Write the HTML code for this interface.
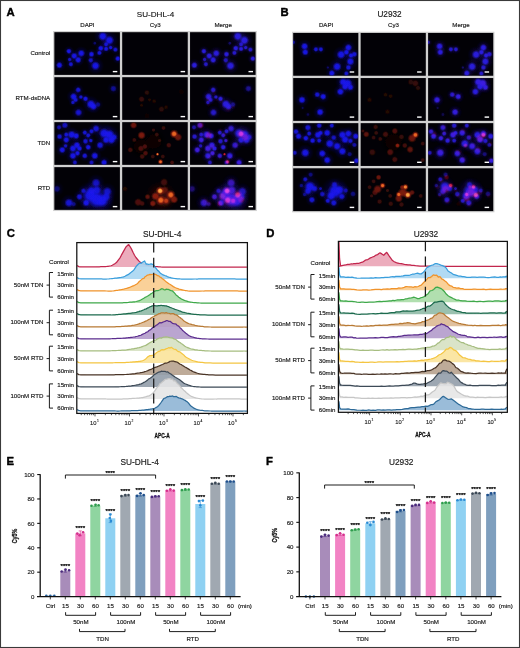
<!DOCTYPE html>
<html><head><meta charset="utf-8"><title>Figure</title>
<style>
html,body{margin:0;padding:0;background:#fff;}
body{width:520px;height:648px;overflow:hidden;font-family:"Liberation Sans",sans-serif;}
svg{display:block;font-family:"Liberation Sans",sans-serif;will-change:transform;}
</style></head><body>
<svg width="520" height="648" viewBox="0 0 520 648">
<rect x="0" y="0" width="520" height="648" fill="#ffffff"/>
<defs><radialGradient id="g0"><stop offset="0" stop-color="rgb(26,22,240)" stop-opacity="1"/><stop offset="0.48" stop-color="rgb(26,22,240)" stop-opacity="0.93"/><stop offset="0.74" stop-color="rgb(26,22,240)" stop-opacity="0.42"/><stop offset="1" stop-color="rgb(26,22,240)" stop-opacity="0"/></radialGradient><radialGradient id="g1"><stop offset="0" stop-color="rgb(18,14,150)" stop-opacity="1"/><stop offset="0.48" stop-color="rgb(18,14,150)" stop-opacity="0.93"/><stop offset="0.74" stop-color="rgb(18,14,150)" stop-opacity="0.42"/><stop offset="1" stop-color="rgb(18,14,150)" stop-opacity="0"/></radialGradient><radialGradient id="g2"><stop offset="0" stop-color="rgb(17,4,3)" stop-opacity="1"/><stop offset="0.48" stop-color="rgb(17,4,3)" stop-opacity="0.93"/><stop offset="0.74" stop-color="rgb(17,4,3)" stop-opacity="0.42"/><stop offset="1" stop-color="rgb(17,4,3)" stop-opacity="0"/></radialGradient><radialGradient id="g3"><stop offset="0" stop-color="rgb(35,8,6)" stop-opacity="1"/><stop offset="0.48" stop-color="rgb(35,8,6)" stop-opacity="0.93"/><stop offset="0.74" stop-color="rgb(35,8,6)" stop-opacity="0.42"/><stop offset="1" stop-color="rgb(35,8,6)" stop-opacity="0"/></radialGradient><radialGradient id="g4"><stop offset="0" stop-color="rgb(44,11,8)" stop-opacity="1"/><stop offset="0.48" stop-color="rgb(44,11,8)" stop-opacity="0.93"/><stop offset="0.74" stop-color="rgb(44,11,8)" stop-opacity="0.42"/><stop offset="1" stop-color="rgb(44,11,8)" stop-opacity="0"/></radialGradient><radialGradient id="g5"><stop offset="0" stop-color="rgb(56,13,9)" stop-opacity="1"/><stop offset="0.48" stop-color="rgb(56,13,9)" stop-opacity="0.93"/><stop offset="0.74" stop-color="rgb(56,13,9)" stop-opacity="0.42"/><stop offset="1" stop-color="rgb(56,13,9)" stop-opacity="0"/></radialGradient><radialGradient id="g6"><stop offset="0" stop-color="rgb(8,2,1)" stop-opacity="1"/><stop offset="0.48" stop-color="rgb(8,2,1)" stop-opacity="0.93"/><stop offset="0.74" stop-color="rgb(8,2,1)" stop-opacity="0.42"/><stop offset="1" stop-color="rgb(8,2,1)" stop-opacity="0"/></radialGradient><radialGradient id="g7"><stop offset="0" stop-color="rgb(68,15,10)" stop-opacity="1"/><stop offset="0.48" stop-color="rgb(68,15,10)" stop-opacity="0.93"/><stop offset="0.74" stop-color="rgb(68,15,10)" stop-opacity="0.42"/><stop offset="1" stop-color="rgb(68,15,10)" stop-opacity="0"/></radialGradient><radialGradient id="g8"><stop offset="0" stop-color="rgb(80,17,11)" stop-opacity="1"/><stop offset="0.48" stop-color="rgb(80,17,11)" stop-opacity="0.93"/><stop offset="0.74" stop-color="rgb(80,17,11)" stop-opacity="0.42"/><stop offset="1" stop-color="rgb(80,17,11)" stop-opacity="0"/></radialGradient><radialGradient id="g9"><stop offset="0" stop-color="rgb(108,22,12)" stop-opacity="1"/><stop offset="0.48" stop-color="rgb(108,22,12)" stop-opacity="0.93"/><stop offset="0.74" stop-color="rgb(108,22,12)" stop-opacity="0.42"/><stop offset="1" stop-color="rgb(108,22,12)" stop-opacity="0"/></radialGradient><radialGradient id="g10"><stop offset="0" stop-color="rgb(124,26,13)" stop-opacity="1"/><stop offset="0.48" stop-color="rgb(124,26,13)" stop-opacity="0.93"/><stop offset="0.74" stop-color="rgb(124,26,13)" stop-opacity="0.42"/><stop offset="1" stop-color="rgb(124,26,13)" stop-opacity="0"/></radialGradient><radialGradient id="g11"><stop offset="0" stop-color="rgb(140,31,14)" stop-opacity="1"/><stop offset="0.48" stop-color="rgb(140,31,14)" stop-opacity="0.93"/><stop offset="0.74" stop-color="rgb(140,31,14)" stop-opacity="0.42"/><stop offset="1" stop-color="rgb(140,31,14)" stop-opacity="0"/></radialGradient><radialGradient id="g12"><stop offset="0" stop-color="rgb(156,38,16)" stop-opacity="1"/><stop offset="0.48" stop-color="rgb(156,38,16)" stop-opacity="0.93"/><stop offset="0.74" stop-color="rgb(156,38,16)" stop-opacity="0.42"/><stop offset="1" stop-color="rgb(156,38,16)" stop-opacity="0"/></radialGradient><radialGradient id="g13"><stop offset="0" stop-color="rgb(235,104,36)" stop-opacity="1"/><stop offset="0.48" stop-color="rgb(235,104,36)" stop-opacity="0.93"/><stop offset="0.74" stop-color="rgb(235,104,36)" stop-opacity="0.42"/><stop offset="1" stop-color="rgb(235,104,36)" stop-opacity="0"/></radialGradient><radialGradient id="g14"><stop offset="0" stop-color="rgb(245,135,52)" stop-opacity="1"/><stop offset="0.48" stop-color="rgb(245,135,52)" stop-opacity="0.93"/><stop offset="0.74" stop-color="rgb(245,135,52)" stop-opacity="0.42"/><stop offset="1" stop-color="rgb(245,135,52)" stop-opacity="0"/></radialGradient><radialGradient id="g15"><stop offset="0" stop-color="rgb(94,19,11)" stop-opacity="1"/><stop offset="0.48" stop-color="rgb(94,19,11)" stop-opacity="0.93"/><stop offset="0.74" stop-color="rgb(94,19,11)" stop-opacity="0.42"/><stop offset="1" stop-color="rgb(94,19,11)" stop-opacity="0"/></radialGradient><radialGradient id="g16"><stop offset="0" stop-color="rgb(190,58,22)" stop-opacity="1"/><stop offset="0.48" stop-color="rgb(190,58,22)" stop-opacity="0.93"/><stop offset="0.74" stop-color="rgb(190,58,22)" stop-opacity="0.42"/><stop offset="1" stop-color="rgb(190,58,22)" stop-opacity="0"/></radialGradient><radialGradient id="g17"><stop offset="0" stop-color="rgb(255,168,70)" stop-opacity="1"/><stop offset="0.48" stop-color="rgb(255,168,70)" stop-opacity="0.93"/><stop offset="0.74" stop-color="rgb(255,168,70)" stop-opacity="0.42"/><stop offset="1" stop-color="rgb(255,168,70)" stop-opacity="0"/></radialGradient><radialGradient id="g18"><stop offset="0" stop-color="rgb(44,28,232)" stop-opacity="1"/><stop offset="0.48" stop-color="rgb(44,28,232)" stop-opacity="0.93"/><stop offset="0.74" stop-color="rgb(44,28,232)" stop-opacity="0.42"/><stop offset="1" stop-color="rgb(44,28,232)" stop-opacity="0"/></radialGradient><radialGradient id="g19"><stop offset="0" stop-color="rgb(30,18,150)" stop-opacity="1"/><stop offset="0.48" stop-color="rgb(30,18,150)" stop-opacity="0.93"/><stop offset="0.74" stop-color="rgb(30,18,150)" stop-opacity="0.42"/><stop offset="1" stop-color="rgb(30,18,150)" stop-opacity="0"/></radialGradient><radialGradient id="g20"><stop offset="0" stop-color="rgb(6,0,0)" stop-opacity="1"/><stop offset="0.48" stop-color="rgb(6,0,0)" stop-opacity="0.93"/><stop offset="0.74" stop-color="rgb(6,0,0)" stop-opacity="0.42"/><stop offset="1" stop-color="rgb(6,0,0)" stop-opacity="0"/></radialGradient><radialGradient id="g21"><stop offset="0" stop-color="rgb(13,1,1)" stop-opacity="1"/><stop offset="0.48" stop-color="rgb(13,1,1)" stop-opacity="0.93"/><stop offset="0.74" stop-color="rgb(13,1,1)" stop-opacity="0.42"/><stop offset="1" stop-color="rgb(13,1,1)" stop-opacity="0"/></radialGradient><radialGradient id="g22"><stop offset="0" stop-color="rgb(16,1,2)" stop-opacity="1"/><stop offset="0.48" stop-color="rgb(16,1,2)" stop-opacity="0.93"/><stop offset="0.74" stop-color="rgb(16,1,2)" stop-opacity="0.42"/><stop offset="1" stop-color="rgb(16,1,2)" stop-opacity="0"/></radialGradient><radialGradient id="g23"><stop offset="0" stop-color="rgb(21,1,2)" stop-opacity="1"/><stop offset="0.48" stop-color="rgb(21,1,2)" stop-opacity="0.93"/><stop offset="0.74" stop-color="rgb(21,1,2)" stop-opacity="0.42"/><stop offset="1" stop-color="rgb(21,1,2)" stop-opacity="0"/></radialGradient><radialGradient id="g24"><stop offset="0" stop-color="rgb(3,0,0)" stop-opacity="1"/><stop offset="0.48" stop-color="rgb(3,0,0)" stop-opacity="0.93"/><stop offset="0.74" stop-color="rgb(3,0,0)" stop-opacity="0.42"/><stop offset="1" stop-color="rgb(3,0,0)" stop-opacity="0"/></radialGradient><radialGradient id="g25"><stop offset="0" stop-color="rgb(26,2,2)" stop-opacity="1"/><stop offset="0.48" stop-color="rgb(26,2,2)" stop-opacity="0.93"/><stop offset="0.74" stop-color="rgb(26,2,2)" stop-opacity="0.42"/><stop offset="1" stop-color="rgb(26,2,2)" stop-opacity="0"/></radialGradient><radialGradient id="g26"><stop offset="0" stop-color="rgb(30,2,2)" stop-opacity="1"/><stop offset="0.48" stop-color="rgb(30,2,2)" stop-opacity="0.93"/><stop offset="0.74" stop-color="rgb(30,2,2)" stop-opacity="0.42"/><stop offset="1" stop-color="rgb(30,2,2)" stop-opacity="0"/></radialGradient><radialGradient id="g27"><stop offset="0" stop-color="rgb(73,5,5)" stop-opacity="1"/><stop offset="0.48" stop-color="rgb(73,5,5)" stop-opacity="0.93"/><stop offset="0.74" stop-color="rgb(73,5,5)" stop-opacity="0.42"/><stop offset="1" stop-color="rgb(73,5,5)" stop-opacity="0"/></radialGradient><radialGradient id="g28"><stop offset="0" stop-color="rgb(84,6,6)" stop-opacity="1"/><stop offset="0.48" stop-color="rgb(84,6,6)" stop-opacity="0.93"/><stop offset="0.74" stop-color="rgb(84,6,6)" stop-opacity="0.42"/><stop offset="1" stop-color="rgb(84,6,6)" stop-opacity="0"/></radialGradient><radialGradient id="g29"><stop offset="0" stop-color="rgb(95,7,6)" stop-opacity="1"/><stop offset="0.48" stop-color="rgb(95,7,6)" stop-opacity="0.93"/><stop offset="0.74" stop-color="rgb(95,7,6)" stop-opacity="0.42"/><stop offset="1" stop-color="rgb(95,7,6)" stop-opacity="0"/></radialGradient><radialGradient id="g30"><stop offset="0" stop-color="rgb(106,9,7)" stop-opacity="1"/><stop offset="0.48" stop-color="rgb(106,9,7)" stop-opacity="0.93"/><stop offset="0.74" stop-color="rgb(106,9,7)" stop-opacity="0.42"/><stop offset="1" stop-color="rgb(106,9,7)" stop-opacity="0"/></radialGradient><radialGradient id="g31"><stop offset="0" stop-color="rgb(199,31,21)" stop-opacity="1"/><stop offset="0.48" stop-color="rgb(199,31,21)" stop-opacity="0.93"/><stop offset="0.74" stop-color="rgb(199,31,21)" stop-opacity="0.42"/><stop offset="1" stop-color="rgb(199,31,21)" stop-opacity="0"/></radialGradient><radialGradient id="g32"><stop offset="0" stop-color="rgb(208,40,31)" stop-opacity="1"/><stop offset="0.48" stop-color="rgb(208,40,31)" stop-opacity="0.93"/><stop offset="0.74" stop-color="rgb(208,40,31)" stop-opacity="0.42"/><stop offset="1" stop-color="rgb(208,40,31)" stop-opacity="0"/></radialGradient><radialGradient id="g33"><stop offset="0" stop-color="rgb(35,2,2)" stop-opacity="1"/><stop offset="0.48" stop-color="rgb(35,2,2)" stop-opacity="0.93"/><stop offset="0.74" stop-color="rgb(35,2,2)" stop-opacity="0.42"/><stop offset="1" stop-color="rgb(35,2,2)" stop-opacity="0"/></radialGradient><radialGradient id="g34"><stop offset="0" stop-color="rgb(161,17,13)" stop-opacity="1"/><stop offset="0.48" stop-color="rgb(161,17,13)" stop-opacity="0.93"/><stop offset="0.74" stop-color="rgb(161,17,13)" stop-opacity="0.42"/><stop offset="1" stop-color="rgb(161,17,13)" stop-opacity="0"/></radialGradient><radialGradient id="g35"><stop offset="0" stop-color="rgb(216,50,42)" stop-opacity="1"/><stop offset="0.48" stop-color="rgb(216,50,42)" stop-opacity="0.93"/><stop offset="0.74" stop-color="rgb(216,50,42)" stop-opacity="0.42"/><stop offset="1" stop-color="rgb(216,50,42)" stop-opacity="0"/></radialGradient></defs>
<defs>
<filter id="bl" x="-20%" y="-20%" width="140%" height="140%"><feGaussianBlur stdDeviation="1.0"/></filter>
<filter id="bl2" x="-20%" y="-20%" width="140%" height="140%"><feGaussianBlur stdDeviation="0.7"/></filter>
<filter id="soft" x="-5%" y="-5%" width="110%" height="110%"><feGaussianBlur stdDeviation="0.35"/></filter>
<clipPath id="cA00"><rect x="54.35" y="32.2" width="65.55" height="42.7"/></clipPath>
<clipPath id="cA01"><rect x="54.35" y="77.2" width="65.55" height="42.7"/></clipPath>
<clipPath id="cA02"><rect x="54.35" y="122.15" width="65.55" height="42.7"/></clipPath>
<clipPath id="cA03"><rect x="54.35" y="167.15" width="65.55" height="42.7"/></clipPath>
<clipPath id="cA10"><rect x="122.2" y="32.2" width="65.55" height="42.7"/></clipPath>
<clipPath id="cA11"><rect x="122.2" y="77.2" width="65.55" height="42.7"/></clipPath>
<clipPath id="cA12"><rect x="122.2" y="122.15" width="65.55" height="42.7"/></clipPath>
<clipPath id="cA13"><rect x="122.2" y="167.15" width="65.55" height="42.7"/></clipPath>
<clipPath id="cA20"><rect x="190.05" y="32.2" width="65.55" height="42.7"/></clipPath>
<clipPath id="cA21"><rect x="190.05" y="77.2" width="65.55" height="42.7"/></clipPath>
<clipPath id="cA22"><rect x="190.05" y="122.15" width="65.55" height="42.7"/></clipPath>
<clipPath id="cA23"><rect x="190.05" y="167.15" width="65.55" height="42.7"/></clipPath>
<clipPath id="cB00"><rect x="293.2" y="32.95" width="65.15" height="42.8"/></clipPath>
<clipPath id="cB01"><rect x="293.2" y="78.05" width="65.15" height="42.8"/></clipPath>
<clipPath id="cB02"><rect x="293.2" y="123.15" width="65.15" height="42.8"/></clipPath>
<clipPath id="cB03"><rect x="293.2" y="168.3" width="65.15" height="42.8"/></clipPath>
<clipPath id="cB10"><rect x="360.65" y="32.95" width="65.15" height="42.8"/></clipPath>
<clipPath id="cB11"><rect x="360.65" y="78.05" width="65.15" height="42.8"/></clipPath>
<clipPath id="cB12"><rect x="360.65" y="123.15" width="65.15" height="42.8"/></clipPath>
<clipPath id="cB13"><rect x="360.65" y="168.3" width="65.15" height="42.8"/></clipPath>
<clipPath id="cB20"><rect x="428.1" y="32.95" width="65.15" height="42.8"/></clipPath>
<clipPath id="cB21"><rect x="428.1" y="78.05" width="65.15" height="42.8"/></clipPath>
<clipPath id="cB22"><rect x="428.1" y="123.15" width="65.15" height="42.8"/></clipPath>
<clipPath id="cB23"><rect x="428.1" y="168.3" width="65.15" height="42.8"/></clipPath>
</defs>
<rect x="53.1" y="31.0" width="203.75" height="180.05" fill="#d0d0d0"/>
<rect x="54.35" y="32.2" width="65.55" height="42.7" fill="#020106"/>
<g clip-path="url(#cA00)" style="isolation:isolate">
<g filter="url(#bl2)"><circle cx="59.4" cy="65.2" r="6.45" fill="url(#g1)" opacity="0.30"/><circle cx="68.9" cy="51.2" r="5.37" fill="url(#g1)" opacity="0.30"/><circle cx="69.6" cy="59.5" r="4.30" fill="url(#g1)" opacity="0.24"/><circle cx="70.9" cy="64.2" r="5.02" fill="url(#g1)" opacity="0.27"/><circle cx="74.2" cy="55.9" r="6.45" fill="url(#g1)" opacity="0.30"/><circle cx="78.2" cy="59.9" r="6.45" fill="url(#g1)" opacity="0.30"/><circle cx="81.3" cy="53.3" r="7.17" fill="url(#g1)" opacity="0.30"/><circle cx="91.5" cy="54.2" r="5.73" fill="url(#g1)" opacity="0.30"/><circle cx="90.8" cy="60.2" r="5.37" fill="url(#g1)" opacity="0.24"/><circle cx="95.5" cy="65.8" r="8.60" fill="url(#g1)" opacity="0.30"/><circle cx="99.4" cy="52.9" r="5.02" fill="url(#g1)" opacity="0.27"/><circle cx="100.8" cy="48.2" r="5.73" fill="url(#g1)" opacity="0.30"/><circle cx="102.8" cy="36.3" r="8.96" fill="url(#g1)" opacity="0.30"/><circle cx="106.1" cy="44.3" r="5.02" fill="url(#g1)" opacity="0.27"/><circle cx="106.1" cy="48.9" r="5.02" fill="url(#g1)" opacity="0.30"/><circle cx="109.4" cy="40.3" r="8.96" fill="url(#g1)" opacity="0.30"/><circle cx="110.7" cy="47.6" r="4.30" fill="url(#g1)" opacity="0.27"/><circle cx="115.4" cy="49.6" r="5.02" fill="url(#g1)" opacity="0.27"/><circle cx="117.8" cy="58.6" r="5.37" fill="url(#g1)" opacity="0.30"/><circle cx="94.8" cy="43.2" r="3.58" fill="url(#g1)" opacity="0.12"/><circle cx="59.4" cy="65.2" r="3.39" fill="url(#g0)" opacity="0.95"/><circle cx="68.9" cy="51.2" r="2.83" fill="url(#g0)" opacity="0.95"/><circle cx="69.6" cy="59.5" r="2.26" fill="url(#g0)" opacity="0.76"/><circle cx="70.9" cy="64.2" r="2.64" fill="url(#g0)" opacity="0.85"/><circle cx="74.2" cy="55.9" r="3.39" fill="url(#g0)" opacity="0.95"/><circle cx="78.2" cy="59.9" r="3.39" fill="url(#g0)" opacity="0.95"/><circle cx="81.3" cy="53.3" r="3.77" fill="url(#g0)" opacity="0.95"/><circle cx="91.5" cy="54.2" r="3.01" fill="url(#g0)" opacity="0.95"/><circle cx="90.8" cy="60.2" r="2.83" fill="url(#g0)" opacity="0.76"/><circle cx="95.5" cy="65.8" r="4.52" fill="url(#g0)" opacity="0.95"/><circle cx="99.4" cy="52.9" r="2.64" fill="url(#g0)" opacity="0.85"/><circle cx="100.8" cy="48.2" r="3.01" fill="url(#g0)" opacity="0.95"/><circle cx="102.8" cy="36.3" r="4.71" fill="url(#g0)" opacity="0.95"/><circle cx="106.1" cy="44.3" r="2.64" fill="url(#g0)" opacity="0.85"/><circle cx="106.1" cy="48.9" r="2.64" fill="url(#g0)" opacity="0.95"/><circle cx="109.4" cy="40.3" r="4.71" fill="url(#g0)" opacity="0.95"/><circle cx="110.7" cy="47.6" r="2.26" fill="url(#g0)" opacity="0.85"/><circle cx="115.4" cy="49.6" r="2.64" fill="url(#g0)" opacity="0.85"/><circle cx="117.8" cy="58.6" r="2.83" fill="url(#g0)" opacity="0.95"/><circle cx="94.8" cy="43.2" r="1.88" fill="url(#g0)" opacity="0.38"/></g>
</g>
<rect x="112.8" y="70.9" width="4.5" height="1.4" fill="#ffffff"/>
<rect x="54.35" y="77.2" width="65.55" height="42.7" fill="#020106"/>
<g clip-path="url(#cA01)" style="isolation:isolate">
<g filter="url(#bl2)"><circle cx="78.2" cy="89.9" r="5.73" fill="url(#g1)" opacity="0.27"/><circle cx="73.6" cy="96.6" r="7.17" fill="url(#g1)" opacity="0.30"/><circle cx="80.9" cy="97.0" r="4.30" fill="url(#g1)" opacity="0.27"/><circle cx="75.6" cy="99.9" r="5.02" fill="url(#g1)" opacity="0.27"/><circle cx="72.9" cy="102.5" r="4.30" fill="url(#g1)" opacity="0.24"/><circle cx="85.5" cy="98.8" r="5.37" fill="url(#g1)" opacity="0.30"/><circle cx="90.8" cy="104.1" r="8.60" fill="url(#g1)" opacity="0.30"/><circle cx="93.5" cy="106.5" r="7.17" fill="url(#g1)" opacity="0.30"/><circle cx="98.1" cy="104.5" r="5.37" fill="url(#g1)" opacity="0.15"/><circle cx="78.5" cy="112.5" r="7.17" fill="url(#g1)" opacity="0.27"/><circle cx="113.4" cy="88.6" r="6.45" fill="url(#g1)" opacity="0.18"/><circle cx="78.2" cy="89.9" r="3.01" fill="url(#g0)" opacity="0.85"/><circle cx="73.6" cy="96.6" r="3.77" fill="url(#g0)" opacity="0.95"/><circle cx="80.9" cy="97.0" r="2.26" fill="url(#g0)" opacity="0.85"/><circle cx="75.6" cy="99.9" r="2.64" fill="url(#g0)" opacity="0.85"/><circle cx="72.9" cy="102.5" r="2.26" fill="url(#g0)" opacity="0.76"/><circle cx="85.5" cy="98.8" r="2.83" fill="url(#g0)" opacity="0.95"/><circle cx="90.8" cy="104.1" r="4.52" fill="url(#g0)" opacity="0.95"/><circle cx="93.5" cy="106.5" r="3.77" fill="url(#g0)" opacity="0.95"/><circle cx="98.1" cy="104.5" r="2.83" fill="url(#g0)" opacity="0.47"/><circle cx="78.5" cy="112.5" r="3.77" fill="url(#g0)" opacity="0.85"/><circle cx="113.4" cy="88.6" r="3.39" fill="url(#g0)" opacity="0.57"/></g>
</g>
<rect x="112.8" y="115.9" width="4.5" height="1.4" fill="#ffffff"/>
<rect x="54.35" y="122.15" width="65.55" height="42.7" fill="#020106"/>
<g clip-path="url(#cA02)" style="isolation:isolate">
<g filter="url(#bl2)"><circle cx="64.9" cy="125.3" r="6.45" fill="url(#g1)" opacity="0.24"/><circle cx="59.0" cy="127.3" r="5.02" fill="url(#g1)" opacity="0.21"/><circle cx="59.6" cy="136.6" r="5.73" fill="url(#g1)" opacity="0.27"/><circle cx="66.3" cy="134.6" r="5.02" fill="url(#g1)" opacity="0.27"/><circle cx="66.3" cy="139.9" r="6.45" fill="url(#g1)" opacity="0.30"/><circle cx="71.6" cy="134.6" r="7.88" fill="url(#g1)" opacity="0.30"/><circle cx="76.2" cy="135.9" r="6.45" fill="url(#g1)" opacity="0.30"/><circle cx="62.3" cy="149.9" r="6.45" fill="url(#g1)" opacity="0.30"/><circle cx="65.6" cy="145.9" r="4.30" fill="url(#g1)" opacity="0.24"/><circle cx="72.9" cy="148.5" r="7.17" fill="url(#g1)" opacity="0.30"/><circle cx="76.9" cy="145.2" r="7.17" fill="url(#g1)" opacity="0.30"/><circle cx="79.5" cy="148.5" r="5.37" fill="url(#g1)" opacity="0.30"/><circle cx="77.5" cy="153.2" r="5.37" fill="url(#g1)" opacity="0.30"/><circle cx="72.9" cy="155.8" r="7.17" fill="url(#g1)" opacity="0.30"/><circle cx="74.9" cy="162.5" r="5.02" fill="url(#g1)" opacity="0.24"/><circle cx="84.8" cy="132.6" r="5.02" fill="url(#g1)" opacity="0.27"/><circle cx="88.2" cy="135.3" r="5.02" fill="url(#g1)" opacity="0.27"/><circle cx="91.5" cy="131.3" r="5.02" fill="url(#g1)" opacity="0.27"/><circle cx="85.5" cy="141.2" r="5.73" fill="url(#g1)" opacity="0.27"/><circle cx="90.8" cy="140.6" r="4.30" fill="url(#g1)" opacity="0.27"/><circle cx="88.2" cy="147.2" r="5.73" fill="url(#g1)" opacity="0.30"/><circle cx="84.8" cy="155.8" r="5.73" fill="url(#g1)" opacity="0.27"/><circle cx="94.8" cy="155.8" r="7.17" fill="url(#g1)" opacity="0.30"/><circle cx="91.5" cy="162.5" r="5.02" fill="url(#g1)" opacity="0.24"/><circle cx="96.1" cy="128.6" r="7.17" fill="url(#g1)" opacity="0.27"/><circle cx="100.1" cy="145.2" r="7.17" fill="url(#g1)" opacity="0.27"/><circle cx="104.1" cy="133.3" r="10.03" fill="url(#g1)" opacity="0.30"/><circle cx="109.4" cy="134.6" r="10.03" fill="url(#g1)" opacity="0.30"/><circle cx="111.4" cy="139.9" r="7.88" fill="url(#g1)" opacity="0.30"/><circle cx="106.1" cy="139.9" r="7.17" fill="url(#g1)" opacity="0.30"/><circle cx="114.0" cy="137.2" r="6.45" fill="url(#g1)" opacity="0.27"/><circle cx="104.1" cy="162.5" r="6.45" fill="url(#g1)" opacity="0.30"/><circle cx="64.9" cy="125.3" r="3.39" fill="url(#g0)" opacity="0.76"/><circle cx="59.0" cy="127.3" r="2.64" fill="url(#g0)" opacity="0.66"/><circle cx="59.6" cy="136.6" r="3.01" fill="url(#g0)" opacity="0.85"/><circle cx="66.3" cy="134.6" r="2.64" fill="url(#g0)" opacity="0.85"/><circle cx="66.3" cy="139.9" r="3.39" fill="url(#g0)" opacity="0.95"/><circle cx="71.6" cy="134.6" r="4.15" fill="url(#g0)" opacity="0.95"/><circle cx="76.2" cy="135.9" r="3.39" fill="url(#g0)" opacity="0.95"/><circle cx="62.3" cy="149.9" r="3.39" fill="url(#g0)" opacity="0.95"/><circle cx="65.6" cy="145.9" r="2.26" fill="url(#g0)" opacity="0.76"/><circle cx="72.9" cy="148.5" r="3.77" fill="url(#g0)" opacity="0.95"/><circle cx="76.9" cy="145.2" r="3.77" fill="url(#g0)" opacity="0.95"/><circle cx="79.5" cy="148.5" r="2.83" fill="url(#g0)" opacity="0.95"/><circle cx="77.5" cy="153.2" r="2.83" fill="url(#g0)" opacity="0.95"/><circle cx="72.9" cy="155.8" r="3.77" fill="url(#g0)" opacity="0.95"/><circle cx="74.9" cy="162.5" r="2.64" fill="url(#g0)" opacity="0.76"/><circle cx="84.8" cy="132.6" r="2.64" fill="url(#g0)" opacity="0.85"/><circle cx="88.2" cy="135.3" r="2.64" fill="url(#g0)" opacity="0.85"/><circle cx="91.5" cy="131.3" r="2.64" fill="url(#g0)" opacity="0.85"/><circle cx="85.5" cy="141.2" r="3.01" fill="url(#g0)" opacity="0.85"/><circle cx="90.8" cy="140.6" r="2.26" fill="url(#g0)" opacity="0.85"/><circle cx="88.2" cy="147.2" r="3.01" fill="url(#g0)" opacity="0.95"/><circle cx="84.8" cy="155.8" r="3.01" fill="url(#g0)" opacity="0.85"/><circle cx="94.8" cy="155.8" r="3.77" fill="url(#g0)" opacity="0.95"/><circle cx="91.5" cy="162.5" r="2.64" fill="url(#g0)" opacity="0.76"/><circle cx="96.1" cy="128.6" r="3.77" fill="url(#g0)" opacity="0.85"/><circle cx="100.1" cy="145.2" r="3.77" fill="url(#g0)" opacity="0.85"/><circle cx="104.1" cy="133.3" r="5.28" fill="url(#g0)" opacity="0.95"/><circle cx="109.4" cy="134.6" r="5.28" fill="url(#g0)" opacity="0.95"/><circle cx="111.4" cy="139.9" r="4.15" fill="url(#g0)" opacity="0.95"/><circle cx="106.1" cy="139.9" r="3.77" fill="url(#g0)" opacity="0.95"/><circle cx="114.0" cy="137.2" r="3.39" fill="url(#g0)" opacity="0.85"/><circle cx="104.1" cy="162.5" r="3.39" fill="url(#g0)" opacity="0.95"/></g>
</g>
<rect x="112.8" y="160.9" width="4.5" height="1.4" fill="#ffffff"/>
<rect x="54.35" y="167.15" width="65.55" height="42.7" fill="#020106"/>
<g clip-path="url(#cA03)" style="isolation:isolate">
<g filter="url(#bl2)"><circle cx="57.0" cy="188.9" r="7.17" fill="url(#g1)" opacity="0.14"/><circle cx="68.9" cy="202.8" r="8.60" fill="url(#g1)" opacity="0.27"/><circle cx="73.6" cy="204.1" r="5.02" fill="url(#g1)" opacity="0.15"/><circle cx="79.5" cy="196.8" r="6.45" fill="url(#g1)" opacity="0.27"/><circle cx="83.5" cy="190.9" r="5.37" fill="url(#g1)" opacity="0.24"/><circle cx="86.2" cy="202.8" r="7.17" fill="url(#g1)" opacity="0.30"/><circle cx="90.2" cy="195.5" r="14.33" fill="url(#g1)" opacity="0.30"/><circle cx="96.8" cy="199.5" r="16.12" fill="url(#g1)" opacity="0.30"/><circle cx="102.1" cy="200.8" r="12.54" fill="url(#g1)" opacity="0.30"/><circle cx="96.1" cy="182.9" r="8.96" fill="url(#g1)" opacity="0.24"/><circle cx="96.8" cy="190.2" r="8.96" fill="url(#g1)" opacity="0.27"/><circle cx="107.4" cy="191.5" r="8.96" fill="url(#g1)" opacity="0.24"/><circle cx="106.1" cy="196.8" r="8.96" fill="url(#g1)" opacity="0.27"/><circle cx="91.5" cy="190.9" r="8.96" fill="url(#g1)" opacity="0.27"/><circle cx="57.0" cy="188.9" r="3.77" fill="url(#g0)" opacity="0.43"/><circle cx="68.9" cy="202.8" r="4.52" fill="url(#g0)" opacity="0.85"/><circle cx="73.6" cy="204.1" r="2.64" fill="url(#g0)" opacity="0.47"/><circle cx="79.5" cy="196.8" r="3.39" fill="url(#g0)" opacity="0.85"/><circle cx="83.5" cy="190.9" r="2.83" fill="url(#g0)" opacity="0.76"/><circle cx="86.2" cy="202.8" r="3.77" fill="url(#g0)" opacity="0.95"/><circle cx="90.2" cy="195.5" r="7.54" fill="url(#g0)" opacity="0.95"/><circle cx="96.8" cy="199.5" r="8.48" fill="url(#g0)" opacity="0.95"/><circle cx="102.1" cy="200.8" r="6.59" fill="url(#g0)" opacity="0.95"/><circle cx="96.1" cy="182.9" r="4.71" fill="url(#g0)" opacity="0.76"/><circle cx="96.8" cy="190.2" r="4.71" fill="url(#g0)" opacity="0.85"/><circle cx="107.4" cy="191.5" r="4.71" fill="url(#g0)" opacity="0.76"/><circle cx="106.1" cy="196.8" r="4.71" fill="url(#g0)" opacity="0.85"/><circle cx="91.5" cy="190.9" r="4.71" fill="url(#g0)" opacity="0.85"/></g>
</g>
<rect x="112.8" y="205.9" width="4.5" height="1.4" fill="#ffffff"/>
<rect x="122.2" y="32.2" width="65.55" height="42.7" fill="#020106"/>
<g clip-path="url(#cA10)" style="isolation:isolate">
</g>
<rect x="180.6" y="70.9" width="4.5" height="1.4" fill="#ffffff"/>
<rect x="122.2" y="77.2" width="65.55" height="42.7" fill="#020106"/>
<g clip-path="url(#cA11)" style="isolation:isolate">
<g filter="url(#bl2)"><circle cx="146.9" cy="115.8" r="2.97" fill="url(#g2)"/><circle cx="181.4" cy="91.7" r="2.97" fill="url(#g2)"/><circle cx="149.5" cy="99.9" r="2.12" fill="url(#g3)"/><circle cx="154.2" cy="101.2" r="2.55" fill="url(#g3)"/><circle cx="141.6" cy="105.2" r="2.12" fill="url(#g3)"/><circle cx="166.1" cy="107.2" r="2.55" fill="url(#g3)"/><circle cx="146.9" cy="92.6" r="2.97" fill="url(#g4)"/><circle cx="161.5" cy="109.2" r="3.40" fill="url(#g4)"/><circle cx="141.6" cy="99.2" r="3.40" fill="url(#g5)"/></g>
</g>
<rect x="180.6" y="115.9" width="4.5" height="1.4" fill="#ffffff"/>
<rect x="122.2" y="122.15" width="65.55" height="42.7" fill="#020106"/>
<g clip-path="url(#cA12)" style="isolation:isolate">
<g filter="url(#bl2)"><circle cx="154.2" cy="141.2" r="12.74" fill="url(#g6)"/><circle cx="140.9" cy="146.5" r="12.74" fill="url(#g6)"/><circle cx="153.5" cy="130.0" r="2.12" fill="url(#g5)"/><circle cx="156.8" cy="134.6" r="2.55" fill="url(#g5)"/><circle cx="163.5" cy="128.0" r="2.55" fill="url(#g5)"/><circle cx="159.5" cy="140.6" r="2.12" fill="url(#g5)"/><circle cx="134.3" cy="139.9" r="2.55" fill="url(#g5)"/><circle cx="152.8" cy="156.5" r="2.55" fill="url(#g5)"/><circle cx="162.8" cy="156.5" r="2.55" fill="url(#g5)"/><circle cx="168.8" cy="145.2" r="2.97" fill="url(#g7)"/><circle cx="130.3" cy="149.9" r="2.97" fill="url(#g7)"/><circle cx="142.2" cy="156.5" r="2.97" fill="url(#g7)"/><circle cx="172.1" cy="162.5" r="2.55" fill="url(#g7)"/><circle cx="140.9" cy="148.5" r="3.40" fill="url(#g8)"/><circle cx="144.9" cy="146.5" r="2.97" fill="url(#g8)"/><circle cx="145.5" cy="153.2" r="2.97" fill="url(#g8)"/><circle cx="133.6" cy="125.3" r="3.82" fill="url(#g9)"/><circle cx="178.1" cy="137.2" r="4.25" fill="url(#g9)"/><circle cx="141.6" cy="135.3" r="4.25" fill="url(#g10)"/><circle cx="174.1" cy="133.9" r="4.67" fill="url(#g11)"/><circle cx="160.5" cy="161.8" r="2.97" fill="url(#g11)"/><circle cx="157.5" cy="154.2" r="1.91" fill="url(#g12)"/><circle cx="174.1" cy="133.9" r="2.90" fill="url(#g13)"/><circle cx="160.5" cy="161.8" r="1.84" fill="url(#g13)"/><circle cx="157.5" cy="154.2" r="1.18" fill="url(#g14)"/></g>
</g>
<rect x="180.6" y="160.9" width="4.5" height="1.4" fill="#ffffff"/>
<rect x="122.2" y="167.15" width="65.55" height="42.7" fill="#020106"/>
<g clip-path="url(#cA13)" style="isolation:isolate">
<g filter="url(#bl2)"><circle cx="160.8" cy="196.8" r="15.92" fill="url(#g3)"/><circle cx="125.0" cy="188.9" r="2.97" fill="url(#g3)"/><circle cx="164.8" cy="198.2" r="9.55" fill="url(#g5)"/><circle cx="142.2" cy="203.5" r="2.97" fill="url(#g7)"/><circle cx="164.1" cy="182.2" r="4.25" fill="url(#g7)"/><circle cx="138.2" cy="202.2" r="4.25" fill="url(#g8)"/><circle cx="147.5" cy="196.8" r="2.97" fill="url(#g15)"/><circle cx="164.8" cy="190.2" r="4.25" fill="url(#g15)"/><circle cx="166.1" cy="200.8" r="4.25" fill="url(#g10)"/><circle cx="152.8" cy="203.5" r="3.40" fill="url(#g10)"/><circle cx="174.1" cy="199.5" r="4.25" fill="url(#g10)"/><circle cx="155.5" cy="196.2" r="4.25" fill="url(#g11)"/><circle cx="170.8" cy="194.9" r="5.10" fill="url(#g11)"/><circle cx="160.8" cy="200.2" r="5.31" fill="url(#g11)"/><circle cx="160.1" cy="190.9" r="4.67" fill="url(#g12)"/><circle cx="166.1" cy="200.8" r="2.63" fill="url(#g16)"/><circle cx="170.8" cy="194.9" r="3.16" fill="url(#g13)"/><circle cx="160.8" cy="200.2" r="3.29" fill="url(#g13)"/><circle cx="160.1" cy="190.9" r="2.90" fill="url(#g17)"/></g>
</g>
<rect x="180.6" y="205.9" width="4.5" height="1.4" fill="#ffffff"/>
<rect x="190.05" y="32.2" width="65.55" height="42.7" fill="#020106"/>
<g clip-path="url(#cA20)" style="isolation:isolate">
<g filter="url(#bl2)"><circle cx="194.4" cy="65.2" r="6.45" fill="url(#g19)" opacity="0.30"/><circle cx="203.9" cy="51.2" r="5.37" fill="url(#g19)" opacity="0.30"/><circle cx="204.6" cy="59.5" r="4.30" fill="url(#g19)" opacity="0.24"/><circle cx="205.9" cy="64.2" r="5.02" fill="url(#g19)" opacity="0.27"/><circle cx="209.2" cy="55.9" r="6.45" fill="url(#g19)" opacity="0.30"/><circle cx="213.2" cy="59.9" r="6.45" fill="url(#g19)" opacity="0.30"/><circle cx="216.3" cy="53.3" r="7.17" fill="url(#g19)" opacity="0.30"/><circle cx="226.5" cy="54.2" r="5.73" fill="url(#g19)" opacity="0.30"/><circle cx="225.8" cy="60.2" r="5.37" fill="url(#g19)" opacity="0.24"/><circle cx="230.5" cy="65.8" r="8.60" fill="url(#g19)" opacity="0.30"/><circle cx="234.4" cy="52.9" r="5.02" fill="url(#g19)" opacity="0.27"/><circle cx="235.8" cy="48.2" r="5.73" fill="url(#g19)" opacity="0.30"/><circle cx="237.8" cy="36.3" r="8.96" fill="url(#g19)" opacity="0.30"/><circle cx="241.1" cy="44.3" r="5.02" fill="url(#g19)" opacity="0.27"/><circle cx="241.1" cy="48.9" r="5.02" fill="url(#g19)" opacity="0.30"/><circle cx="244.4" cy="40.3" r="8.96" fill="url(#g19)" opacity="0.30"/><circle cx="245.7" cy="47.6" r="4.30" fill="url(#g19)" opacity="0.27"/><circle cx="250.4" cy="49.6" r="5.02" fill="url(#g19)" opacity="0.27"/><circle cx="252.8" cy="58.6" r="5.37" fill="url(#g19)" opacity="0.30"/><circle cx="229.8" cy="43.2" r="3.58" fill="url(#g19)" opacity="0.12"/><circle cx="194.4" cy="65.2" r="3.39" fill="url(#g18)" opacity="0.95"/><circle cx="203.9" cy="51.2" r="2.83" fill="url(#g18)" opacity="0.95"/><circle cx="204.6" cy="59.5" r="2.26" fill="url(#g18)" opacity="0.76"/><circle cx="205.9" cy="64.2" r="2.64" fill="url(#g18)" opacity="0.85"/><circle cx="209.2" cy="55.9" r="3.39" fill="url(#g18)" opacity="0.95"/><circle cx="213.2" cy="59.9" r="3.39" fill="url(#g18)" opacity="0.95"/><circle cx="216.3" cy="53.3" r="3.77" fill="url(#g18)" opacity="0.95"/><circle cx="226.5" cy="54.2" r="3.01" fill="url(#g18)" opacity="0.95"/><circle cx="225.8" cy="60.2" r="2.83" fill="url(#g18)" opacity="0.76"/><circle cx="230.5" cy="65.8" r="4.52" fill="url(#g18)" opacity="0.95"/><circle cx="234.4" cy="52.9" r="2.64" fill="url(#g18)" opacity="0.85"/><circle cx="235.8" cy="48.2" r="3.01" fill="url(#g18)" opacity="0.95"/><circle cx="237.8" cy="36.3" r="4.71" fill="url(#g18)" opacity="0.95"/><circle cx="241.1" cy="44.3" r="2.64" fill="url(#g18)" opacity="0.85"/><circle cx="241.1" cy="48.9" r="2.64" fill="url(#g18)" opacity="0.95"/><circle cx="244.4" cy="40.3" r="4.71" fill="url(#g18)" opacity="0.95"/><circle cx="245.7" cy="47.6" r="2.26" fill="url(#g18)" opacity="0.85"/><circle cx="250.4" cy="49.6" r="2.64" fill="url(#g18)" opacity="0.85"/><circle cx="252.8" cy="58.6" r="2.83" fill="url(#g18)" opacity="0.95"/><circle cx="229.8" cy="43.2" r="1.88" fill="url(#g18)" opacity="0.38"/></g>
</g>
<rect x="248.5" y="70.9" width="4.5" height="1.4" fill="#ffffff"/>
<rect x="190.05" y="77.2" width="65.55" height="42.7" fill="#020106"/>
<g clip-path="url(#cA21)" style="isolation:isolate">
<g filter="url(#bl2)"><circle cx="213.2" cy="89.9" r="5.73" fill="url(#g19)" opacity="0.27"/><circle cx="208.6" cy="96.6" r="7.17" fill="url(#g19)" opacity="0.30"/><circle cx="215.9" cy="97.0" r="4.30" fill="url(#g19)" opacity="0.27"/><circle cx="210.6" cy="99.9" r="5.02" fill="url(#g19)" opacity="0.27"/><circle cx="207.9" cy="102.5" r="4.30" fill="url(#g19)" opacity="0.24"/><circle cx="220.5" cy="98.8" r="5.37" fill="url(#g19)" opacity="0.30"/><circle cx="225.8" cy="104.1" r="8.60" fill="url(#g19)" opacity="0.30"/><circle cx="228.5" cy="106.5" r="7.17" fill="url(#g19)" opacity="0.30"/><circle cx="233.1" cy="104.5" r="5.37" fill="url(#g19)" opacity="0.15"/><circle cx="213.5" cy="112.5" r="7.17" fill="url(#g19)" opacity="0.27"/><circle cx="248.4" cy="88.6" r="6.45" fill="url(#g19)" opacity="0.18"/><circle cx="213.2" cy="89.9" r="3.01" fill="url(#g18)" opacity="0.85"/><circle cx="208.6" cy="96.6" r="3.77" fill="url(#g18)" opacity="0.95"/><circle cx="215.9" cy="97.0" r="2.26" fill="url(#g18)" opacity="0.85"/><circle cx="210.6" cy="99.9" r="2.64" fill="url(#g18)" opacity="0.85"/><circle cx="207.9" cy="102.5" r="2.26" fill="url(#g18)" opacity="0.76"/><circle cx="220.5" cy="98.8" r="2.83" fill="url(#g18)" opacity="0.95"/><circle cx="225.8" cy="104.1" r="4.52" fill="url(#g18)" opacity="0.95"/><circle cx="228.5" cy="106.5" r="3.77" fill="url(#g18)" opacity="0.95"/><circle cx="233.1" cy="104.5" r="2.83" fill="url(#g18)" opacity="0.47"/><circle cx="213.5" cy="112.5" r="3.77" fill="url(#g18)" opacity="0.85"/><circle cx="248.4" cy="88.6" r="3.39" fill="url(#g18)" opacity="0.57"/></g>
<g filter="url(#bl2)" style="mix-blend-mode:screen"><circle cx="213.9" cy="115.8" r="2.97" fill="url(#g20)"/><circle cx="248.4" cy="91.7" r="2.97" fill="url(#g20)"/><circle cx="216.5" cy="99.9" r="2.12" fill="url(#g21)"/><circle cx="221.2" cy="101.2" r="2.55" fill="url(#g21)"/><circle cx="208.6" cy="105.2" r="2.12" fill="url(#g21)"/><circle cx="233.1" cy="107.2" r="2.55" fill="url(#g21)"/><circle cx="213.9" cy="92.6" r="2.97" fill="url(#g22)"/><circle cx="228.5" cy="109.2" r="3.40" fill="url(#g22)"/><circle cx="208.6" cy="99.2" r="3.40" fill="url(#g23)"/></g>
</g>
<rect x="248.5" y="115.9" width="4.5" height="1.4" fill="#ffffff"/>
<rect x="190.05" y="122.15" width="65.55" height="42.7" fill="#020106"/>
<g clip-path="url(#cA22)" style="isolation:isolate">
<g filter="url(#bl2)"><circle cx="199.9" cy="125.3" r="6.45" fill="url(#g19)" opacity="0.24"/><circle cx="194.0" cy="127.3" r="5.02" fill="url(#g19)" opacity="0.21"/><circle cx="194.6" cy="136.6" r="5.73" fill="url(#g19)" opacity="0.27"/><circle cx="201.3" cy="134.6" r="5.02" fill="url(#g19)" opacity="0.27"/><circle cx="201.3" cy="139.9" r="6.45" fill="url(#g19)" opacity="0.30"/><circle cx="206.6" cy="134.6" r="7.88" fill="url(#g19)" opacity="0.30"/><circle cx="211.2" cy="135.9" r="6.45" fill="url(#g19)" opacity="0.30"/><circle cx="197.3" cy="149.9" r="6.45" fill="url(#g19)" opacity="0.30"/><circle cx="200.6" cy="145.9" r="4.30" fill="url(#g19)" opacity="0.24"/><circle cx="207.9" cy="148.5" r="7.17" fill="url(#g19)" opacity="0.30"/><circle cx="211.9" cy="145.2" r="7.17" fill="url(#g19)" opacity="0.30"/><circle cx="214.5" cy="148.5" r="5.37" fill="url(#g19)" opacity="0.30"/><circle cx="212.5" cy="153.2" r="5.37" fill="url(#g19)" opacity="0.30"/><circle cx="207.9" cy="155.8" r="7.17" fill="url(#g19)" opacity="0.30"/><circle cx="209.9" cy="162.5" r="5.02" fill="url(#g19)" opacity="0.24"/><circle cx="219.8" cy="132.6" r="5.02" fill="url(#g19)" opacity="0.27"/><circle cx="223.2" cy="135.3" r="5.02" fill="url(#g19)" opacity="0.27"/><circle cx="226.5" cy="131.3" r="5.02" fill="url(#g19)" opacity="0.27"/><circle cx="220.5" cy="141.2" r="5.73" fill="url(#g19)" opacity="0.27"/><circle cx="225.8" cy="140.6" r="4.30" fill="url(#g19)" opacity="0.27"/><circle cx="223.2" cy="147.2" r="5.73" fill="url(#g19)" opacity="0.30"/><circle cx="219.8" cy="155.8" r="5.73" fill="url(#g19)" opacity="0.27"/><circle cx="229.8" cy="155.8" r="7.17" fill="url(#g19)" opacity="0.30"/><circle cx="226.5" cy="162.5" r="5.02" fill="url(#g19)" opacity="0.24"/><circle cx="231.1" cy="128.6" r="7.17" fill="url(#g19)" opacity="0.27"/><circle cx="235.1" cy="145.2" r="7.17" fill="url(#g19)" opacity="0.27"/><circle cx="239.1" cy="133.3" r="10.03" fill="url(#g19)" opacity="0.30"/><circle cx="244.4" cy="134.6" r="10.03" fill="url(#g19)" opacity="0.30"/><circle cx="246.4" cy="139.9" r="7.88" fill="url(#g19)" opacity="0.30"/><circle cx="241.1" cy="139.9" r="7.17" fill="url(#g19)" opacity="0.30"/><circle cx="249.0" cy="137.2" r="6.45" fill="url(#g19)" opacity="0.27"/><circle cx="239.1" cy="162.5" r="6.45" fill="url(#g19)" opacity="0.30"/><circle cx="199.9" cy="125.3" r="3.39" fill="url(#g18)" opacity="0.76"/><circle cx="194.0" cy="127.3" r="2.64" fill="url(#g18)" opacity="0.66"/><circle cx="194.6" cy="136.6" r="3.01" fill="url(#g18)" opacity="0.85"/><circle cx="201.3" cy="134.6" r="2.64" fill="url(#g18)" opacity="0.85"/><circle cx="201.3" cy="139.9" r="3.39" fill="url(#g18)" opacity="0.95"/><circle cx="206.6" cy="134.6" r="4.15" fill="url(#g18)" opacity="0.95"/><circle cx="211.2" cy="135.9" r="3.39" fill="url(#g18)" opacity="0.95"/><circle cx="197.3" cy="149.9" r="3.39" fill="url(#g18)" opacity="0.95"/><circle cx="200.6" cy="145.9" r="2.26" fill="url(#g18)" opacity="0.76"/><circle cx="207.9" cy="148.5" r="3.77" fill="url(#g18)" opacity="0.95"/><circle cx="211.9" cy="145.2" r="3.77" fill="url(#g18)" opacity="0.95"/><circle cx="214.5" cy="148.5" r="2.83" fill="url(#g18)" opacity="0.95"/><circle cx="212.5" cy="153.2" r="2.83" fill="url(#g18)" opacity="0.95"/><circle cx="207.9" cy="155.8" r="3.77" fill="url(#g18)" opacity="0.95"/><circle cx="209.9" cy="162.5" r="2.64" fill="url(#g18)" opacity="0.76"/><circle cx="219.8" cy="132.6" r="2.64" fill="url(#g18)" opacity="0.85"/><circle cx="223.2" cy="135.3" r="2.64" fill="url(#g18)" opacity="0.85"/><circle cx="226.5" cy="131.3" r="2.64" fill="url(#g18)" opacity="0.85"/><circle cx="220.5" cy="141.2" r="3.01" fill="url(#g18)" opacity="0.85"/><circle cx="225.8" cy="140.6" r="2.26" fill="url(#g18)" opacity="0.85"/><circle cx="223.2" cy="147.2" r="3.01" fill="url(#g18)" opacity="0.95"/><circle cx="219.8" cy="155.8" r="3.01" fill="url(#g18)" opacity="0.85"/><circle cx="229.8" cy="155.8" r="3.77" fill="url(#g18)" opacity="0.95"/><circle cx="226.5" cy="162.5" r="2.64" fill="url(#g18)" opacity="0.76"/><circle cx="231.1" cy="128.6" r="3.77" fill="url(#g18)" opacity="0.85"/><circle cx="235.1" cy="145.2" r="3.77" fill="url(#g18)" opacity="0.85"/><circle cx="239.1" cy="133.3" r="5.28" fill="url(#g18)" opacity="0.95"/><circle cx="244.4" cy="134.6" r="5.28" fill="url(#g18)" opacity="0.95"/><circle cx="246.4" cy="139.9" r="4.15" fill="url(#g18)" opacity="0.95"/><circle cx="241.1" cy="139.9" r="3.77" fill="url(#g18)" opacity="0.95"/><circle cx="249.0" cy="137.2" r="3.39" fill="url(#g18)" opacity="0.85"/><circle cx="239.1" cy="162.5" r="3.39" fill="url(#g18)" opacity="0.95"/></g>
<g filter="url(#bl2)" style="mix-blend-mode:screen"><circle cx="221.2" cy="141.2" r="12.74" fill="url(#g24)"/><circle cx="207.9" cy="146.5" r="12.74" fill="url(#g24)"/><circle cx="220.5" cy="130.0" r="2.12" fill="url(#g23)"/><circle cx="223.8" cy="134.6" r="2.55" fill="url(#g23)"/><circle cx="230.5" cy="128.0" r="2.55" fill="url(#g23)"/><circle cx="226.5" cy="140.6" r="2.12" fill="url(#g23)"/><circle cx="201.3" cy="139.9" r="2.55" fill="url(#g23)"/><circle cx="219.8" cy="156.5" r="2.55" fill="url(#g23)"/><circle cx="229.8" cy="156.5" r="2.55" fill="url(#g23)"/><circle cx="235.8" cy="145.2" r="2.97" fill="url(#g25)"/><circle cx="197.3" cy="149.9" r="2.97" fill="url(#g25)"/><circle cx="209.2" cy="156.5" r="2.97" fill="url(#g25)"/><circle cx="239.1" cy="162.5" r="2.55" fill="url(#g25)"/><circle cx="207.9" cy="148.5" r="3.40" fill="url(#g26)"/><circle cx="211.9" cy="146.5" r="2.97" fill="url(#g26)"/><circle cx="212.5" cy="153.2" r="2.97" fill="url(#g26)"/><circle cx="200.6" cy="125.3" r="3.82" fill="url(#g27)"/><circle cx="245.1" cy="137.2" r="4.25" fill="url(#g27)"/><circle cx="208.6" cy="135.3" r="4.25" fill="url(#g28)"/><circle cx="241.1" cy="133.9" r="4.67" fill="url(#g29)"/><circle cx="227.5" cy="161.8" r="2.97" fill="url(#g29)"/><circle cx="224.5" cy="154.2" r="1.91" fill="url(#g30)"/><circle cx="241.1" cy="133.9" r="2.90" fill="url(#g31)"/><circle cx="227.5" cy="161.8" r="1.84" fill="url(#g31)"/><circle cx="224.5" cy="154.2" r="1.18" fill="url(#g32)"/></g>
</g>
<rect x="248.5" y="160.9" width="4.5" height="1.4" fill="#ffffff"/>
<rect x="190.05" y="167.15" width="65.55" height="42.7" fill="#020106"/>
<g clip-path="url(#cA23)" style="isolation:isolate">
<g filter="url(#bl2)"><circle cx="192.0" cy="188.9" r="7.17" fill="url(#g19)" opacity="0.14"/><circle cx="203.9" cy="202.8" r="8.60" fill="url(#g19)" opacity="0.27"/><circle cx="208.6" cy="204.1" r="5.02" fill="url(#g19)" opacity="0.15"/><circle cx="214.5" cy="196.8" r="6.45" fill="url(#g19)" opacity="0.27"/><circle cx="218.5" cy="190.9" r="5.37" fill="url(#g19)" opacity="0.24"/><circle cx="221.2" cy="202.8" r="7.17" fill="url(#g19)" opacity="0.30"/><circle cx="225.2" cy="195.5" r="14.33" fill="url(#g19)" opacity="0.30"/><circle cx="231.8" cy="199.5" r="16.12" fill="url(#g19)" opacity="0.30"/><circle cx="237.1" cy="200.8" r="12.54" fill="url(#g19)" opacity="0.30"/><circle cx="231.1" cy="182.9" r="8.96" fill="url(#g19)" opacity="0.24"/><circle cx="231.8" cy="190.2" r="8.96" fill="url(#g19)" opacity="0.27"/><circle cx="242.4" cy="191.5" r="8.96" fill="url(#g19)" opacity="0.24"/><circle cx="241.1" cy="196.8" r="8.96" fill="url(#g19)" opacity="0.27"/><circle cx="226.5" cy="190.9" r="8.96" fill="url(#g19)" opacity="0.27"/><circle cx="192.0" cy="188.9" r="3.77" fill="url(#g18)" opacity="0.43"/><circle cx="203.9" cy="202.8" r="4.52" fill="url(#g18)" opacity="0.85"/><circle cx="208.6" cy="204.1" r="2.64" fill="url(#g18)" opacity="0.47"/><circle cx="214.5" cy="196.8" r="3.39" fill="url(#g18)" opacity="0.85"/><circle cx="218.5" cy="190.9" r="2.83" fill="url(#g18)" opacity="0.76"/><circle cx="221.2" cy="202.8" r="3.77" fill="url(#g18)" opacity="0.95"/><circle cx="225.2" cy="195.5" r="7.54" fill="url(#g18)" opacity="0.95"/><circle cx="231.8" cy="199.5" r="8.48" fill="url(#g18)" opacity="0.95"/><circle cx="237.1" cy="200.8" r="6.59" fill="url(#g18)" opacity="0.95"/><circle cx="231.1" cy="182.9" r="4.71" fill="url(#g18)" opacity="0.76"/><circle cx="231.8" cy="190.2" r="4.71" fill="url(#g18)" opacity="0.85"/><circle cx="242.4" cy="191.5" r="4.71" fill="url(#g18)" opacity="0.76"/><circle cx="241.1" cy="196.8" r="4.71" fill="url(#g18)" opacity="0.85"/><circle cx="226.5" cy="190.9" r="4.71" fill="url(#g18)" opacity="0.85"/></g>
<g filter="url(#bl2)" style="mix-blend-mode:screen"><circle cx="227.8" cy="196.8" r="15.92" fill="url(#g21)"/><circle cx="192.0" cy="188.9" r="2.97" fill="url(#g21)"/><circle cx="231.8" cy="198.2" r="9.55" fill="url(#g23)"/><circle cx="209.2" cy="203.5" r="2.97" fill="url(#g25)"/><circle cx="231.1" cy="182.2" r="4.25" fill="url(#g25)"/><circle cx="205.2" cy="202.2" r="4.25" fill="url(#g26)"/><circle cx="214.5" cy="196.8" r="2.97" fill="url(#g33)"/><circle cx="231.8" cy="190.2" r="4.25" fill="url(#g33)"/><circle cx="233.1" cy="200.8" r="4.25" fill="url(#g28)"/><circle cx="219.8" cy="203.5" r="3.40" fill="url(#g28)"/><circle cx="241.1" cy="199.5" r="4.25" fill="url(#g28)"/><circle cx="222.5" cy="196.2" r="4.25" fill="url(#g29)"/><circle cx="237.8" cy="194.9" r="5.10" fill="url(#g29)"/><circle cx="227.8" cy="200.2" r="5.31" fill="url(#g29)"/><circle cx="227.1" cy="190.9" r="4.67" fill="url(#g30)"/><circle cx="233.1" cy="200.8" r="2.63" fill="url(#g34)"/><circle cx="237.8" cy="194.9" r="3.16" fill="url(#g31)"/><circle cx="227.8" cy="200.2" r="3.29" fill="url(#g31)"/><circle cx="227.1" cy="190.9" r="2.90" fill="url(#g35)"/></g>
</g>
<rect x="248.5" y="205.9" width="4.5" height="1.4" fill="#ffffff"/>
<rect x="292.0" y="31.75" width="202.45" height="180.55" fill="#d0d0d0"/>
<rect x="293.2" y="32.95" width="65.15" height="42.8" fill="#020106"/>
<g clip-path="url(#cB00)" style="isolation:isolate">
<g filter="url(#bl2)"><circle cx="293.1" cy="42.3" r="4.30" fill="url(#g1)" opacity="0.24"/><circle cx="304.6" cy="46.3" r="7.17" fill="url(#g1)" opacity="0.30"/><circle cx="305.3" cy="52.2" r="6.45" fill="url(#g1)" opacity="0.30"/><circle cx="315.9" cy="49.3" r="5.02" fill="url(#g1)" opacity="0.27"/><circle cx="320.9" cy="49.3" r="5.02" fill="url(#g1)" opacity="0.27"/><circle cx="341.1" cy="54.6" r="8.60" fill="url(#g1)" opacity="0.30"/><circle cx="348.4" cy="47.6" r="7.17" fill="url(#g1)" opacity="0.30"/><circle cx="346.4" cy="52.2" r="5.73" fill="url(#g1)" opacity="0.30"/><circle cx="351.0" cy="55.5" r="5.37" fill="url(#g1)" opacity="0.30"/><circle cx="354.4" cy="54.2" r="5.73" fill="url(#g1)" opacity="0.27"/><circle cx="350.4" cy="61.5" r="7.88" fill="url(#g1)" opacity="0.30"/><circle cx="337.1" cy="66.6" r="8.60" fill="url(#g1)" opacity="0.30"/><circle cx="331.8" cy="73.2" r="6.45" fill="url(#g1)" opacity="0.30"/><circle cx="348.4" cy="67.5" r="5.73" fill="url(#g1)" opacity="0.27"/><circle cx="346.4" cy="73.5" r="5.02" fill="url(#g1)" opacity="0.27"/><circle cx="327.8" cy="67.5" r="2.87" fill="url(#g1)" opacity="0.12"/><circle cx="293.1" cy="42.3" r="2.26" fill="url(#g0)" opacity="0.76"/><circle cx="304.6" cy="46.3" r="3.77" fill="url(#g0)" opacity="0.95"/><circle cx="305.3" cy="52.2" r="3.39" fill="url(#g0)" opacity="0.95"/><circle cx="315.9" cy="49.3" r="2.64" fill="url(#g0)" opacity="0.85"/><circle cx="320.9" cy="49.3" r="2.64" fill="url(#g0)" opacity="0.85"/><circle cx="341.1" cy="54.6" r="4.52" fill="url(#g0)" opacity="0.95"/><circle cx="348.4" cy="47.6" r="3.77" fill="url(#g0)" opacity="0.95"/><circle cx="346.4" cy="52.2" r="3.01" fill="url(#g0)" opacity="0.95"/><circle cx="351.0" cy="55.5" r="2.83" fill="url(#g0)" opacity="0.95"/><circle cx="354.4" cy="54.2" r="3.01" fill="url(#g0)" opacity="0.85"/><circle cx="350.4" cy="61.5" r="4.15" fill="url(#g0)" opacity="0.95"/><circle cx="337.1" cy="66.6" r="4.52" fill="url(#g0)" opacity="0.95"/><circle cx="331.8" cy="73.2" r="3.39" fill="url(#g0)" opacity="0.95"/><circle cx="348.4" cy="67.5" r="3.01" fill="url(#g0)" opacity="0.85"/><circle cx="346.4" cy="73.5" r="2.64" fill="url(#g0)" opacity="0.85"/><circle cx="327.8" cy="67.5" r="1.51" fill="url(#g0)" opacity="0.38"/></g>
</g>
<rect x="349.7" y="71.3" width="4.5" height="1.4" fill="#ffffff"/>
<rect x="293.2" y="78.05" width="65.15" height="42.8" fill="#020106"/>
<g clip-path="url(#cB01)" style="isolation:isolate">
<g filter="url(#bl2)"><circle cx="302.0" cy="99.9" r="7.17" fill="url(#g1)" opacity="0.30"/><circle cx="317.2" cy="94.6" r="5.73" fill="url(#g1)" opacity="0.27"/><circle cx="323.2" cy="96.6" r="6.45" fill="url(#g1)" opacity="0.30"/><circle cx="320.1" cy="112.1" r="7.17" fill="url(#g1)" opacity="0.30"/><circle cx="340.4" cy="91.7" r="7.17" fill="url(#g1)" opacity="0.30"/><circle cx="343.1" cy="82.0" r="7.88" fill="url(#g1)" opacity="0.30"/><circle cx="347.7" cy="83.3" r="8.96" fill="url(#g1)" opacity="0.30"/><circle cx="350.4" cy="87.3" r="6.45" fill="url(#g1)" opacity="0.30"/><circle cx="345.1" cy="86.6" r="7.17" fill="url(#g1)" opacity="0.30"/><circle cx="307.9" cy="114.5" r="3.58" fill="url(#g1)" opacity="0.09"/><circle cx="302.6" cy="107.8" r="2.87" fill="url(#g1)" opacity="0.09"/><circle cx="302.0" cy="99.9" r="3.77" fill="url(#g0)" opacity="0.95"/><circle cx="317.2" cy="94.6" r="3.01" fill="url(#g0)" opacity="0.85"/><circle cx="323.2" cy="96.6" r="3.39" fill="url(#g0)" opacity="0.95"/><circle cx="320.1" cy="112.1" r="3.77" fill="url(#g0)" opacity="0.95"/><circle cx="340.4" cy="91.7" r="3.77" fill="url(#g0)" opacity="0.95"/><circle cx="343.1" cy="82.0" r="4.15" fill="url(#g0)" opacity="0.95"/><circle cx="347.7" cy="83.3" r="4.71" fill="url(#g0)" opacity="0.95"/><circle cx="350.4" cy="87.3" r="3.39" fill="url(#g0)" opacity="0.95"/><circle cx="345.1" cy="86.6" r="3.77" fill="url(#g0)" opacity="0.95"/><circle cx="307.9" cy="114.5" r="1.88" fill="url(#g0)" opacity="0.28"/><circle cx="302.6" cy="107.8" r="1.51" fill="url(#g0)" opacity="0.28"/></g>
</g>
<rect x="349.7" y="116.4" width="4.5" height="1.4" fill="#ffffff"/>
<rect x="293.2" y="123.15" width="65.15" height="42.8" fill="#020106"/>
<g clip-path="url(#cB02)" style="isolation:isolate">
<g filter="url(#bl2)"><circle cx="296.0" cy="131.6" r="5.73" fill="url(#g1)" opacity="0.27"/><circle cx="298.6" cy="136.3" r="6.45" fill="url(#g1)" opacity="0.30"/><circle cx="307.9" cy="127.6" r="6.45" fill="url(#g1)" opacity="0.27"/><circle cx="309.2" cy="133.6" r="5.02" fill="url(#g1)" opacity="0.27"/><circle cx="305.9" cy="138.2" r="5.73" fill="url(#g1)" opacity="0.30"/><circle cx="312.6" cy="140.6" r="5.73" fill="url(#g1)" opacity="0.30"/><circle cx="319.2" cy="125.6" r="5.73" fill="url(#g1)" opacity="0.27"/><circle cx="317.9" cy="134.9" r="7.17" fill="url(#g1)" opacity="0.30"/><circle cx="320.5" cy="132.9" r="5.02" fill="url(#g1)" opacity="0.30"/><circle cx="319.2" cy="140.6" r="5.02" fill="url(#g1)" opacity="0.27"/><circle cx="327.2" cy="132.9" r="7.17" fill="url(#g1)" opacity="0.30"/><circle cx="331.8" cy="125.6" r="5.02" fill="url(#g1)" opacity="0.27"/><circle cx="333.8" cy="137.6" r="5.73" fill="url(#g1)" opacity="0.24"/><circle cx="329.8" cy="143.6" r="8.60" fill="url(#g1)" opacity="0.30"/><circle cx="337.1" cy="146.2" r="7.88" fill="url(#g1)" opacity="0.30"/><circle cx="342.4" cy="134.9" r="7.88" fill="url(#g1)" opacity="0.30"/><circle cx="348.4" cy="133.6" r="7.17" fill="url(#g1)" opacity="0.30"/><circle cx="345.1" cy="139.6" r="7.88" fill="url(#g1)" opacity="0.30"/><circle cx="350.4" cy="140.9" r="5.37" fill="url(#g1)" opacity="0.27"/><circle cx="355.7" cy="136.3" r="6.45" fill="url(#g1)" opacity="0.30"/><circle cx="354.4" cy="144.9" r="5.02" fill="url(#g1)" opacity="0.21"/><circle cx="342.4" cy="151.3" r="7.88" fill="url(#g1)" opacity="0.30"/><circle cx="349.7" cy="154.2" r="5.02" fill="url(#g1)" opacity="0.15"/><circle cx="305.3" cy="152.8" r="8.60" fill="url(#g1)" opacity="0.30"/><circle cx="294.7" cy="152.8" r="5.02" fill="url(#g1)" opacity="0.24"/><circle cx="322.3" cy="153.5" r="7.17" fill="url(#g1)" opacity="0.30"/><circle cx="327.2" cy="160.1" r="7.17" fill="url(#g1)" opacity="0.30"/><circle cx="356.4" cy="160.8" r="5.73" fill="url(#g1)" opacity="0.30"/><circle cx="296.0" cy="131.6" r="3.01" fill="url(#g0)" opacity="0.85"/><circle cx="298.6" cy="136.3" r="3.39" fill="url(#g0)" opacity="0.95"/><circle cx="307.9" cy="127.6" r="3.39" fill="url(#g0)" opacity="0.85"/><circle cx="309.2" cy="133.6" r="2.64" fill="url(#g0)" opacity="0.85"/><circle cx="305.9" cy="138.2" r="3.01" fill="url(#g0)" opacity="0.95"/><circle cx="312.6" cy="140.6" r="3.01" fill="url(#g0)" opacity="0.95"/><circle cx="319.2" cy="125.6" r="3.01" fill="url(#g0)" opacity="0.85"/><circle cx="317.9" cy="134.9" r="3.77" fill="url(#g0)" opacity="0.95"/><circle cx="320.5" cy="132.9" r="2.64" fill="url(#g0)" opacity="0.95"/><circle cx="319.2" cy="140.6" r="2.64" fill="url(#g0)" opacity="0.85"/><circle cx="327.2" cy="132.9" r="3.77" fill="url(#g0)" opacity="0.95"/><circle cx="331.8" cy="125.6" r="2.64" fill="url(#g0)" opacity="0.85"/><circle cx="333.8" cy="137.6" r="3.01" fill="url(#g0)" opacity="0.76"/><circle cx="329.8" cy="143.6" r="4.52" fill="url(#g0)" opacity="0.95"/><circle cx="337.1" cy="146.2" r="4.15" fill="url(#g0)" opacity="0.95"/><circle cx="342.4" cy="134.9" r="4.15" fill="url(#g0)" opacity="0.95"/><circle cx="348.4" cy="133.6" r="3.77" fill="url(#g0)" opacity="0.95"/><circle cx="345.1" cy="139.6" r="4.15" fill="url(#g0)" opacity="0.95"/><circle cx="350.4" cy="140.9" r="2.83" fill="url(#g0)" opacity="0.85"/><circle cx="355.7" cy="136.3" r="3.39" fill="url(#g0)" opacity="0.95"/><circle cx="354.4" cy="144.9" r="2.64" fill="url(#g0)" opacity="0.66"/><circle cx="342.4" cy="151.3" r="4.15" fill="url(#g0)" opacity="0.95"/><circle cx="349.7" cy="154.2" r="2.64" fill="url(#g0)" opacity="0.47"/><circle cx="305.3" cy="152.8" r="4.52" fill="url(#g0)" opacity="0.95"/><circle cx="294.7" cy="152.8" r="2.64" fill="url(#g0)" opacity="0.76"/><circle cx="322.3" cy="153.5" r="3.77" fill="url(#g0)" opacity="0.95"/><circle cx="327.2" cy="160.1" r="3.77" fill="url(#g0)" opacity="0.95"/><circle cx="356.4" cy="160.8" r="3.01" fill="url(#g0)" opacity="0.95"/></g>
</g>
<rect x="349.7" y="161.6" width="4.5" height="1.4" fill="#ffffff"/>
<rect x="293.2" y="168.3" width="65.15" height="42.8" fill="#020106"/>
<g clip-path="url(#cB03)" style="isolation:isolate">
<g filter="url(#bl2)"><circle cx="310.6" cy="174.6" r="5.02" fill="url(#g1)" opacity="0.15"/><circle cx="305.3" cy="179.3" r="5.02" fill="url(#g1)" opacity="0.24"/><circle cx="301.3" cy="185.6" r="4.30" fill="url(#g1)" opacity="0.15"/><circle cx="309.9" cy="186.6" r="10.75" fill="url(#g1)" opacity="0.30"/><circle cx="307.9" cy="191.2" r="7.17" fill="url(#g1)" opacity="0.27"/><circle cx="314.6" cy="188.6" r="6.45" fill="url(#g1)" opacity="0.27"/><circle cx="320.5" cy="188.6" r="3.58" fill="url(#g1)" opacity="0.21"/><circle cx="304.6" cy="194.5" r="4.30" fill="url(#g1)" opacity="0.15"/><circle cx="322.3" cy="194.1" r="5.73" fill="url(#g1)" opacity="0.24"/><circle cx="311.9" cy="199.8" r="6.45" fill="url(#g1)" opacity="0.27"/><circle cx="334.5" cy="184.6" r="6.45" fill="url(#g1)" opacity="0.24"/><circle cx="335.1" cy="191.2" r="14.33" fill="url(#g1)" opacity="0.30"/><circle cx="331.1" cy="195.9" r="8.96" fill="url(#g1)" opacity="0.30"/><circle cx="339.8" cy="189.9" r="8.96" fill="url(#g1)" opacity="0.27"/><circle cx="341.8" cy="196.5" r="6.45" fill="url(#g1)" opacity="0.27"/><circle cx="327.8" cy="200.8" r="5.02" fill="url(#g1)" opacity="0.27"/><circle cx="333.8" cy="202.9" r="6.45" fill="url(#g1)" opacity="0.27"/><circle cx="345.7" cy="190.5" r="5.02" fill="url(#g1)" opacity="0.21"/><circle cx="353.0" cy="193.9" r="5.73" fill="url(#g1)" opacity="0.15"/><circle cx="310.6" cy="174.6" r="2.64" fill="url(#g0)" opacity="0.47"/><circle cx="305.3" cy="179.3" r="2.64" fill="url(#g0)" opacity="0.76"/><circle cx="301.3" cy="185.6" r="2.26" fill="url(#g0)" opacity="0.47"/><circle cx="309.9" cy="186.6" r="5.65" fill="url(#g0)" opacity="0.95"/><circle cx="307.9" cy="191.2" r="3.77" fill="url(#g0)" opacity="0.85"/><circle cx="314.6" cy="188.6" r="3.39" fill="url(#g0)" opacity="0.85"/><circle cx="320.5" cy="188.6" r="1.88" fill="url(#g0)" opacity="0.66"/><circle cx="304.6" cy="194.5" r="2.26" fill="url(#g0)" opacity="0.47"/><circle cx="322.3" cy="194.1" r="3.01" fill="url(#g0)" opacity="0.76"/><circle cx="311.9" cy="199.8" r="3.39" fill="url(#g0)" opacity="0.85"/><circle cx="334.5" cy="184.6" r="3.39" fill="url(#g0)" opacity="0.76"/><circle cx="335.1" cy="191.2" r="7.54" fill="url(#g0)" opacity="0.95"/><circle cx="331.1" cy="195.9" r="4.71" fill="url(#g0)" opacity="0.95"/><circle cx="339.8" cy="189.9" r="4.71" fill="url(#g0)" opacity="0.85"/><circle cx="341.8" cy="196.5" r="3.39" fill="url(#g0)" opacity="0.85"/><circle cx="327.8" cy="200.8" r="2.64" fill="url(#g0)" opacity="0.85"/><circle cx="333.8" cy="202.9" r="3.39" fill="url(#g0)" opacity="0.85"/><circle cx="345.7" cy="190.5" r="2.64" fill="url(#g0)" opacity="0.66"/><circle cx="353.0" cy="193.9" r="3.01" fill="url(#g0)" opacity="0.47"/></g>
</g>
<rect x="349.7" y="206.7" width="4.5" height="1.4" fill="#ffffff"/>
<rect x="360.65" y="32.95" width="65.15" height="42.8" fill="#020106"/>
<g clip-path="url(#cB10)" style="isolation:isolate">
</g>
<rect x="417.1" y="71.3" width="4.5" height="1.4" fill="#ffffff"/>
<rect x="360.65" y="78.05" width="65.15" height="42.8" fill="#020106"/>
<g clip-path="url(#cB11)" style="isolation:isolate">
<g filter="url(#bl2)"><circle cx="369.6" cy="99.9" r="2.97" fill="url(#g3)"/><circle cx="385.5" cy="94.6" r="2.55" fill="url(#g3)"/><circle cx="390.6" cy="96.2" r="2.55" fill="url(#g3)"/><circle cx="387.5" cy="111.8" r="2.97" fill="url(#g3)"/><circle cx="410.8" cy="82.0" r="3.40" fill="url(#g4)"/><circle cx="418.0" cy="87.9" r="2.97" fill="url(#g4)"/><circle cx="415.4" cy="83.3" r="3.82" fill="url(#g5)"/></g>
</g>
<rect x="417.1" y="116.4" width="4.5" height="1.4" fill="#ffffff"/>
<rect x="360.65" y="123.15" width="65.15" height="42.8" fill="#020106"/>
<g clip-path="url(#cB12)" style="isolation:isolate">
<g filter="url(#bl2)"><circle cx="393.5" cy="142.2" r="14.86" fill="url(#g6)"/><circle cx="363.0" cy="131.0" r="2.12" fill="url(#g5)"/><circle cx="373.6" cy="137.6" r="2.55" fill="url(#g5)"/><circle cx="380.2" cy="138.9" r="2.55" fill="url(#g5)"/><circle cx="422.7" cy="143.6" r="2.55" fill="url(#g5)"/><circle cx="422.7" cy="160.1" r="2.55" fill="url(#g5)"/><circle cx="375.6" cy="127.0" r="2.97" fill="url(#g5)"/><circle cx="376.2" cy="132.9" r="2.55" fill="url(#g5)"/><circle cx="401.5" cy="136.9" r="2.97" fill="url(#g5)"/><circle cx="372.3" cy="152.2" r="3.82" fill="url(#g5)"/><circle cx="385.5" cy="134.3" r="3.40" fill="url(#g7)"/><circle cx="404.8" cy="145.5" r="2.97" fill="url(#g7)"/><circle cx="394.8" cy="159.5" r="3.40" fill="url(#g7)"/><circle cx="394.8" cy="131.0" r="3.40" fill="url(#g8)"/><circle cx="390.2" cy="152.2" r="3.82" fill="url(#g8)"/><circle cx="366.3" cy="134.3" r="3.40" fill="url(#g15)"/><circle cx="410.1" cy="149.5" r="3.82" fill="url(#g15)"/><circle cx="412.1" cy="138.2" r="4.67" fill="url(#g9)"/><circle cx="397.5" cy="145.5" r="2.55" fill="url(#g11)"/><circle cx="415.4" cy="134.9" r="3.82" fill="url(#g11)"/><circle cx="415.4" cy="134.9" r="2.37" fill="url(#g13)"/></g>
</g>
<rect x="417.1" y="161.6" width="4.5" height="1.4" fill="#ffffff"/>
<rect x="360.65" y="168.3" width="65.15" height="42.8" fill="#020106"/>
<g clip-path="url(#cB13)" style="isolation:isolate">
<g filter="url(#bl2)"><circle cx="371.6" cy="195.9" r="2.12" fill="url(#g5)"/><circle cx="420.7" cy="195.9" r="2.55" fill="url(#g5)"/><circle cx="369.6" cy="187.2" r="2.55" fill="url(#g5)"/><circle cx="387.5" cy="190.5" r="2.12" fill="url(#g5)"/><circle cx="390.8" cy="203.8" r="2.97" fill="url(#g5)"/><circle cx="373.6" cy="181.3" r="2.55" fill="url(#g5)"/><circle cx="390.2" cy="195.9" r="2.55" fill="url(#g5)"/><circle cx="379.6" cy="201.6" r="2.97" fill="url(#g5)"/><circle cx="401.5" cy="204.5" r="2.97" fill="url(#g5)"/><circle cx="374.9" cy="192.5" r="3.40" fill="url(#g8)"/><circle cx="412.1" cy="192.5" r="2.97" fill="url(#g15)"/><circle cx="378.6" cy="177.3" r="2.97" fill="url(#g9)"/><circle cx="377.6" cy="189.2" r="4.67" fill="url(#g9)"/><circle cx="398.8" cy="198.5" r="4.25" fill="url(#g9)"/><circle cx="402.1" cy="187.2" r="2.55" fill="url(#g10)"/><circle cx="402.8" cy="192.5" r="5.31" fill="url(#g10)"/><circle cx="398.8" cy="194.5" r="3.40" fill="url(#g11)"/><circle cx="382.6" cy="185.6" r="3.40" fill="url(#g11)"/><circle cx="405.4" cy="187.0" r="3.40" fill="url(#g12)"/><circle cx="407.8" cy="194.9" r="4.25" fill="url(#g12)"/><circle cx="398.8" cy="194.5" r="2.11" fill="url(#g13)"/><circle cx="382.6" cy="185.6" r="2.11" fill="url(#g13)"/><circle cx="405.4" cy="187.0" r="2.11" fill="url(#g14)"/><circle cx="407.8" cy="194.9" r="2.63" fill="url(#g17)"/></g>
</g>
<rect x="417.1" y="206.7" width="4.5" height="1.4" fill="#ffffff"/>
<rect x="428.1" y="32.95" width="65.15" height="42.8" fill="#020106"/>
<g clip-path="url(#cB20)" style="isolation:isolate">
<g filter="url(#bl2)"><circle cx="428.1" cy="42.3" r="4.30" fill="url(#g19)" opacity="0.24"/><circle cx="439.6" cy="46.3" r="7.17" fill="url(#g19)" opacity="0.30"/><circle cx="440.3" cy="52.2" r="6.45" fill="url(#g19)" opacity="0.30"/><circle cx="450.9" cy="49.3" r="5.02" fill="url(#g19)" opacity="0.27"/><circle cx="455.9" cy="49.3" r="5.02" fill="url(#g19)" opacity="0.27"/><circle cx="476.1" cy="54.6" r="8.60" fill="url(#g19)" opacity="0.30"/><circle cx="483.4" cy="47.6" r="7.17" fill="url(#g19)" opacity="0.30"/><circle cx="481.4" cy="52.2" r="5.73" fill="url(#g19)" opacity="0.30"/><circle cx="486.0" cy="55.5" r="5.37" fill="url(#g19)" opacity="0.30"/><circle cx="489.4" cy="54.2" r="5.73" fill="url(#g19)" opacity="0.27"/><circle cx="485.4" cy="61.5" r="7.88" fill="url(#g19)" opacity="0.30"/><circle cx="472.1" cy="66.6" r="8.60" fill="url(#g19)" opacity="0.30"/><circle cx="466.8" cy="73.2" r="6.45" fill="url(#g19)" opacity="0.30"/><circle cx="483.4" cy="67.5" r="5.73" fill="url(#g19)" opacity="0.27"/><circle cx="481.4" cy="73.5" r="5.02" fill="url(#g19)" opacity="0.27"/><circle cx="462.8" cy="67.5" r="2.87" fill="url(#g19)" opacity="0.12"/><circle cx="428.1" cy="42.3" r="2.26" fill="url(#g18)" opacity="0.76"/><circle cx="439.6" cy="46.3" r="3.77" fill="url(#g18)" opacity="0.95"/><circle cx="440.3" cy="52.2" r="3.39" fill="url(#g18)" opacity="0.95"/><circle cx="450.9" cy="49.3" r="2.64" fill="url(#g18)" opacity="0.85"/><circle cx="455.9" cy="49.3" r="2.64" fill="url(#g18)" opacity="0.85"/><circle cx="476.1" cy="54.6" r="4.52" fill="url(#g18)" opacity="0.95"/><circle cx="483.4" cy="47.6" r="3.77" fill="url(#g18)" opacity="0.95"/><circle cx="481.4" cy="52.2" r="3.01" fill="url(#g18)" opacity="0.95"/><circle cx="486.0" cy="55.5" r="2.83" fill="url(#g18)" opacity="0.95"/><circle cx="489.4" cy="54.2" r="3.01" fill="url(#g18)" opacity="0.85"/><circle cx="485.4" cy="61.5" r="4.15" fill="url(#g18)" opacity="0.95"/><circle cx="472.1" cy="66.6" r="4.52" fill="url(#g18)" opacity="0.95"/><circle cx="466.8" cy="73.2" r="3.39" fill="url(#g18)" opacity="0.95"/><circle cx="483.4" cy="67.5" r="3.01" fill="url(#g18)" opacity="0.85"/><circle cx="481.4" cy="73.5" r="2.64" fill="url(#g18)" opacity="0.85"/><circle cx="462.8" cy="67.5" r="1.51" fill="url(#g18)" opacity="0.38"/></g>
</g>
<rect x="484.6" y="71.3" width="4.5" height="1.4" fill="#ffffff"/>
<rect x="428.1" y="78.05" width="65.15" height="42.8" fill="#020106"/>
<g clip-path="url(#cB21)" style="isolation:isolate">
<g filter="url(#bl2)"><circle cx="437.0" cy="99.9" r="7.17" fill="url(#g19)" opacity="0.30"/><circle cx="452.2" cy="94.6" r="5.73" fill="url(#g19)" opacity="0.27"/><circle cx="458.2" cy="96.6" r="6.45" fill="url(#g19)" opacity="0.30"/><circle cx="455.1" cy="112.1" r="7.17" fill="url(#g19)" opacity="0.30"/><circle cx="475.4" cy="91.7" r="7.17" fill="url(#g19)" opacity="0.30"/><circle cx="478.1" cy="82.0" r="7.88" fill="url(#g19)" opacity="0.30"/><circle cx="482.7" cy="83.3" r="8.96" fill="url(#g19)" opacity="0.30"/><circle cx="485.4" cy="87.3" r="6.45" fill="url(#g19)" opacity="0.30"/><circle cx="480.1" cy="86.6" r="7.17" fill="url(#g19)" opacity="0.30"/><circle cx="442.9" cy="114.5" r="3.58" fill="url(#g19)" opacity="0.09"/><circle cx="437.6" cy="107.8" r="2.87" fill="url(#g19)" opacity="0.09"/><circle cx="437.0" cy="99.9" r="3.77" fill="url(#g18)" opacity="0.95"/><circle cx="452.2" cy="94.6" r="3.01" fill="url(#g18)" opacity="0.85"/><circle cx="458.2" cy="96.6" r="3.39" fill="url(#g18)" opacity="0.95"/><circle cx="455.1" cy="112.1" r="3.77" fill="url(#g18)" opacity="0.95"/><circle cx="475.4" cy="91.7" r="3.77" fill="url(#g18)" opacity="0.95"/><circle cx="478.1" cy="82.0" r="4.15" fill="url(#g18)" opacity="0.95"/><circle cx="482.7" cy="83.3" r="4.71" fill="url(#g18)" opacity="0.95"/><circle cx="485.4" cy="87.3" r="3.39" fill="url(#g18)" opacity="0.95"/><circle cx="480.1" cy="86.6" r="3.77" fill="url(#g18)" opacity="0.95"/><circle cx="442.9" cy="114.5" r="1.88" fill="url(#g18)" opacity="0.28"/><circle cx="437.6" cy="107.8" r="1.51" fill="url(#g18)" opacity="0.28"/></g>
<g filter="url(#bl2)" style="mix-blend-mode:screen"><circle cx="437.6" cy="99.9" r="2.97" fill="url(#g21)"/><circle cx="453.5" cy="94.6" r="2.55" fill="url(#g21)"/><circle cx="458.6" cy="96.2" r="2.55" fill="url(#g21)"/><circle cx="455.5" cy="111.8" r="2.97" fill="url(#g21)"/><circle cx="478.8" cy="82.0" r="3.40" fill="url(#g22)"/><circle cx="486.0" cy="87.9" r="2.97" fill="url(#g22)"/><circle cx="483.4" cy="83.3" r="3.82" fill="url(#g23)"/></g>
</g>
<rect x="484.6" y="116.4" width="4.5" height="1.4" fill="#ffffff"/>
<rect x="428.1" y="123.15" width="65.15" height="42.8" fill="#020106"/>
<g clip-path="url(#cB22)" style="isolation:isolate">
<g filter="url(#bl2)"><circle cx="431.0" cy="131.6" r="5.73" fill="url(#g19)" opacity="0.27"/><circle cx="433.6" cy="136.3" r="6.45" fill="url(#g19)" opacity="0.30"/><circle cx="442.9" cy="127.6" r="6.45" fill="url(#g19)" opacity="0.27"/><circle cx="444.2" cy="133.6" r="5.02" fill="url(#g19)" opacity="0.27"/><circle cx="440.9" cy="138.2" r="5.73" fill="url(#g19)" opacity="0.30"/><circle cx="447.6" cy="140.6" r="5.73" fill="url(#g19)" opacity="0.30"/><circle cx="454.2" cy="125.6" r="5.73" fill="url(#g19)" opacity="0.27"/><circle cx="452.9" cy="134.9" r="7.17" fill="url(#g19)" opacity="0.30"/><circle cx="455.5" cy="132.9" r="5.02" fill="url(#g19)" opacity="0.30"/><circle cx="454.2" cy="140.6" r="5.02" fill="url(#g19)" opacity="0.27"/><circle cx="462.2" cy="132.9" r="7.17" fill="url(#g19)" opacity="0.30"/><circle cx="466.8" cy="125.6" r="5.02" fill="url(#g19)" opacity="0.27"/><circle cx="468.8" cy="137.6" r="5.73" fill="url(#g19)" opacity="0.24"/><circle cx="464.8" cy="143.6" r="8.60" fill="url(#g19)" opacity="0.30"/><circle cx="472.1" cy="146.2" r="7.88" fill="url(#g19)" opacity="0.30"/><circle cx="477.4" cy="134.9" r="7.88" fill="url(#g19)" opacity="0.30"/><circle cx="483.4" cy="133.6" r="7.17" fill="url(#g19)" opacity="0.30"/><circle cx="480.1" cy="139.6" r="7.88" fill="url(#g19)" opacity="0.30"/><circle cx="485.4" cy="140.9" r="5.37" fill="url(#g19)" opacity="0.27"/><circle cx="490.7" cy="136.3" r="6.45" fill="url(#g19)" opacity="0.30"/><circle cx="489.4" cy="144.9" r="5.02" fill="url(#g19)" opacity="0.21"/><circle cx="477.4" cy="151.3" r="7.88" fill="url(#g19)" opacity="0.30"/><circle cx="484.7" cy="154.2" r="5.02" fill="url(#g19)" opacity="0.15"/><circle cx="440.3" cy="152.8" r="8.60" fill="url(#g19)" opacity="0.30"/><circle cx="429.7" cy="152.8" r="5.02" fill="url(#g19)" opacity="0.24"/><circle cx="457.3" cy="153.5" r="7.17" fill="url(#g19)" opacity="0.30"/><circle cx="462.2" cy="160.1" r="7.17" fill="url(#g19)" opacity="0.30"/><circle cx="491.4" cy="160.8" r="5.73" fill="url(#g19)" opacity="0.30"/><circle cx="431.0" cy="131.6" r="3.01" fill="url(#g18)" opacity="0.85"/><circle cx="433.6" cy="136.3" r="3.39" fill="url(#g18)" opacity="0.95"/><circle cx="442.9" cy="127.6" r="3.39" fill="url(#g18)" opacity="0.85"/><circle cx="444.2" cy="133.6" r="2.64" fill="url(#g18)" opacity="0.85"/><circle cx="440.9" cy="138.2" r="3.01" fill="url(#g18)" opacity="0.95"/><circle cx="447.6" cy="140.6" r="3.01" fill="url(#g18)" opacity="0.95"/><circle cx="454.2" cy="125.6" r="3.01" fill="url(#g18)" opacity="0.85"/><circle cx="452.9" cy="134.9" r="3.77" fill="url(#g18)" opacity="0.95"/><circle cx="455.5" cy="132.9" r="2.64" fill="url(#g18)" opacity="0.95"/><circle cx="454.2" cy="140.6" r="2.64" fill="url(#g18)" opacity="0.85"/><circle cx="462.2" cy="132.9" r="3.77" fill="url(#g18)" opacity="0.95"/><circle cx="466.8" cy="125.6" r="2.64" fill="url(#g18)" opacity="0.85"/><circle cx="468.8" cy="137.6" r="3.01" fill="url(#g18)" opacity="0.76"/><circle cx="464.8" cy="143.6" r="4.52" fill="url(#g18)" opacity="0.95"/><circle cx="472.1" cy="146.2" r="4.15" fill="url(#g18)" opacity="0.95"/><circle cx="477.4" cy="134.9" r="4.15" fill="url(#g18)" opacity="0.95"/><circle cx="483.4" cy="133.6" r="3.77" fill="url(#g18)" opacity="0.95"/><circle cx="480.1" cy="139.6" r="4.15" fill="url(#g18)" opacity="0.95"/><circle cx="485.4" cy="140.9" r="2.83" fill="url(#g18)" opacity="0.85"/><circle cx="490.7" cy="136.3" r="3.39" fill="url(#g18)" opacity="0.95"/><circle cx="489.4" cy="144.9" r="2.64" fill="url(#g18)" opacity="0.66"/><circle cx="477.4" cy="151.3" r="4.15" fill="url(#g18)" opacity="0.95"/><circle cx="484.7" cy="154.2" r="2.64" fill="url(#g18)" opacity="0.47"/><circle cx="440.3" cy="152.8" r="4.52" fill="url(#g18)" opacity="0.95"/><circle cx="429.7" cy="152.8" r="2.64" fill="url(#g18)" opacity="0.76"/><circle cx="457.3" cy="153.5" r="3.77" fill="url(#g18)" opacity="0.95"/><circle cx="462.2" cy="160.1" r="3.77" fill="url(#g18)" opacity="0.95"/><circle cx="491.4" cy="160.8" r="3.01" fill="url(#g18)" opacity="0.95"/></g>
<g filter="url(#bl2)" style="mix-blend-mode:screen"><circle cx="461.5" cy="142.2" r="14.86" fill="url(#g24)"/><circle cx="431.0" cy="131.0" r="2.12" fill="url(#g23)"/><circle cx="441.6" cy="137.6" r="2.55" fill="url(#g23)"/><circle cx="448.2" cy="138.9" r="2.55" fill="url(#g23)"/><circle cx="490.7" cy="143.6" r="2.55" fill="url(#g23)"/><circle cx="490.7" cy="160.1" r="2.55" fill="url(#g23)"/><circle cx="443.6" cy="127.0" r="2.97" fill="url(#g23)"/><circle cx="444.2" cy="132.9" r="2.55" fill="url(#g23)"/><circle cx="469.5" cy="136.9" r="2.97" fill="url(#g23)"/><circle cx="440.3" cy="152.2" r="3.82" fill="url(#g23)"/><circle cx="453.5" cy="134.3" r="3.40" fill="url(#g25)"/><circle cx="472.8" cy="145.5" r="2.97" fill="url(#g25)"/><circle cx="462.8" cy="159.5" r="3.40" fill="url(#g25)"/><circle cx="462.8" cy="131.0" r="3.40" fill="url(#g26)"/><circle cx="458.2" cy="152.2" r="3.82" fill="url(#g26)"/><circle cx="434.3" cy="134.3" r="3.40" fill="url(#g33)"/><circle cx="478.1" cy="149.5" r="3.82" fill="url(#g33)"/><circle cx="480.1" cy="138.2" r="4.67" fill="url(#g27)"/><circle cx="465.5" cy="145.5" r="2.55" fill="url(#g29)"/><circle cx="483.4" cy="134.9" r="3.82" fill="url(#g29)"/><circle cx="483.4" cy="134.9" r="2.37" fill="url(#g31)"/></g>
</g>
<rect x="484.6" y="161.6" width="4.5" height="1.4" fill="#ffffff"/>
<rect x="428.1" y="168.3" width="65.15" height="42.8" fill="#020106"/>
<g clip-path="url(#cB23)" style="isolation:isolate">
<g filter="url(#bl2)"><circle cx="445.6" cy="174.6" r="5.02" fill="url(#g19)" opacity="0.15"/><circle cx="440.3" cy="179.3" r="5.02" fill="url(#g19)" opacity="0.24"/><circle cx="436.3" cy="185.6" r="4.30" fill="url(#g19)" opacity="0.15"/><circle cx="444.9" cy="186.6" r="10.75" fill="url(#g19)" opacity="0.30"/><circle cx="442.9" cy="191.2" r="7.17" fill="url(#g19)" opacity="0.27"/><circle cx="449.6" cy="188.6" r="6.45" fill="url(#g19)" opacity="0.27"/><circle cx="455.5" cy="188.6" r="3.58" fill="url(#g19)" opacity="0.21"/><circle cx="439.6" cy="194.5" r="4.30" fill="url(#g19)" opacity="0.15"/><circle cx="457.3" cy="194.1" r="5.73" fill="url(#g19)" opacity="0.24"/><circle cx="446.9" cy="199.8" r="6.45" fill="url(#g19)" opacity="0.27"/><circle cx="469.5" cy="184.6" r="6.45" fill="url(#g19)" opacity="0.24"/><circle cx="470.1" cy="191.2" r="14.33" fill="url(#g19)" opacity="0.30"/><circle cx="466.1" cy="195.9" r="8.96" fill="url(#g19)" opacity="0.30"/><circle cx="474.8" cy="189.9" r="8.96" fill="url(#g19)" opacity="0.27"/><circle cx="476.8" cy="196.5" r="6.45" fill="url(#g19)" opacity="0.27"/><circle cx="462.8" cy="200.8" r="5.02" fill="url(#g19)" opacity="0.27"/><circle cx="468.8" cy="202.9" r="6.45" fill="url(#g19)" opacity="0.27"/><circle cx="480.7" cy="190.5" r="5.02" fill="url(#g19)" opacity="0.21"/><circle cx="488.0" cy="193.9" r="5.73" fill="url(#g19)" opacity="0.15"/><circle cx="445.6" cy="174.6" r="2.64" fill="url(#g18)" opacity="0.47"/><circle cx="440.3" cy="179.3" r="2.64" fill="url(#g18)" opacity="0.76"/><circle cx="436.3" cy="185.6" r="2.26" fill="url(#g18)" opacity="0.47"/><circle cx="444.9" cy="186.6" r="5.65" fill="url(#g18)" opacity="0.95"/><circle cx="442.9" cy="191.2" r="3.77" fill="url(#g18)" opacity="0.85"/><circle cx="449.6" cy="188.6" r="3.39" fill="url(#g18)" opacity="0.85"/><circle cx="455.5" cy="188.6" r="1.88" fill="url(#g18)" opacity="0.66"/><circle cx="439.6" cy="194.5" r="2.26" fill="url(#g18)" opacity="0.47"/><circle cx="457.3" cy="194.1" r="3.01" fill="url(#g18)" opacity="0.76"/><circle cx="446.9" cy="199.8" r="3.39" fill="url(#g18)" opacity="0.85"/><circle cx="469.5" cy="184.6" r="3.39" fill="url(#g18)" opacity="0.76"/><circle cx="470.1" cy="191.2" r="7.54" fill="url(#g18)" opacity="0.95"/><circle cx="466.1" cy="195.9" r="4.71" fill="url(#g18)" opacity="0.95"/><circle cx="474.8" cy="189.9" r="4.71" fill="url(#g18)" opacity="0.85"/><circle cx="476.8" cy="196.5" r="3.39" fill="url(#g18)" opacity="0.85"/><circle cx="462.8" cy="200.8" r="2.64" fill="url(#g18)" opacity="0.85"/><circle cx="468.8" cy="202.9" r="3.39" fill="url(#g18)" opacity="0.85"/><circle cx="480.7" cy="190.5" r="2.64" fill="url(#g18)" opacity="0.66"/><circle cx="488.0" cy="193.9" r="3.01" fill="url(#g18)" opacity="0.47"/></g>
<g filter="url(#bl2)" style="mix-blend-mode:screen"><circle cx="439.6" cy="195.9" r="2.12" fill="url(#g23)"/><circle cx="488.7" cy="195.9" r="2.55" fill="url(#g23)"/><circle cx="437.6" cy="187.2" r="2.55" fill="url(#g23)"/><circle cx="455.5" cy="190.5" r="2.12" fill="url(#g23)"/><circle cx="458.8" cy="203.8" r="2.97" fill="url(#g23)"/><circle cx="441.6" cy="181.3" r="2.55" fill="url(#g23)"/><circle cx="458.2" cy="195.9" r="2.55" fill="url(#g23)"/><circle cx="447.6" cy="201.6" r="2.97" fill="url(#g23)"/><circle cx="469.5" cy="204.5" r="2.97" fill="url(#g23)"/><circle cx="442.9" cy="192.5" r="3.40" fill="url(#g26)"/><circle cx="480.1" cy="192.5" r="2.97" fill="url(#g33)"/><circle cx="446.6" cy="177.3" r="2.97" fill="url(#g27)"/><circle cx="445.6" cy="189.2" r="4.67" fill="url(#g27)"/><circle cx="466.8" cy="198.5" r="4.25" fill="url(#g27)"/><circle cx="470.1" cy="187.2" r="2.55" fill="url(#g28)"/><circle cx="470.8" cy="192.5" r="5.31" fill="url(#g28)"/><circle cx="466.8" cy="194.5" r="3.40" fill="url(#g29)"/><circle cx="450.6" cy="185.6" r="3.40" fill="url(#g29)"/><circle cx="473.4" cy="187.0" r="3.40" fill="url(#g30)"/><circle cx="475.8" cy="194.9" r="4.25" fill="url(#g30)"/><circle cx="466.8" cy="194.5" r="2.11" fill="url(#g31)"/><circle cx="450.6" cy="185.6" r="2.11" fill="url(#g31)"/><circle cx="473.4" cy="187.0" r="2.11" fill="url(#g32)"/><circle cx="475.8" cy="194.9" r="2.63" fill="url(#g35)"/></g>
</g>
<rect x="484.6" y="206.7" width="4.5" height="1.4" fill="#ffffff"/>
<text x="155.50" y="16.60" font-size="8.1" text-anchor="middle" font-weight="normal" fill="#1a1a1a" stroke="#1a1a1a" stroke-width="0.16" >SU-DHL-4</text>
<text x="389.50" y="16.90" font-size="8.2" text-anchor="middle" font-weight="normal" fill="#1a1a1a" stroke="#1a1a1a" stroke-width="0.16" >U2932</text>
<text x="87.42" y="27.20" font-size="6.15" text-anchor="middle" font-weight="normal" fill="#1a1a1a" stroke="#1a1a1a" stroke-width="0.16" >DAPI</text>
<text x="155.28" y="27.20" font-size="6.15" text-anchor="middle" font-weight="normal" fill="#1a1a1a" stroke="#1a1a1a" stroke-width="0.16" >Cy3</text>
<text x="223.13" y="27.20" font-size="6.15" text-anchor="middle" font-weight="normal" fill="#1a1a1a" stroke="#1a1a1a" stroke-width="0.16" >Merge</text>
<text x="326.07" y="27.20" font-size="6.15" text-anchor="middle" font-weight="normal" fill="#1a1a1a" stroke="#1a1a1a" stroke-width="0.16" >DAPI</text>
<text x="393.52" y="27.20" font-size="6.15" text-anchor="middle" font-weight="normal" fill="#1a1a1a" stroke="#1a1a1a" stroke-width="0.16" >Cy3</text>
<text x="460.98" y="27.20" font-size="6.15" text-anchor="middle" font-weight="normal" fill="#1a1a1a" stroke="#1a1a1a" stroke-width="0.16" >Merge</text>
<text x="50.20" y="54.95" font-size="6.15" text-anchor="end" font-weight="normal" fill="#1a1a1a" stroke="#1a1a1a" stroke-width="0.16" >Control</text>
<text x="50.20" y="99.95" font-size="6.15" text-anchor="end" font-weight="normal" fill="#1a1a1a" stroke="#1a1a1a" stroke-width="0.16" >RTM-dsDNA</text>
<text x="50.20" y="144.90" font-size="6.15" text-anchor="end" font-weight="normal" fill="#1a1a1a" stroke="#1a1a1a" stroke-width="0.16" >TDN</text>
<text x="50.20" y="189.90" font-size="6.15" text-anchor="end" font-weight="normal" fill="#1a1a1a" stroke="#1a1a1a" stroke-width="0.16" >RTD</text>
<text x="6.60" y="16.30" font-size="11.3" text-anchor="start" font-weight="bold" fill="#000" stroke="#000" stroke-width="0.4" stroke-linejoin="round" >A</text>
<text x="280.60" y="16.40" font-size="11.3" text-anchor="start" font-weight="bold" fill="#000" stroke="#000" stroke-width="0.4" stroke-linejoin="round" >B</text>
<text x="6.80" y="237.30" font-size="11.3" text-anchor="start" font-weight="bold" fill="#000" stroke="#000" stroke-width="0.4" stroke-linejoin="round" >C</text>
<text x="266.30" y="237.40" font-size="11.3" text-anchor="start" font-weight="bold" fill="#000" stroke="#000" stroke-width="0.4" stroke-linejoin="round" >D</text>
<text x="6.60" y="464.60" font-size="11.3" text-anchor="start" font-weight="bold" fill="#000" stroke="#000" stroke-width="0.4" stroke-linejoin="round" >E</text>
<text x="266.00" y="464.60" font-size="11.3" text-anchor="start" font-weight="bold" fill="#000" stroke="#000" stroke-width="0.4" stroke-linejoin="round" >F</text>
<clipPath id="fc76"><rect x="76.8" y="242.6" width="170.60000000000002" height="170.79999999999998"/></clipPath>
<g clip-path="url(#fc76)">
<path d="M77.30,265.40 L78.80,266.70 L79.76,266.78 L80.99,266.84 L82.43,266.89 L83.99,266.92 L85.61,266.93 L87.20,266.94 L88.69,266.94 L90.00,266.95 L91.50,266.95 L92.83,266.94 L94.08,266.92 L95.30,266.89 L96.59,266.85 L98.00,266.80 L99.36,266.76 L100.84,266.72 L102.38,266.67 L103.92,266.62 L105.41,266.54 L106.79,266.44 L108.00,266.30 L109.70,266.00 L111.06,265.74 L112.27,265.21 L113.50,264.55 L114.80,263.64 L116.08,262.69 L117.31,261.47 L118.50,259.79 L119.98,257.87 L121.38,255.17 L122.80,252.62 L124.34,249.84 L125.91,247.03 L127.30,245.61 L128.76,244.62 L130.20,246.79 L131.52,249.13 L133.00,252.34 L134.50,255.27 L135.93,257.52 L137.38,259.26 L139.00,261.14 L140.37,262.35 L141.84,263.08 L143.39,263.82 L145.00,264.48 L146.32,264.94 L147.68,265.35 L149.08,265.70 L150.52,265.94 L152.00,266.20 L153.28,266.37 L154.59,266.53 L155.94,266.66 L157.30,266.74 L158.66,266.83 L160.00,266.90 L160.51,266.95 L160.04,266.98 L159.57,266.99 L160.08,267.00 L162.56,267.00 L168.00,267.00 L168.86,267.00 L169.79,267.00 L170.80,267.00 L171.88,267.00 L173.02,267.00 L174.22,267.00 L175.49,267.00 L176.82,267.01 L178.19,267.01 L179.62,267.01 L181.10,267.01 L182.63,267.01 L184.19,267.01 L185.80,267.01 L187.44,267.01 L189.11,267.01 L190.82,267.01 L192.55,267.01 L194.31,267.01 L196.09,267.01 L197.88,267.01 L199.69,267.01 L201.52,267.01 L203.35,267.01 L205.19,267.01 L207.03,267.01 L208.87,267.01 L210.71,267.01 L212.54,267.01 L214.37,267.01 L216.18,267.01 L217.98,267.00 L219.75,267.00 L221.51,267.00 L223.25,267.00 L224.95,267.00 L226.63,267.00 L228.27,267.00 L229.88,267.00 L231.45,267.00 L232.98,267.00 L234.46,267.00 L235.89,267.00 L237.27,267.00 L238.60,267.00 L239.87,267.00 L241.08,267.00 L242.22,267.00 L243.30,267.00 L244.31,267.00 L245.25,267.00 L246.12,267.00 L246.90,267.00 L246.90,267.00 L77.30,267.00 Z" fill="#eaa3b5" fill-opacity="0.9"/>
<path d="M77.30,265.40 L78.80,266.70 L79.76,266.78 L80.99,266.84 L82.43,266.89 L83.99,266.92 L85.61,266.93 L87.20,266.94 L88.69,266.94 L90.00,266.95 L91.50,266.95 L92.83,266.94 L94.08,266.92 L95.30,266.89 L96.59,266.85 L98.00,266.80 L99.36,266.76 L100.84,266.72 L102.38,266.67 L103.92,266.62 L105.41,266.54 L106.79,266.44 L108.00,266.30 L109.70,266.00 L111.06,265.74 L112.27,265.21 L113.50,264.55 L114.80,263.64 L116.08,262.69 L117.31,261.47 L118.50,259.79 L119.98,257.87 L121.38,255.17 L122.80,252.62 L124.34,249.84 L125.91,247.03 L127.30,245.61 L128.76,244.62 L130.20,246.79 L131.52,249.13 L133.00,252.34 L134.50,255.27 L135.93,257.52 L137.38,259.26 L139.00,261.14 L140.37,262.35 L141.84,263.08 L143.39,263.82 L145.00,264.48 L146.32,264.94 L147.68,265.35 L149.08,265.70 L150.52,265.94 L152.00,266.20 L153.28,266.37 L154.59,266.53 L155.94,266.66 L157.30,266.74 L158.66,266.83 L160.00,266.90 L160.51,266.95 L160.04,266.98 L159.57,266.99 L160.08,267.00 L162.56,267.00 L168.00,267.00 L168.86,267.00 L169.79,267.00 L170.80,267.00 L171.88,267.00 L173.02,267.00 L174.22,267.00 L175.49,267.00 L176.82,267.01 L178.19,267.01 L179.62,267.01 L181.10,267.01 L182.63,267.01 L184.19,267.01 L185.80,267.01 L187.44,267.01 L189.11,267.01 L190.82,267.01 L192.55,267.01 L194.31,267.01 L196.09,267.01 L197.88,267.01 L199.69,267.01 L201.52,267.01 L203.35,267.01 L205.19,267.01 L207.03,267.01 L208.87,267.01 L210.71,267.01 L212.54,267.01 L214.37,267.01 L216.18,267.01 L217.98,267.00 L219.75,267.00 L221.51,267.00 L223.25,267.00 L224.95,267.00 L226.63,267.00 L228.27,267.00 L229.88,267.00 L231.45,267.00 L232.98,267.00 L234.46,267.00 L235.89,267.00 L237.27,267.00 L238.60,267.00 L239.87,267.00 L241.08,267.00 L242.22,267.00 L243.30,267.00 L244.31,267.00 L245.25,267.00 L246.12,267.00 L246.90,267.00" fill="none" stroke="#c2264d" stroke-width="1.25" stroke-linejoin="round"/>
<path d="M77.30,277.40 L78.80,278.70 L79.72,278.75 L80.86,278.80 L82.19,278.83 L83.69,278.86 L85.30,278.88 L86.99,278.89 L88.74,278.91 L90.51,278.91 L92.26,278.92 L93.95,278.92 L95.56,278.93 L97.04,278.93 L98.37,278.94 L99.50,278.95 L101.54,278.98 L103.01,279.03 L104.14,279.07 L105.12,279.08 L106.17,279.07 L107.50,279.00 L108.90,278.90 L110.42,278.75 L112.01,278.59 L113.61,278.42 L115.18,278.21 L116.66,278.01 L118.00,277.78 L119.62,277.55 L121.03,277.39 L122.33,277.18 L123.62,276.82 L125.00,276.22 L126.51,275.40 L128.08,274.68 L129.66,273.42 L131.15,272.31 L132.50,271.25 L133.96,269.89 L135.23,267.86 L136.40,266.15 L137.50,264.98 L138.86,263.64 L140.08,263.05 L141.25,263.29 L142.43,262.21 L143.55,261.62 L144.50,260.88 L145.19,262.21 L146.25,264.08 L147.25,263.99 L148.55,264.27 L149.96,264.21 L151.34,263.89 L152.50,264.33 L153.89,265.35 L155.00,267.03 L156.25,268.63 L157.47,270.16 L158.83,271.34 L160.15,272.92 L161.25,273.84 L162.42,274.60 L163.75,275.09 L164.74,275.50 L165.92,275.90 L167.23,276.55 L168.61,277.07 L170.00,277.48 L171.38,277.83 L172.79,278.14 L174.26,278.39 L175.82,278.57 L177.50,278.76 L178.81,278.86 L180.23,278.96 L181.72,279.03 L183.22,279.09 L184.72,279.10 L186.15,279.10 L187.50,279.10 L188.45,279.10 L188.71,279.10 L188.91,279.10 L189.69,279.08 L191.68,279.03 L195.50,279.00 L196.40,279.00 L197.41,279.00 L198.52,278.99 L199.73,278.99 L201.01,278.99 L202.38,278.99 L203.82,278.99 L205.33,278.99 L206.90,278.99 L208.52,278.99 L210.19,278.98 L211.90,278.99 L213.64,278.99 L215.40,278.99 L217.19,278.99 L218.99,278.99 L220.80,278.99 L222.60,278.99 L224.40,278.99 L226.19,278.99 L227.96,278.99 L229.70,278.99 L231.41,278.99 L233.07,278.99 L234.70,278.99 L236.26,279.00 L237.77,279.00 L239.22,279.00 L240.58,279.00 L241.87,279.00 L243.08,279.00 L244.19,279.00 L245.20,279.00 L246.11,279.00 L246.90,279.00 L246.90,279.00 L77.30,279.00 Z" fill="#a9d6f2" fill-opacity="0.9"/>
<path d="M77.30,277.40 L78.80,278.70 L79.72,278.75 L80.86,278.80 L82.19,278.83 L83.69,278.86 L85.30,278.88 L86.99,278.89 L88.74,278.91 L90.51,278.91 L92.26,278.92 L93.95,278.92 L95.56,278.93 L97.04,278.93 L98.37,278.94 L99.50,278.95 L101.54,278.98 L103.01,279.03 L104.14,279.07 L105.12,279.08 L106.17,279.07 L107.50,279.00 L108.90,278.90 L110.42,278.75 L112.01,278.59 L113.61,278.42 L115.18,278.21 L116.66,278.01 L118.00,277.78 L119.62,277.55 L121.03,277.39 L122.33,277.18 L123.62,276.82 L125.00,276.22 L126.51,275.40 L128.08,274.68 L129.66,273.42 L131.15,272.31 L132.50,271.25 L133.96,269.89 L135.23,267.86 L136.40,266.15 L137.50,264.98 L138.86,263.64 L140.08,263.05 L141.25,263.29 L142.43,262.21 L143.55,261.62 L144.50,260.88 L145.19,262.21 L146.25,264.08 L147.25,263.99 L148.55,264.27 L149.96,264.21 L151.34,263.89 L152.50,264.33 L153.89,265.35 L155.00,267.03 L156.25,268.63 L157.47,270.16 L158.83,271.34 L160.15,272.92 L161.25,273.84 L162.42,274.60 L163.75,275.09 L164.74,275.50 L165.92,275.90 L167.23,276.55 L168.61,277.07 L170.00,277.48 L171.38,277.83 L172.79,278.14 L174.26,278.39 L175.82,278.57 L177.50,278.76 L178.81,278.86 L180.23,278.96 L181.72,279.03 L183.22,279.09 L184.72,279.10 L186.15,279.10 L187.50,279.10 L188.45,279.10 L188.71,279.10 L188.91,279.10 L189.69,279.08 L191.68,279.03 L195.50,279.00 L196.40,279.00 L197.41,279.00 L198.52,278.99 L199.73,278.99 L201.01,278.99 L202.38,278.99 L203.82,278.99 L205.33,278.99 L206.90,278.99 L208.52,278.99 L210.19,278.98 L211.90,278.99 L213.64,278.99 L215.40,278.99 L217.19,278.99 L218.99,278.99 L220.80,278.99 L222.60,278.99 L224.40,278.99 L226.19,278.99 L227.96,278.99 L229.70,278.99 L231.41,278.99 L233.07,278.99 L234.70,278.99 L236.26,279.00 L237.77,279.00 L239.22,279.00 L240.58,279.00 L241.87,279.00 L243.08,279.00 L244.19,279.00 L245.20,279.00 L246.11,279.00 L246.90,279.00" fill="none" stroke="#3a9edc" stroke-width="1.25" stroke-linejoin="round"/>
<path d="M77.30,289.40 L78.80,290.70 L79.65,290.74 L80.69,290.77 L81.89,290.80 L83.22,290.83 L84.68,290.85 L86.23,290.87 L87.86,290.88 L89.53,290.90 L91.24,290.90 L92.96,290.91 L94.67,290.92 L96.35,290.92 L97.97,290.92 L99.51,290.93 L100.96,290.93 L102.29,290.93 L103.48,290.94 L104.50,290.95 L106.81,291.00 L108.31,291.07 L109.33,291.10 L110.16,291.10 L111.11,291.10 L112.50,291.00 L113.71,290.86 L115.02,290.67 L116.43,290.48 L117.88,290.26 L119.37,289.97 L120.85,289.72 L122.30,289.43 L123.70,289.10 L125.00,288.76 L126.59,288.38 L128.15,287.86 L129.66,287.40 L131.11,286.77 L132.49,286.19 L133.79,285.65 L135.00,285.04 L136.51,284.20 L137.83,283.21 L139.02,281.75 L140.14,280.82 L141.25,279.85 L142.62,278.62 L143.91,278.31 L145.12,276.67 L146.25,275.98 L147.50,275.04 L148.61,274.84 L150.00,274.35 L151.11,274.59 L152.38,274.25 L153.72,274.06 L155.04,274.29 L156.25,274.68 L157.56,275.67 L158.75,275.82 L159.94,277.03 L161.25,277.64 L162.40,278.66 L163.60,279.54 L164.85,280.63 L166.15,281.74 L167.50,282.67 L168.88,283.71 L170.29,284.51 L171.76,285.55 L173.32,286.62 L175.00,287.54 L176.30,288.04 L177.67,288.52 L179.11,289.06 L180.58,289.48 L182.07,289.84 L183.55,290.20 L185.00,290.51 L186.45,290.73 L187.92,290.89 L189.39,291.01 L190.85,291.08 L192.29,291.10 L193.68,291.10 L195.00,291.10 L196.03,291.10 L196.49,291.10 L196.88,291.10 L197.75,291.09 L199.61,291.03 L203.00,291.00 L203.93,291.00 L204.98,290.99 L206.13,290.99 L207.39,290.99 L208.75,290.99 L210.18,290.99 L211.70,290.99 L213.28,290.99 L214.91,290.99 L216.60,290.99 L218.33,290.98 L220.08,290.99 L221.86,290.99 L223.65,290.99 L225.45,290.99 L227.24,290.99 L229.02,290.99 L230.78,290.99 L232.50,290.99 L234.19,290.99 L235.83,290.99 L237.41,290.99 L238.92,291.00 L240.36,291.00 L241.71,291.00 L242.97,291.00 L244.13,291.00 L245.17,291.00 L246.10,291.00 L246.90,291.00 L246.90,291.00 L77.30,291.00 Z" fill="#f9cc8e" fill-opacity="0.9"/>
<path d="M77.30,289.40 L78.80,290.70 L79.65,290.74 L80.69,290.77 L81.89,290.80 L83.22,290.83 L84.68,290.85 L86.23,290.87 L87.86,290.88 L89.53,290.90 L91.24,290.90 L92.96,290.91 L94.67,290.92 L96.35,290.92 L97.97,290.92 L99.51,290.93 L100.96,290.93 L102.29,290.93 L103.48,290.94 L104.50,290.95 L106.81,291.00 L108.31,291.07 L109.33,291.10 L110.16,291.10 L111.11,291.10 L112.50,291.00 L113.71,290.86 L115.02,290.67 L116.43,290.48 L117.88,290.26 L119.37,289.97 L120.85,289.72 L122.30,289.43 L123.70,289.10 L125.00,288.76 L126.59,288.38 L128.15,287.86 L129.66,287.40 L131.11,286.77 L132.49,286.19 L133.79,285.65 L135.00,285.04 L136.51,284.20 L137.83,283.21 L139.02,281.75 L140.14,280.82 L141.25,279.85 L142.62,278.62 L143.91,278.31 L145.12,276.67 L146.25,275.98 L147.50,275.04 L148.61,274.84 L150.00,274.35 L151.11,274.59 L152.38,274.25 L153.72,274.06 L155.04,274.29 L156.25,274.68 L157.56,275.67 L158.75,275.82 L159.94,277.03 L161.25,277.64 L162.40,278.66 L163.60,279.54 L164.85,280.63 L166.15,281.74 L167.50,282.67 L168.88,283.71 L170.29,284.51 L171.76,285.55 L173.32,286.62 L175.00,287.54 L176.30,288.04 L177.67,288.52 L179.11,289.06 L180.58,289.48 L182.07,289.84 L183.55,290.20 L185.00,290.51 L186.45,290.73 L187.92,290.89 L189.39,291.01 L190.85,291.08 L192.29,291.10 L193.68,291.10 L195.00,291.10 L196.03,291.10 L196.49,291.10 L196.88,291.10 L197.75,291.09 L199.61,291.03 L203.00,291.00 L203.93,291.00 L204.98,290.99 L206.13,290.99 L207.39,290.99 L208.75,290.99 L210.18,290.99 L211.70,290.99 L213.28,290.99 L214.91,290.99 L216.60,290.99 L218.33,290.98 L220.08,290.99 L221.86,290.99 L223.65,290.99 L225.45,290.99 L227.24,290.99 L229.02,290.99 L230.78,290.99 L232.50,290.99 L234.19,290.99 L235.83,290.99 L237.41,290.99 L238.92,291.00 L240.36,291.00 L241.71,291.00 L242.97,291.00 L244.13,291.00 L245.17,291.00 L246.10,291.00 L246.90,291.00" fill="none" stroke="#f0932b" stroke-width="1.25" stroke-linejoin="round"/>
<path d="M77.30,301.40 L78.80,302.70 L79.66,302.73 L80.67,302.76 L81.82,302.78 L83.09,302.81 L84.48,302.82 L85.97,302.84 L87.54,302.86 L89.19,302.87 L90.90,302.89 L92.65,302.90 L94.44,302.91 L96.24,302.92 L98.05,302.92 L99.86,302.93 L101.64,302.93 L103.39,302.94 L105.08,302.94 L106.72,302.94 L108.28,302.94 L109.76,302.94 L111.13,302.94 L112.39,302.95 L113.51,302.95 L114.50,302.95 L117.36,302.96 L118.96,302.98 L119.79,302.99 L120.34,302.97 L121.08,302.91 L122.50,302.80 L123.75,302.72 L125.17,302.63 L126.72,302.51 L128.36,302.39 L130.03,302.23 L131.70,302.07 L133.33,301.92 L134.87,301.76 L136.27,301.50 L137.50,301.22 L139.52,300.65 L141.16,299.81 L142.54,299.02 L143.78,298.31 L145.00,297.42 L146.46,296.73 L147.73,296.00 L148.90,295.18 L150.00,294.58 L151.30,293.55 L152.45,292.97 L153.75,291.70 L154.94,291.11 L156.25,290.67 L157.56,290.59 L158.75,290.28 L160.14,289.73 L161.39,288.75 L162.50,288.82 L163.83,289.57 L165.00,289.94 L166.09,289.20 L167.50,289.43 L168.57,289.43 L169.84,290.16 L171.19,290.59 L172.50,290.97 L173.75,292.19 L175.00,293.62 L176.25,295.22 L177.50,296.07 L178.69,297.20 L179.84,297.89 L181.07,298.85 L182.50,299.52 L183.80,300.15 L185.20,300.65 L186.70,301.13 L188.30,301.63 L190.00,302.01 L191.31,302.24 L192.73,302.44 L194.22,302.58 L195.72,302.71 L197.22,302.83 L198.65,302.92 L200.00,303.00 L201.09,303.06 L201.67,303.07 L202.19,303.06 L203.12,303.04 L204.90,303.01 L208.00,303.00 L208.97,303.00 L210.09,303.00 L211.32,303.00 L212.67,303.00 L214.12,303.00 L215.66,303.00 L217.28,303.00 L218.97,303.00 L220.70,303.00 L222.48,303.00 L224.29,303.00 L226.12,303.00 L227.95,303.00 L229.78,303.00 L231.59,303.00 L233.36,303.00 L235.10,303.00 L236.79,303.00 L238.40,303.00 L239.95,303.00 L241.40,303.00 L242.75,303.00 L243.99,303.00 L245.10,303.00 L246.07,303.00 L246.90,303.00 L246.90,303.00 L77.30,303.00 Z" fill="#a9dba6" fill-opacity="0.9"/>
<path d="M77.30,301.40 L78.80,302.70 L79.66,302.73 L80.67,302.76 L81.82,302.78 L83.09,302.81 L84.48,302.82 L85.97,302.84 L87.54,302.86 L89.19,302.87 L90.90,302.89 L92.65,302.90 L94.44,302.91 L96.24,302.92 L98.05,302.92 L99.86,302.93 L101.64,302.93 L103.39,302.94 L105.08,302.94 L106.72,302.94 L108.28,302.94 L109.76,302.94 L111.13,302.94 L112.39,302.95 L113.51,302.95 L114.50,302.95 L117.36,302.96 L118.96,302.98 L119.79,302.99 L120.34,302.97 L121.08,302.91 L122.50,302.80 L123.75,302.72 L125.17,302.63 L126.72,302.51 L128.36,302.39 L130.03,302.23 L131.70,302.07 L133.33,301.92 L134.87,301.76 L136.27,301.50 L137.50,301.22 L139.52,300.65 L141.16,299.81 L142.54,299.02 L143.78,298.31 L145.00,297.42 L146.46,296.73 L147.73,296.00 L148.90,295.18 L150.00,294.58 L151.30,293.55 L152.45,292.97 L153.75,291.70 L154.94,291.11 L156.25,290.67 L157.56,290.59 L158.75,290.28 L160.14,289.73 L161.39,288.75 L162.50,288.82 L163.83,289.57 L165.00,289.94 L166.09,289.20 L167.50,289.43 L168.57,289.43 L169.84,290.16 L171.19,290.59 L172.50,290.97 L173.75,292.19 L175.00,293.62 L176.25,295.22 L177.50,296.07 L178.69,297.20 L179.84,297.89 L181.07,298.85 L182.50,299.52 L183.80,300.15 L185.20,300.65 L186.70,301.13 L188.30,301.63 L190.00,302.01 L191.31,302.24 L192.73,302.44 L194.22,302.58 L195.72,302.71 L197.22,302.83 L198.65,302.92 L200.00,303.00 L201.09,303.06 L201.67,303.07 L202.19,303.06 L203.12,303.04 L204.90,303.01 L208.00,303.00 L208.97,303.00 L210.09,303.00 L211.32,303.00 L212.67,303.00 L214.12,303.00 L215.66,303.00 L217.28,303.00 L218.97,303.00 L220.70,303.00 L222.48,303.00 L224.29,303.00 L226.12,303.00 L227.95,303.00 L229.78,303.00 L231.59,303.00 L233.36,303.00 L235.10,303.00 L236.79,303.00 L238.40,303.00 L239.95,303.00 L241.40,303.00 L242.75,303.00 L243.99,303.00 L245.10,303.00 L246.07,303.00 L246.90,303.00" fill="none" stroke="#3fa84a" stroke-width="1.25" stroke-linejoin="round"/>
<path d="M77.30,313.40 L78.80,314.70 L79.68,314.74 L80.74,314.77 L81.97,314.81 L83.34,314.82 L84.83,314.85 L86.42,314.87 L88.09,314.88 L89.83,314.90 L91.60,314.91 L93.39,314.92 L95.18,314.93 L96.95,314.93 L98.68,314.94 L100.34,314.94 L101.92,314.94 L103.40,314.94 L104.75,314.94 L105.96,314.95 L107.00,314.95 L109.39,314.97 L110.81,314.99 L111.67,315.00 L112.38,314.99 L113.35,314.92 L115.00,314.80 L116.16,314.71 L117.48,314.59 L118.94,314.46 L120.50,314.34 L122.12,314.16 L123.78,313.98 L125.44,313.81 L127.06,313.64 L128.61,313.47 L130.05,313.31 L131.36,313.12 L132.50,312.99 L134.66,312.70 L136.28,312.35 L137.57,311.93 L138.74,311.69 L140.00,311.19 L141.35,310.82 L142.65,310.21 L143.90,309.71 L145.10,309.13 L146.25,308.89 L147.59,307.97 L148.83,307.58 L150.03,306.76 L151.25,306.40 L152.47,305.80 L153.67,305.66 L154.91,305.65 L156.25,305.99 L157.42,305.81 L158.66,305.56 L159.94,305.66 L161.23,305.27 L162.50,305.72 L163.75,305.60 L165.00,305.81 L166.25,305.85 L167.50,306.41 L168.75,306.68 L169.98,307.34 L171.19,307.75 L172.41,308.28 L173.67,308.72 L175.00,309.41 L176.42,309.74 L177.91,310.25 L179.44,310.90 L180.98,311.46 L182.50,312.09 L183.96,312.39 L185.38,312.76 L186.82,313.19 L188.34,313.45 L190.00,313.72 L191.31,313.95 L192.73,314.09 L194.22,314.27 L195.72,314.42 L197.22,314.55 L198.65,314.66 L200.00,314.76 L201.09,314.84 L201.67,314.90 L202.19,314.94 L203.12,314.96 L204.90,314.98 L208.00,315.00 L208.97,315.00 L210.09,315.01 L211.32,315.01 L212.67,315.01 L214.12,315.02 L215.66,315.02 L217.28,315.02 L218.97,315.02 L220.70,315.02 L222.48,315.02 L224.29,315.02 L226.12,315.02 L227.95,315.02 L229.78,315.01 L231.59,315.01 L233.36,315.01 L235.10,315.01 L236.79,315.01 L238.40,315.01 L239.95,315.01 L241.40,315.00 L242.75,315.00 L243.99,315.00 L245.10,315.00 L246.07,315.00 L246.90,315.00 L246.90,315.00 L77.30,315.00 Z" fill="#8fbaa6" fill-opacity="0.9"/>
<path d="M77.30,313.40 L78.80,314.70 L79.68,314.74 L80.74,314.77 L81.97,314.81 L83.34,314.82 L84.83,314.85 L86.42,314.87 L88.09,314.88 L89.83,314.90 L91.60,314.91 L93.39,314.92 L95.18,314.93 L96.95,314.93 L98.68,314.94 L100.34,314.94 L101.92,314.94 L103.40,314.94 L104.75,314.94 L105.96,314.95 L107.00,314.95 L109.39,314.97 L110.81,314.99 L111.67,315.00 L112.38,314.99 L113.35,314.92 L115.00,314.80 L116.16,314.71 L117.48,314.59 L118.94,314.46 L120.50,314.34 L122.12,314.16 L123.78,313.98 L125.44,313.81 L127.06,313.64 L128.61,313.47 L130.05,313.31 L131.36,313.12 L132.50,312.99 L134.66,312.70 L136.28,312.35 L137.57,311.93 L138.74,311.69 L140.00,311.19 L141.35,310.82 L142.65,310.21 L143.90,309.71 L145.10,309.13 L146.25,308.89 L147.59,307.97 L148.83,307.58 L150.03,306.76 L151.25,306.40 L152.47,305.80 L153.67,305.66 L154.91,305.65 L156.25,305.99 L157.42,305.81 L158.66,305.56 L159.94,305.66 L161.23,305.27 L162.50,305.72 L163.75,305.60 L165.00,305.81 L166.25,305.85 L167.50,306.41 L168.75,306.68 L169.98,307.34 L171.19,307.75 L172.41,308.28 L173.67,308.72 L175.00,309.41 L176.42,309.74 L177.91,310.25 L179.44,310.90 L180.98,311.46 L182.50,312.09 L183.96,312.39 L185.38,312.76 L186.82,313.19 L188.34,313.45 L190.00,313.72 L191.31,313.95 L192.73,314.09 L194.22,314.27 L195.72,314.42 L197.22,314.55 L198.65,314.66 L200.00,314.76 L201.09,314.84 L201.67,314.90 L202.19,314.94 L203.12,314.96 L204.90,314.98 L208.00,315.00 L208.97,315.00 L210.09,315.01 L211.32,315.01 L212.67,315.01 L214.12,315.02 L215.66,315.02 L217.28,315.02 L218.97,315.02 L220.70,315.02 L222.48,315.02 L224.29,315.02 L226.12,315.02 L227.95,315.02 L229.78,315.01 L231.59,315.01 L233.36,315.01 L235.10,315.01 L236.79,315.01 L238.40,315.01 L239.95,315.01 L241.40,315.00 L242.75,315.00 L243.99,315.00 L245.10,315.00 L246.07,315.00 L246.90,315.00" fill="none" stroke="#1d6b4e" stroke-width="1.25" stroke-linejoin="round"/>
<path d="M77.30,325.40 L78.80,326.70 L79.68,326.74 L80.74,326.77 L81.97,326.81 L83.34,326.82 L84.83,326.85 L86.42,326.87 L88.09,326.89 L89.83,326.90 L91.60,326.91 L93.39,326.92 L95.18,326.93 L96.95,326.93 L98.68,326.94 L100.34,326.94 L101.92,326.94 L103.40,326.94 L104.75,326.94 L105.96,326.95 L107.00,326.95 L109.39,326.96 L110.81,326.97 L111.67,326.97 L112.38,326.95 L113.35,326.90 L115.00,326.80 L116.15,326.74 L117.45,326.67 L118.88,326.59 L120.41,326.51 L122.00,326.43 L123.62,326.35 L125.26,326.24 L126.87,326.11 L128.43,325.95 L129.91,325.79 L131.27,325.66 L132.50,325.48 L134.34,325.21 L135.98,324.73 L137.44,324.35 L138.78,323.92 L140.04,323.42 L141.27,323.01 L142.50,322.50 L144.18,321.93 L145.74,321.15 L147.21,320.46 L148.62,319.55 L150.00,318.99 L151.35,317.71 L152.65,317.03 L153.90,316.52 L155.10,315.57 L156.25,315.11 L157.56,314.43 L158.75,313.66 L159.94,313.71 L161.25,312.79 L162.40,312.80 L163.60,312.94 L164.85,313.07 L166.15,312.71 L167.50,313.13 L168.96,313.25 L170.53,313.79 L172.12,313.74 L173.64,313.70 L175.00,314.63 L176.40,314.92 L177.58,315.58 L178.72,316.71 L180.00,317.46 L181.15,318.56 L182.35,319.33 L183.60,320.63 L184.90,321.59 L186.25,322.42 L187.65,323.11 L189.10,323.75 L190.60,324.19 L192.15,324.64 L193.75,324.94 L195.14,325.29 L196.60,325.62 L198.09,325.90 L199.59,326.11 L201.07,326.32 L202.50,326.49 L203.55,326.64 L204.17,326.76 L204.77,326.85 L205.76,326.91 L207.53,326.96 L210.50,327.00 L211.46,327.01 L212.56,327.02 L213.78,327.02 L215.11,327.03 L216.54,327.03 L218.06,327.03 L219.66,327.04 L221.31,327.04 L223.02,327.04 L224.76,327.04 L226.53,327.03 L228.31,327.03 L230.09,327.03 L231.86,327.03 L233.60,327.02 L235.30,327.02 L236.96,327.02 L238.55,327.01 L240.07,327.01 L241.50,327.01 L242.83,327.01 L244.04,327.00 L245.14,327.00 L246.09,327.00 L246.90,327.00 L246.90,327.00 L77.30,327.00 Z" fill="#dcb994" fill-opacity="0.9"/>
<path d="M77.30,325.40 L78.80,326.70 L79.68,326.74 L80.74,326.77 L81.97,326.81 L83.34,326.82 L84.83,326.85 L86.42,326.87 L88.09,326.89 L89.83,326.90 L91.60,326.91 L93.39,326.92 L95.18,326.93 L96.95,326.93 L98.68,326.94 L100.34,326.94 L101.92,326.94 L103.40,326.94 L104.75,326.94 L105.96,326.95 L107.00,326.95 L109.39,326.96 L110.81,326.97 L111.67,326.97 L112.38,326.95 L113.35,326.90 L115.00,326.80 L116.15,326.74 L117.45,326.67 L118.88,326.59 L120.41,326.51 L122.00,326.43 L123.62,326.35 L125.26,326.24 L126.87,326.11 L128.43,325.95 L129.91,325.79 L131.27,325.66 L132.50,325.48 L134.34,325.21 L135.98,324.73 L137.44,324.35 L138.78,323.92 L140.04,323.42 L141.27,323.01 L142.50,322.50 L144.18,321.93 L145.74,321.15 L147.21,320.46 L148.62,319.55 L150.00,318.99 L151.35,317.71 L152.65,317.03 L153.90,316.52 L155.10,315.57 L156.25,315.11 L157.56,314.43 L158.75,313.66 L159.94,313.71 L161.25,312.79 L162.40,312.80 L163.60,312.94 L164.85,313.07 L166.15,312.71 L167.50,313.13 L168.96,313.25 L170.53,313.79 L172.12,313.74 L173.64,313.70 L175.00,314.63 L176.40,314.92 L177.58,315.58 L178.72,316.71 L180.00,317.46 L181.15,318.56 L182.35,319.33 L183.60,320.63 L184.90,321.59 L186.25,322.42 L187.65,323.11 L189.10,323.75 L190.60,324.19 L192.15,324.64 L193.75,324.94 L195.14,325.29 L196.60,325.62 L198.09,325.90 L199.59,326.11 L201.07,326.32 L202.50,326.49 L203.55,326.64 L204.17,326.76 L204.77,326.85 L205.76,326.91 L207.53,326.96 L210.50,327.00 L211.46,327.01 L212.56,327.02 L213.78,327.02 L215.11,327.03 L216.54,327.03 L218.06,327.03 L219.66,327.04 L221.31,327.04 L223.02,327.04 L224.76,327.04 L226.53,327.03 L228.31,327.03 L230.09,327.03 L231.86,327.03 L233.60,327.02 L235.30,327.02 L236.96,327.02 L238.55,327.01 L240.07,327.01 L241.50,327.01 L242.83,327.01 L244.04,327.00 L245.14,327.00 L246.09,327.00 L246.90,327.00" fill="none" stroke="#b87a34" stroke-width="1.25" stroke-linejoin="round"/>
<path d="M77.30,337.40 L78.80,338.70 L79.68,338.75 L80.77,338.78 L82.02,338.82 L83.43,338.85 L84.96,338.87 L86.58,338.89 L88.27,338.90 L89.99,338.91 L91.73,338.93 L93.46,338.93 L95.14,338.94 L96.76,338.94 L98.28,338.94 L99.68,338.94 L100.93,338.95 L102.00,338.95 L104.13,338.96 L105.53,338.96 L106.51,338.94 L107.38,338.91 L108.44,338.87 L110.00,338.81 L111.23,338.75 L112.59,338.69 L114.06,338.64 L115.62,338.56 L117.22,338.49 L118.84,338.42 L120.46,338.32 L122.05,338.25 L123.57,338.11 L125.00,338.02 L126.52,337.86 L128.02,337.74 L129.49,337.57 L130.93,337.37 L132.34,337.26 L133.70,337.00 L135.02,336.77 L136.29,336.49 L137.50,336.25 L139.22,335.71 L140.83,335.23 L142.34,334.40 L143.75,333.76 L145.05,333.23 L146.25,332.36 L147.76,331.75 L148.98,330.53 L150.09,329.89 L151.25,329.05 L152.50,327.72 L153.75,326.82 L155.00,326.21 L156.25,325.22 L157.47,324.61 L158.67,323.45 L159.91,322.58 L161.25,322.83 L162.46,322.31 L163.78,321.75 L165.12,321.48 L166.39,320.54 L167.50,320.74 L168.94,321.40 L170.09,321.29 L171.25,322.30 L172.45,323.31 L173.66,323.63 L175.00,323.79 L176.13,324.02 L177.34,325.52 L178.63,326.12 L180.00,327.68 L181.17,328.73 L182.41,330.19 L183.69,331.34 L184.98,332.47 L186.25,333.61 L187.48,334.58 L188.69,335.44 L189.91,336.05 L191.17,336.58 L192.50,337.02 L193.91,337.46 L195.39,337.77 L196.90,338.06 L198.45,338.28 L200.00,338.51 L200.95,338.66 L201.49,338.75 L202.04,338.85 L203.03,338.91 L204.87,338.96 L208.00,339.00 L208.97,339.01 L210.09,339.02 L211.32,339.02 L212.67,339.03 L214.12,339.03 L215.66,339.03 L217.28,339.04 L218.97,339.04 L220.70,339.04 L222.48,339.04 L224.29,339.04 L226.12,339.03 L227.95,339.03 L229.78,339.03 L231.59,339.03 L233.36,339.02 L235.10,339.02 L236.79,339.02 L238.40,339.01 L239.95,339.01 L241.40,339.01 L242.75,339.01 L243.99,339.00 L245.10,339.00 L246.07,339.00 L246.90,339.00 L246.90,339.00 L77.30,339.00 Z" fill="#b29bcb" fill-opacity="0.9"/>
<path d="M77.30,337.40 L78.80,338.70 L79.68,338.75 L80.77,338.78 L82.02,338.82 L83.43,338.85 L84.96,338.87 L86.58,338.89 L88.27,338.90 L89.99,338.91 L91.73,338.93 L93.46,338.93 L95.14,338.94 L96.76,338.94 L98.28,338.94 L99.68,338.94 L100.93,338.95 L102.00,338.95 L104.13,338.96 L105.53,338.96 L106.51,338.94 L107.38,338.91 L108.44,338.87 L110.00,338.81 L111.23,338.75 L112.59,338.69 L114.06,338.64 L115.62,338.56 L117.22,338.49 L118.84,338.42 L120.46,338.32 L122.05,338.25 L123.57,338.11 L125.00,338.02 L126.52,337.86 L128.02,337.74 L129.49,337.57 L130.93,337.37 L132.34,337.26 L133.70,337.00 L135.02,336.77 L136.29,336.49 L137.50,336.25 L139.22,335.71 L140.83,335.23 L142.34,334.40 L143.75,333.76 L145.05,333.23 L146.25,332.36 L147.76,331.75 L148.98,330.53 L150.09,329.89 L151.25,329.05 L152.50,327.72 L153.75,326.82 L155.00,326.21 L156.25,325.22 L157.47,324.61 L158.67,323.45 L159.91,322.58 L161.25,322.83 L162.46,322.31 L163.78,321.75 L165.12,321.48 L166.39,320.54 L167.50,320.74 L168.94,321.40 L170.09,321.29 L171.25,322.30 L172.45,323.31 L173.66,323.63 L175.00,323.79 L176.13,324.02 L177.34,325.52 L178.63,326.12 L180.00,327.68 L181.17,328.73 L182.41,330.19 L183.69,331.34 L184.98,332.47 L186.25,333.61 L187.48,334.58 L188.69,335.44 L189.91,336.05 L191.17,336.58 L192.50,337.02 L193.91,337.46 L195.39,337.77 L196.90,338.06 L198.45,338.28 L200.00,338.51 L200.95,338.66 L201.49,338.75 L202.04,338.85 L203.03,338.91 L204.87,338.96 L208.00,339.00 L208.97,339.01 L210.09,339.02 L211.32,339.02 L212.67,339.03 L214.12,339.03 L215.66,339.03 L217.28,339.04 L218.97,339.04 L220.70,339.04 L222.48,339.04 L224.29,339.04 L226.12,339.03 L227.95,339.03 L229.78,339.03 L231.59,339.03 L233.36,339.02 L235.10,339.02 L236.79,339.02 L238.40,339.01 L239.95,339.01 L241.40,339.01 L242.75,339.01 L243.99,339.00 L245.10,339.00 L246.07,339.00 L246.90,339.00" fill="none" stroke="#5b2d8e" stroke-width="1.25" stroke-linejoin="round"/>
<path d="M77.30,349.40 L78.80,350.70 L79.68,350.75 L80.77,350.79 L82.02,350.82 L83.43,350.85 L84.96,350.87 L86.58,350.89 L88.27,350.90 L89.99,350.91 L91.73,350.93 L93.46,350.93 L95.14,350.94 L96.76,350.94 L98.28,350.94 L99.68,350.94 L100.93,350.95 L102.00,350.95 L104.13,350.96 L105.53,350.95 L106.51,350.94 L107.38,350.91 L108.44,350.87 L110.00,350.80 L111.23,350.75 L112.59,350.70 L114.06,350.65 L115.62,350.58 L117.22,350.50 L118.84,350.43 L120.46,350.34 L122.05,350.24 L123.57,350.12 L125.00,350.02 L126.52,349.84 L128.02,349.62 L129.49,349.43 L130.93,349.22 L132.34,348.98 L133.70,348.84 L135.02,348.46 L136.29,348.30 L137.50,347.95 L139.22,347.57 L140.83,347.12 L142.34,346.56 L143.75,346.02 L145.05,345.60 L146.25,345.11 L147.76,344.11 L148.98,343.29 L150.09,342.64 L151.25,341.96 L152.47,341.32 L153.67,340.88 L154.91,340.16 L156.25,339.84 L157.44,338.85 L158.72,338.36 L160.03,337.78 L161.31,338.15 L162.50,337.51 L163.81,337.15 L165.00,337.19 L166.19,336.86 L167.50,337.01 L168.67,337.32 L169.91,337.69 L171.19,337.82 L172.48,337.95 L173.75,338.85 L175.00,339.25 L176.25,339.77 L177.50,341.08 L178.75,341.88 L180.00,342.54 L181.23,343.43 L182.44,344.18 L183.66,345.20 L184.92,346.30 L186.25,347.03 L187.65,347.55 L189.10,348.16 L190.60,348.75 L192.15,349.12 L193.75,349.47 L195.14,349.77 L196.60,349.95 L198.09,350.14 L199.59,350.27 L201.07,350.39 L202.50,350.51 L203.55,350.62 L204.17,350.72 L204.77,350.82 L205.76,350.89 L207.53,350.95 L210.50,351.00 L211.46,351.01 L212.56,351.02 L213.78,351.02 L215.11,351.03 L216.54,351.03 L218.06,351.03 L219.66,351.04 L221.31,351.04 L223.02,351.04 L224.76,351.04 L226.53,351.03 L228.31,351.03 L230.09,351.03 L231.86,351.03 L233.60,351.02 L235.30,351.02 L236.96,351.02 L238.55,351.01 L240.07,351.01 L241.50,351.01 L242.83,351.01 L244.04,351.00 L245.14,351.00 L246.09,351.00 L246.90,351.00 L246.90,351.00 L77.30,351.00 Z" fill="#d6e1c2" fill-opacity="0.9"/>
<path d="M77.30,349.40 L78.80,350.70 L79.68,350.75 L80.77,350.79 L82.02,350.82 L83.43,350.85 L84.96,350.87 L86.58,350.89 L88.27,350.90 L89.99,350.91 L91.73,350.93 L93.46,350.93 L95.14,350.94 L96.76,350.94 L98.28,350.94 L99.68,350.94 L100.93,350.95 L102.00,350.95 L104.13,350.96 L105.53,350.95 L106.51,350.94 L107.38,350.91 L108.44,350.87 L110.00,350.80 L111.23,350.75 L112.59,350.70 L114.06,350.65 L115.62,350.58 L117.22,350.50 L118.84,350.43 L120.46,350.34 L122.05,350.24 L123.57,350.12 L125.00,350.02 L126.52,349.84 L128.02,349.62 L129.49,349.43 L130.93,349.22 L132.34,348.98 L133.70,348.84 L135.02,348.46 L136.29,348.30 L137.50,347.95 L139.22,347.57 L140.83,347.12 L142.34,346.56 L143.75,346.02 L145.05,345.60 L146.25,345.11 L147.76,344.11 L148.98,343.29 L150.09,342.64 L151.25,341.96 L152.47,341.32 L153.67,340.88 L154.91,340.16 L156.25,339.84 L157.44,338.85 L158.72,338.36 L160.03,337.78 L161.31,338.15 L162.50,337.51 L163.81,337.15 L165.00,337.19 L166.19,336.86 L167.50,337.01 L168.67,337.32 L169.91,337.69 L171.19,337.82 L172.48,337.95 L173.75,338.85 L175.00,339.25 L176.25,339.77 L177.50,341.08 L178.75,341.88 L180.00,342.54 L181.23,343.43 L182.44,344.18 L183.66,345.20 L184.92,346.30 L186.25,347.03 L187.65,347.55 L189.10,348.16 L190.60,348.75 L192.15,349.12 L193.75,349.47 L195.14,349.77 L196.60,349.95 L198.09,350.14 L199.59,350.27 L201.07,350.39 L202.50,350.51 L203.55,350.62 L204.17,350.72 L204.77,350.82 L205.76,350.89 L207.53,350.95 L210.50,351.00 L211.46,351.01 L212.56,351.02 L213.78,351.02 L215.11,351.03 L216.54,351.03 L218.06,351.03 L219.66,351.04 L221.31,351.04 L223.02,351.04 L224.76,351.04 L226.53,351.03 L228.31,351.03 L230.09,351.03 L231.86,351.03 L233.60,351.02 L235.30,351.02 L236.96,351.02 L238.55,351.01 L240.07,351.01 L241.50,351.01 L242.83,351.01 L244.04,351.00 L245.14,351.00 L246.09,351.00 L246.90,351.00" fill="none" stroke="#a6bd80" stroke-width="1.25" stroke-linejoin="round"/>
<path d="M77.30,361.40 L78.80,362.70 L79.68,362.75 L80.77,362.79 L82.02,362.81 L83.43,362.84 L84.96,362.87 L86.58,362.89 L88.27,362.90 L89.99,362.92 L91.73,362.92 L93.46,362.93 L95.14,362.94 L96.76,362.94 L98.28,362.94 L99.68,362.94 L100.93,362.95 L102.00,362.95 L104.13,362.95 L105.53,362.94 L106.51,362.91 L107.38,362.87 L108.44,362.84 L110.00,362.80 L111.22,362.78 L112.55,362.77 L113.99,362.75 L115.50,362.74 L117.06,362.73 L118.66,362.70 L120.28,362.66 L121.89,362.63 L123.47,362.57 L125.00,362.51 L126.55,362.40 L128.16,362.30 L129.81,362.22 L131.48,362.07 L133.12,361.95 L134.72,361.80 L136.23,361.68 L137.64,361.55 L138.91,361.41 L140.00,361.29 L141.98,360.85 L143.20,360.50 L144.07,360.05 L145.00,359.53 L146.30,358.39 L147.45,357.12 L148.75,356.30 L149.91,355.66 L151.17,355.72 L152.47,355.37 L153.75,355.22 L154.97,353.99 L156.17,352.94 L157.41,351.96 L158.75,351.44 L159.92,351.04 L161.16,349.93 L162.44,349.61 L163.73,349.86 L165.00,349.41 L166.29,348.62 L167.62,348.30 L168.93,347.57 L170.16,348.05 L171.25,347.27 L172.59,348.25 L173.66,349.01 L175.00,349.27 L176.09,349.70 L177.32,350.91 L178.63,351.73 L179.96,351.88 L181.25,353.02 L182.48,353.90 L183.69,354.88 L184.91,356.25 L186.17,357.17 L187.50,357.96 L188.88,358.72 L190.29,359.55 L191.76,360.23 L193.32,360.77 L195.00,361.22 L196.31,361.53 L197.73,361.85 L199.22,362.08 L200.72,362.31 L202.22,362.46 L203.65,362.62 L205.00,362.76 L206.15,362.87 L206.86,362.93 L207.51,362.97 L208.49,362.98 L210.19,362.99 L213.00,363.00 L213.99,363.00 L215.13,363.01 L216.40,363.01 L217.78,363.01 L219.27,363.02 L220.85,363.02 L222.50,363.02 L224.21,363.02 L225.97,363.02 L227.75,363.02 L229.55,363.02 L231.35,363.01 L233.13,363.01 L234.89,363.01 L236.59,363.01 L238.24,363.01 L239.82,363.01 L241.31,363.00 L242.69,363.00 L243.96,363.00 L245.09,363.00 L246.08,363.00 L246.90,363.00 L246.90,363.00 L77.30,363.00 Z" fill="#fbe39a" fill-opacity="0.9"/>
<path d="M77.30,361.40 L78.80,362.70 L79.68,362.75 L80.77,362.79 L82.02,362.81 L83.43,362.84 L84.96,362.87 L86.58,362.89 L88.27,362.90 L89.99,362.92 L91.73,362.92 L93.46,362.93 L95.14,362.94 L96.76,362.94 L98.28,362.94 L99.68,362.94 L100.93,362.95 L102.00,362.95 L104.13,362.95 L105.53,362.94 L106.51,362.91 L107.38,362.87 L108.44,362.84 L110.00,362.80 L111.22,362.78 L112.55,362.77 L113.99,362.75 L115.50,362.74 L117.06,362.73 L118.66,362.70 L120.28,362.66 L121.89,362.63 L123.47,362.57 L125.00,362.51 L126.55,362.40 L128.16,362.30 L129.81,362.22 L131.48,362.07 L133.12,361.95 L134.72,361.80 L136.23,361.68 L137.64,361.55 L138.91,361.41 L140.00,361.29 L141.98,360.85 L143.20,360.50 L144.07,360.05 L145.00,359.53 L146.30,358.39 L147.45,357.12 L148.75,356.30 L149.91,355.66 L151.17,355.72 L152.47,355.37 L153.75,355.22 L154.97,353.99 L156.17,352.94 L157.41,351.96 L158.75,351.44 L159.92,351.04 L161.16,349.93 L162.44,349.61 L163.73,349.86 L165.00,349.41 L166.29,348.62 L167.62,348.30 L168.93,347.57 L170.16,348.05 L171.25,347.27 L172.59,348.25 L173.66,349.01 L175.00,349.27 L176.09,349.70 L177.32,350.91 L178.63,351.73 L179.96,351.88 L181.25,353.02 L182.48,353.90 L183.69,354.88 L184.91,356.25 L186.17,357.17 L187.50,357.96 L188.88,358.72 L190.29,359.55 L191.76,360.23 L193.32,360.77 L195.00,361.22 L196.31,361.53 L197.73,361.85 L199.22,362.08 L200.72,362.31 L202.22,362.46 L203.65,362.62 L205.00,362.76 L206.15,362.87 L206.86,362.93 L207.51,362.97 L208.49,362.98 L210.19,362.99 L213.00,363.00 L213.99,363.00 L215.13,363.01 L216.40,363.01 L217.78,363.01 L219.27,363.02 L220.85,363.02 L222.50,363.02 L224.21,363.02 L225.97,363.02 L227.75,363.02 L229.55,363.02 L231.35,363.01 L233.13,363.01 L234.89,363.01 L236.59,363.01 L238.24,363.01 L239.82,363.01 L241.31,363.00 L242.69,363.00 L243.96,363.00 L245.09,363.00 L246.08,363.00 L246.90,363.00" fill="none" stroke="#f4c542" stroke-width="1.25" stroke-linejoin="round"/>
<path d="M77.30,373.40 L78.80,374.70 L79.68,374.75 L80.77,374.79 L82.02,374.82 L83.43,374.84 L84.96,374.87 L86.58,374.89 L88.27,374.91 L89.99,374.92 L91.73,374.93 L93.46,374.93 L95.14,374.94 L96.76,374.94 L98.28,374.94 L99.68,374.94 L100.93,374.95 L102.00,374.95 L104.13,374.95 L105.53,374.94 L106.51,374.91 L107.38,374.87 L108.44,374.84 L110.00,374.80 L111.23,374.78 L112.59,374.76 L114.06,374.75 L115.62,374.74 L117.22,374.72 L118.84,374.69 L120.46,374.67 L122.05,374.62 L123.57,374.57 L125.00,374.50 L126.52,374.42 L128.02,374.28 L129.49,374.18 L130.93,374.04 L132.34,373.88 L133.70,373.76 L135.02,373.63 L136.29,373.39 L137.50,373.24 L139.19,373.00 L140.74,372.68 L142.19,372.45 L143.56,372.11 L144.91,371.58 L146.25,371.24 L147.83,370.63 L149.34,369.94 L150.81,369.41 L152.27,368.71 L153.75,367.85 L155.27,367.28 L156.81,366.90 L158.34,366.25 L159.83,365.61 L161.25,364.96 L162.60,364.50 L163.90,363.69 L165.15,363.09 L166.35,363.16 L167.50,362.77 L168.84,362.15 L170.08,361.25 L171.28,361.19 L172.50,361.01 L173.72,361.19 L174.92,361.73 L176.16,361.97 L177.50,362.26 L178.67,363.26 L179.91,364.08 L181.19,364.48 L182.48,365.45 L183.75,366.16 L184.98,366.99 L186.19,367.58 L187.41,368.37 L188.67,369.14 L190.00,370.04 L191.38,370.60 L192.79,371.46 L194.26,372.05 L195.82,372.68 L197.50,373.25 L198.81,373.55 L200.23,373.82 L201.72,374.06 L203.22,374.30 L204.72,374.46 L206.15,374.63 L207.50,374.74 L208.68,374.87 L209.45,374.94 L210.16,374.97 L211.17,374.98 L212.84,374.99 L215.50,375.00 L216.52,375.01 L217.71,375.01 L219.03,375.01 L220.48,375.02 L222.04,375.02 L223.68,375.02 L225.40,375.02 L227.16,375.02 L228.97,375.02 L230.79,375.02 L232.61,375.01 L234.41,375.01 L236.18,375.01 L237.89,375.01 L239.53,375.01 L241.09,375.01 L242.54,375.00 L243.86,375.00 L245.04,375.00 L246.06,375.00 L246.90,375.00 L246.90,375.00 L77.30,375.00 Z" fill="#b7a28e" fill-opacity="0.9"/>
<path d="M77.30,373.40 L78.80,374.70 L79.68,374.75 L80.77,374.79 L82.02,374.82 L83.43,374.84 L84.96,374.87 L86.58,374.89 L88.27,374.91 L89.99,374.92 L91.73,374.93 L93.46,374.93 L95.14,374.94 L96.76,374.94 L98.28,374.94 L99.68,374.94 L100.93,374.95 L102.00,374.95 L104.13,374.95 L105.53,374.94 L106.51,374.91 L107.38,374.87 L108.44,374.84 L110.00,374.80 L111.23,374.78 L112.59,374.76 L114.06,374.75 L115.62,374.74 L117.22,374.72 L118.84,374.69 L120.46,374.67 L122.05,374.62 L123.57,374.57 L125.00,374.50 L126.52,374.42 L128.02,374.28 L129.49,374.18 L130.93,374.04 L132.34,373.88 L133.70,373.76 L135.02,373.63 L136.29,373.39 L137.50,373.24 L139.19,373.00 L140.74,372.68 L142.19,372.45 L143.56,372.11 L144.91,371.58 L146.25,371.24 L147.83,370.63 L149.34,369.94 L150.81,369.41 L152.27,368.71 L153.75,367.85 L155.27,367.28 L156.81,366.90 L158.34,366.25 L159.83,365.61 L161.25,364.96 L162.60,364.50 L163.90,363.69 L165.15,363.09 L166.35,363.16 L167.50,362.77 L168.84,362.15 L170.08,361.25 L171.28,361.19 L172.50,361.01 L173.72,361.19 L174.92,361.73 L176.16,361.97 L177.50,362.26 L178.67,363.26 L179.91,364.08 L181.19,364.48 L182.48,365.45 L183.75,366.16 L184.98,366.99 L186.19,367.58 L187.41,368.37 L188.67,369.14 L190.00,370.04 L191.38,370.60 L192.79,371.46 L194.26,372.05 L195.82,372.68 L197.50,373.25 L198.81,373.55 L200.23,373.82 L201.72,374.06 L203.22,374.30 L204.72,374.46 L206.15,374.63 L207.50,374.74 L208.68,374.87 L209.45,374.94 L210.16,374.97 L211.17,374.98 L212.84,374.99 L215.50,375.00 L216.52,375.01 L217.71,375.01 L219.03,375.01 L220.48,375.02 L222.04,375.02 L223.68,375.02 L225.40,375.02 L227.16,375.02 L228.97,375.02 L230.79,375.02 L232.61,375.01 L234.41,375.01 L236.18,375.01 L237.89,375.01 L239.53,375.01 L241.09,375.01 L242.54,375.00 L243.86,375.00 L245.04,375.00 L246.06,375.00 L246.90,375.00" fill="none" stroke="#4a3527" stroke-width="1.25" stroke-linejoin="round"/>
<path d="M77.30,385.40 L78.80,386.70 L79.68,386.75 L80.78,386.80 L82.07,386.84 L83.50,386.86 L85.05,386.89 L86.67,386.90 L88.32,386.92 L89.98,386.92 L91.60,386.93 L93.15,386.93 L94.59,386.94 L95.89,386.95 L97.00,386.95 L98.84,386.96 L100.16,386.96 L101.20,386.95 L102.19,386.94 L103.38,386.92 L105.00,386.90 L106.23,386.89 L107.59,386.89 L109.06,386.89 L110.62,386.88 L112.22,386.88 L113.84,386.88 L115.46,386.86 L117.05,386.83 L118.57,386.80 L120.00,386.75 L121.52,386.67 L123.02,386.60 L124.49,386.51 L125.93,386.43 L127.34,386.32 L128.70,386.17 L130.02,386.05 L131.29,385.94 L132.50,385.72 L134.20,385.50 L135.79,385.23 L137.27,384.87 L138.66,384.65 L139.98,384.19 L141.25,383.83 L142.68,383.12 L143.99,382.33 L145.21,381.72 L146.37,380.92 L147.50,380.12 L148.84,378.86 L150.08,378.24 L151.28,377.39 L152.50,376.50 L153.75,375.08 L155.00,374.18 L156.25,373.52 L157.50,372.71 L158.72,372.01 L159.92,371.93 L161.16,371.24 L162.50,371.39 L163.69,371.34 L164.97,371.29 L166.28,372.00 L167.56,371.76 L168.75,372.65 L170.06,373.55 L171.25,374.30 L172.44,375.31 L173.75,376.12 L174.94,376.99 L176.22,377.73 L177.53,378.49 L178.81,379.21 L180.00,379.99 L181.28,381.12 L182.42,381.92 L183.60,382.95 L185.00,383.78 L186.34,384.29 L187.82,384.91 L189.38,385.44 L190.96,385.90 L192.50,386.25 L193.99,386.53 L195.48,386.71 L196.96,386.84 L198.47,386.93 L200.00,387.00 L200.95,387.04 L201.49,387.06 L202.04,387.05 L203.03,387.03 L204.87,387.01 L208.00,387.00 L208.97,387.00 L210.09,387.00 L211.32,387.00 L212.67,387.00 L214.12,387.00 L215.66,387.00 L217.28,387.00 L218.97,387.00 L220.70,387.00 L222.48,387.00 L224.29,387.00 L226.12,387.00 L227.95,387.00 L229.78,387.00 L231.59,387.00 L233.36,387.00 L235.10,387.00 L236.79,387.00 L238.40,387.00 L239.95,387.00 L241.40,387.00 L242.75,387.00 L243.99,387.00 L245.10,387.00 L246.07,387.00 L246.90,387.00 L246.90,387.00 L77.30,387.00 Z" fill="#929daa" fill-opacity="0.9"/>
<path d="M77.30,385.40 L78.80,386.70 L79.68,386.75 L80.78,386.80 L82.07,386.84 L83.50,386.86 L85.05,386.89 L86.67,386.90 L88.32,386.92 L89.98,386.92 L91.60,386.93 L93.15,386.93 L94.59,386.94 L95.89,386.95 L97.00,386.95 L98.84,386.96 L100.16,386.96 L101.20,386.95 L102.19,386.94 L103.38,386.92 L105.00,386.90 L106.23,386.89 L107.59,386.89 L109.06,386.89 L110.62,386.88 L112.22,386.88 L113.84,386.88 L115.46,386.86 L117.05,386.83 L118.57,386.80 L120.00,386.75 L121.52,386.67 L123.02,386.60 L124.49,386.51 L125.93,386.43 L127.34,386.32 L128.70,386.17 L130.02,386.05 L131.29,385.94 L132.50,385.72 L134.20,385.50 L135.79,385.23 L137.27,384.87 L138.66,384.65 L139.98,384.19 L141.25,383.83 L142.68,383.12 L143.99,382.33 L145.21,381.72 L146.37,380.92 L147.50,380.12 L148.84,378.86 L150.08,378.24 L151.28,377.39 L152.50,376.50 L153.75,375.08 L155.00,374.18 L156.25,373.52 L157.50,372.71 L158.72,372.01 L159.92,371.93 L161.16,371.24 L162.50,371.39 L163.69,371.34 L164.97,371.29 L166.28,372.00 L167.56,371.76 L168.75,372.65 L170.06,373.55 L171.25,374.30 L172.44,375.31 L173.75,376.12 L174.94,376.99 L176.22,377.73 L177.53,378.49 L178.81,379.21 L180.00,379.99 L181.28,381.12 L182.42,381.92 L183.60,382.95 L185.00,383.78 L186.34,384.29 L187.82,384.91 L189.38,385.44 L190.96,385.90 L192.50,386.25 L193.99,386.53 L195.48,386.71 L196.96,386.84 L198.47,386.93 L200.00,387.00 L200.95,387.04 L201.49,387.06 L202.04,387.05 L203.03,387.03 L204.87,387.01 L208.00,387.00 L208.97,387.00 L210.09,387.00 L211.32,387.00 L212.67,387.00 L214.12,387.00 L215.66,387.00 L217.28,387.00 L218.97,387.00 L220.70,387.00 L222.48,387.00 L224.29,387.00 L226.12,387.00 L227.95,387.00 L229.78,387.00 L231.59,387.00 L233.36,387.00 L235.10,387.00 L236.79,387.00 L238.40,387.00 L239.95,387.00 L241.40,387.00 L242.75,387.00 L243.99,387.00 L245.10,387.00 L246.07,387.00 L246.90,387.00" fill="none" stroke="#3d4a57" stroke-width="1.25" stroke-linejoin="round"/>
<path d="M77.30,397.40 L78.80,398.70 L79.68,398.74 L80.77,398.78 L82.02,398.82 L83.43,398.84 L84.96,398.86 L86.58,398.88 L88.27,398.89 L89.99,398.90 L91.73,398.91 L93.46,398.92 L95.14,398.92 L96.76,398.93 L98.28,398.93 L99.68,398.94 L100.93,398.94 L102.00,398.95 L104.13,398.97 L105.53,398.99 L106.51,399.00 L107.38,399.00 L108.44,399.00 L110.00,399.00 L111.21,399.00 L112.51,399.01 L113.91,399.02 L115.38,399.03 L116.91,399.04 L118.48,399.04 L120.10,399.03 L121.73,399.01 L123.37,398.96 L125.00,398.90 L126.40,398.83 L127.87,398.76 L129.40,398.69 L130.97,398.59 L132.56,398.48 L134.14,398.40 L135.70,398.25 L137.22,398.11 L138.68,398.01 L140.06,397.81 L141.34,397.68 L142.50,397.53 L144.51,397.07 L146.20,396.66 L147.66,396.22 L148.94,395.85 L150.11,395.18 L151.25,394.53 L152.76,393.31 L153.98,391.80 L155.09,390.50 L156.25,388.68 L157.50,387.09 L158.75,385.85 L160.00,383.46 L161.25,382.99 L162.53,381.66 L163.83,380.73 L165.09,379.47 L166.25,379.48 L167.55,378.88 L168.70,378.68 L170.00,378.61 L171.16,379.39 L172.42,379.23 L173.72,380.86 L175.00,380.77 L176.25,382.20 L177.50,383.82 L178.75,384.56 L180.00,386.06 L181.22,387.84 L182.42,388.81 L183.66,390.18 L185.00,391.21 L186.15,392.46 L187.35,393.48 L188.60,394.56 L189.90,395.46 L191.25,396.32 L192.65,396.93 L194.10,397.42 L195.60,397.84 L197.15,398.19 L198.75,398.50 L200.14,398.72 L201.60,398.88 L203.09,399.00 L204.59,399.09 L206.07,399.10 L207.50,399.10 L208.61,399.10 L209.36,399.10 L210.08,399.10 L211.13,399.09 L212.82,399.03 L215.50,399.00 L216.52,399.00 L217.71,398.99 L219.03,398.99 L220.48,398.99 L222.04,398.99 L223.68,398.99 L225.40,398.99 L227.16,398.99 L228.97,398.99 L230.79,398.99 L232.61,398.99 L234.41,398.99 L236.18,398.99 L237.89,398.99 L239.53,398.99 L241.09,399.00 L242.54,399.00 L243.86,399.00 L245.04,399.00 L246.06,399.00 L246.90,399.00 L246.90,399.00 L77.30,399.00 Z" fill="#e6e6e6" fill-opacity="0.9"/>
<path d="M77.30,397.40 L78.80,398.70 L79.68,398.74 L80.77,398.78 L82.02,398.82 L83.43,398.84 L84.96,398.86 L86.58,398.88 L88.27,398.89 L89.99,398.90 L91.73,398.91 L93.46,398.92 L95.14,398.92 L96.76,398.93 L98.28,398.93 L99.68,398.94 L100.93,398.94 L102.00,398.95 L104.13,398.97 L105.53,398.99 L106.51,399.00 L107.38,399.00 L108.44,399.00 L110.00,399.00 L111.21,399.00 L112.51,399.01 L113.91,399.02 L115.38,399.03 L116.91,399.04 L118.48,399.04 L120.10,399.03 L121.73,399.01 L123.37,398.96 L125.00,398.90 L126.40,398.83 L127.87,398.76 L129.40,398.69 L130.97,398.59 L132.56,398.48 L134.14,398.40 L135.70,398.25 L137.22,398.11 L138.68,398.01 L140.06,397.81 L141.34,397.68 L142.50,397.53 L144.51,397.07 L146.20,396.66 L147.66,396.22 L148.94,395.85 L150.11,395.18 L151.25,394.53 L152.76,393.31 L153.98,391.80 L155.09,390.50 L156.25,388.68 L157.50,387.09 L158.75,385.85 L160.00,383.46 L161.25,382.99 L162.53,381.66 L163.83,380.73 L165.09,379.47 L166.25,379.48 L167.55,378.88 L168.70,378.68 L170.00,378.61 L171.16,379.39 L172.42,379.23 L173.72,380.86 L175.00,380.77 L176.25,382.20 L177.50,383.82 L178.75,384.56 L180.00,386.06 L181.22,387.84 L182.42,388.81 L183.66,390.18 L185.00,391.21 L186.15,392.46 L187.35,393.48 L188.60,394.56 L189.90,395.46 L191.25,396.32 L192.65,396.93 L194.10,397.42 L195.60,397.84 L197.15,398.19 L198.75,398.50 L200.14,398.72 L201.60,398.88 L203.09,399.00 L204.59,399.09 L206.07,399.10 L207.50,399.10 L208.61,399.10 L209.36,399.10 L210.08,399.10 L211.13,399.09 L212.82,399.03 L215.50,399.00 L216.52,399.00 L217.71,398.99 L219.03,398.99 L220.48,398.99 L222.04,398.99 L223.68,398.99 L225.40,398.99 L227.16,398.99 L228.97,398.99 L230.79,398.99 L232.61,398.99 L234.41,398.99 L236.18,398.99 L237.89,398.99 L239.53,398.99 L241.09,399.00 L242.54,399.00 L243.86,399.00 L245.04,399.00 L246.06,399.00 L246.90,399.00" fill="none" stroke="#c6c6c6" stroke-width="1.25" stroke-linejoin="round"/>
<path d="M77.30,409.40 L78.80,410.70 L79.64,410.73 L80.62,410.76 L81.75,410.79 L83.01,410.81 L84.37,410.83 L85.84,410.85 L87.38,410.86 L89.00,410.87 L90.67,410.88 L92.38,410.89 L94.12,410.90 L95.87,410.90 L97.62,410.91 L99.36,410.91 L101.07,410.92 L102.73,410.92 L104.34,410.93 L105.87,410.93 L107.33,410.93 L108.68,410.94 L109.92,410.94 L111.03,410.95 L112.00,410.95 L114.68,410.98 L116.18,411.00 L116.98,411.02 L117.56,411.03 L118.41,411.03 L120.00,411.00 L121.14,410.98 L122.42,410.96 L123.82,410.93 L125.31,410.90 L126.87,410.87 L128.47,410.83 L130.08,410.79 L131.69,410.74 L133.25,410.69 L134.76,410.62 L136.19,410.56 L137.50,410.51 L139.14,410.41 L140.73,410.28 L142.27,410.13 L143.74,410.02 L145.15,409.86 L146.48,409.70 L147.74,409.58 L148.91,409.40 L150.00,409.23 L151.69,408.92 L153.07,408.62 L154.23,408.30 L155.26,407.98 L156.25,407.40 L157.69,406.44 L158.84,405.33 L160.00,403.95 L161.25,402.25 L162.50,400.41 L163.75,398.53 L164.95,398.12 L166.16,397.46 L167.50,396.65 L168.63,396.70 L169.84,396.18 L171.13,396.30 L172.50,395.96 L173.69,396.64 L174.97,396.51 L176.28,396.45 L177.56,397.35 L178.75,397.84 L180.12,398.18 L181.41,398.72 L182.62,399.06 L183.75,399.68 L185.09,400.38 L186.30,401.23 L187.50,402.08 L188.70,403.28 L189.91,404.97 L191.25,406.17 L192.38,407.08 L193.59,407.90 L194.88,408.68 L196.25,409.23 L197.39,409.66 L198.58,409.93 L199.81,410.16 L201.12,410.31 L202.50,410.49 L203.40,410.64 L203.99,410.74 L204.62,410.83 L205.66,410.90 L207.50,410.95 L210.50,411.00 L211.46,411.01 L212.56,411.02 L213.78,411.02 L215.11,411.03 L216.54,411.03 L218.06,411.03 L219.66,411.04 L221.31,411.04 L223.02,411.04 L224.76,411.04 L226.53,411.03 L228.31,411.03 L230.09,411.03 L231.86,411.03 L233.60,411.02 L235.30,411.02 L236.96,411.02 L238.55,411.01 L240.07,411.01 L241.50,411.01 L242.83,411.01 L244.04,411.00 L245.14,411.00 L246.09,411.00 L246.90,411.00 L246.90,411.00 L77.30,411.00 Z" fill="#8fb5d5" fill-opacity="0.9"/>
<path d="M77.30,409.40 L78.80,410.70 L79.64,410.73 L80.62,410.76 L81.75,410.79 L83.01,410.81 L84.37,410.83 L85.84,410.85 L87.38,410.86 L89.00,410.87 L90.67,410.88 L92.38,410.89 L94.12,410.90 L95.87,410.90 L97.62,410.91 L99.36,410.91 L101.07,410.92 L102.73,410.92 L104.34,410.93 L105.87,410.93 L107.33,410.93 L108.68,410.94 L109.92,410.94 L111.03,410.95 L112.00,410.95 L114.68,410.98 L116.18,411.00 L116.98,411.02 L117.56,411.03 L118.41,411.03 L120.00,411.00 L121.14,410.98 L122.42,410.96 L123.82,410.93 L125.31,410.90 L126.87,410.87 L128.47,410.83 L130.08,410.79 L131.69,410.74 L133.25,410.69 L134.76,410.62 L136.19,410.56 L137.50,410.51 L139.14,410.41 L140.73,410.28 L142.27,410.13 L143.74,410.02 L145.15,409.86 L146.48,409.70 L147.74,409.58 L148.91,409.40 L150.00,409.23 L151.69,408.92 L153.07,408.62 L154.23,408.30 L155.26,407.98 L156.25,407.40 L157.69,406.44 L158.84,405.33 L160.00,403.95 L161.25,402.25 L162.50,400.41 L163.75,398.53 L164.95,398.12 L166.16,397.46 L167.50,396.65 L168.63,396.70 L169.84,396.18 L171.13,396.30 L172.50,395.96 L173.69,396.64 L174.97,396.51 L176.28,396.45 L177.56,397.35 L178.75,397.84 L180.12,398.18 L181.41,398.72 L182.62,399.06 L183.75,399.68 L185.09,400.38 L186.30,401.23 L187.50,402.08 L188.70,403.28 L189.91,404.97 L191.25,406.17 L192.38,407.08 L193.59,407.90 L194.88,408.68 L196.25,409.23 L197.39,409.66 L198.58,409.93 L199.81,410.16 L201.12,410.31 L202.50,410.49 L203.40,410.64 L203.99,410.74 L204.62,410.83 L205.66,410.90 L207.50,410.95 L210.50,411.00 L211.46,411.01 L212.56,411.02 L213.78,411.02 L215.11,411.03 L216.54,411.03 L218.06,411.03 L219.66,411.04 L221.31,411.04 L223.02,411.04 L224.76,411.04 L226.53,411.03 L228.31,411.03 L230.09,411.03 L231.86,411.03 L233.60,411.02 L235.30,411.02 L236.96,411.02 L238.55,411.01 L240.07,411.01 L241.50,411.01 L242.83,411.01 L244.04,411.00 L245.14,411.00 L246.09,411.00 L246.90,411.00" fill="none" stroke="#2d6a98" stroke-width="1.25" stroke-linejoin="round"/>
</g>
<path d="M153.7,242.6V413.4" stroke="#1a1a1a" stroke-width="1.25" stroke-dasharray="9.8 5.3" fill="none"/>
<rect x="76.8" y="242.6" width="170.60000000000002" height="170.79999999999998" fill="none" stroke="#111" stroke-width="1.25"/>
<path d="M81.27,413.40v1.8M84.61,413.40v1.8M87.35,413.40v1.8M89.66,413.40v1.8M91.66,413.40v1.8M93.42,413.40v1.8M95.00,413.40v3.0M105.39,413.40v1.8M111.46,413.40v1.8M115.77,413.40v1.8M119.11,413.40v1.8M121.85,413.40v1.8M124.16,413.40v1.8M126.16,413.40v1.8M127.92,413.40v1.8M129.50,413.40v3.0M139.89,413.40v1.8M145.96,413.40v1.8M150.27,413.40v1.8M153.61,413.40v1.8M156.35,413.40v1.8M158.66,413.40v1.8M160.66,413.40v1.8M162.42,413.40v1.8M164.00,413.40v3.0M174.39,413.40v1.8M180.46,413.40v1.8M184.77,413.40v1.8M188.11,413.40v1.8M190.85,413.40v1.8M193.16,413.40v1.8M195.16,413.40v1.8M196.92,413.40v1.8M198.50,413.40v3.0M208.89,413.40v1.8M214.96,413.40v1.8M219.27,413.40v1.8M222.61,413.40v1.8M225.35,413.40v1.8M227.66,413.40v1.8M229.66,413.40v1.8M231.42,413.40v1.8M233.00,413.40v3.0M243.39,413.40v1.8" stroke="#111" stroke-width="0.7" fill="none"/>
<text x="94.40" y="424.60" font-size="5.8" text-anchor="middle" fill="#1a1a1a" stroke="#1a1a1a" stroke-width="0.12">10<tspan font-size="3.3" dx="0.5" dy="-2.7">1</tspan></text>
<text x="128.90" y="424.60" font-size="5.8" text-anchor="middle" fill="#1a1a1a" stroke="#1a1a1a" stroke-width="0.12">10<tspan font-size="3.3" dx="0.5" dy="-2.7">2</tspan></text>
<text x="163.40" y="424.60" font-size="5.8" text-anchor="middle" fill="#1a1a1a" stroke="#1a1a1a" stroke-width="0.12">10<tspan font-size="3.3" dx="0.5" dy="-2.7">3</tspan></text>
<text x="197.90" y="424.60" font-size="5.8" text-anchor="middle" fill="#1a1a1a" stroke="#1a1a1a" stroke-width="0.12">10<tspan font-size="3.3" dx="0.5" dy="-2.7">4</tspan></text>
<text x="232.40" y="424.60" font-size="5.8" text-anchor="middle" fill="#1a1a1a" stroke="#1a1a1a" stroke-width="0.12">10<tspan font-size="3.3" dx="0.5" dy="-2.7">5</tspan></text>
<text transform="translate(162.10,437.60) scale(0.72,1)" font-size="6.8" font-weight="bold" text-anchor="middle" fill="#111" stroke="#111" stroke-width="0.3">APC-A</text>
<text x="162.20" y="236.60" font-size="8.3" text-anchor="middle" font-weight="normal" fill="#1a1a1a" stroke="#1a1a1a" stroke-width="0.16" >SU-DHL-4</text>
<clipPath id="fc338"><rect x="338.4" y="241.4" width="168.95000000000005" height="170.9"/></clipPath>
<g clip-path="url(#fc338)">
<path d="M338.90,241.80 L339.60,258.95 L340.60,265.80 L339.50,266.25 L340.90,265.94 L343.04,265.41 L345.41,264.98 L347.50,264.43 L349.19,264.33 L350.73,263.99 L352.23,263.99 L353.75,263.65 L355.31,263.62 L356.88,263.46 L358.44,263.47 L360.00,262.93 L361.56,262.28 L363.12,261.80 L364.69,260.64 L366.25,259.77 L367.84,259.55 L369.45,258.39 L371.03,257.69 L372.50,256.99 L374.35,256.31 L376.06,255.10 L377.50,254.69 L378.83,253.45 L380.00,252.91 L381.84,253.92 L383.75,255.26 L385.36,253.50 L386.75,252.34 L388.75,255.37 L390.52,257.77 L392.50,260.55 L394.30,261.78 L396.25,262.67 L397.69,263.03 L399.26,263.43 L401.25,263.65 L402.74,263.97 L404.42,264.28 L406.23,264.52 L408.11,264.77 L410.00,264.95 L411.84,265.27 L413.67,265.43 L415.58,265.66 L417.66,265.84 L420.00,266.01 L421.68,266.06 L423.56,266.12 L425.57,266.16 L427.62,266.18 L429.67,266.21 L431.62,266.22 L433.43,266.23 L435.00,266.25 L436.18,266.28 L435.95,266.29 L437.24,266.30 L443.00,266.30 L444.21,266.30 L445.57,266.30 L447.09,266.30 L448.75,266.30 L450.53,266.30 L452.43,266.30 L454.43,266.30 L456.53,266.30 L458.72,266.30 L460.97,266.30 L463.29,266.30 L465.66,266.30 L468.07,266.30 L470.51,266.30 L472.96,266.30 L475.43,266.30 L477.88,266.30 L480.33,266.30 L482.75,266.30 L485.13,266.30 L487.46,266.30 L489.74,266.30 L491.94,266.30 L494.07,266.30 L496.10,266.30 L498.03,266.30 L499.85,266.30 L501.54,266.30 L503.10,266.30 L504.51,266.30 L505.76,266.30 L506.85,266.30 L506.85,266.30 L338.90,266.30 Z" fill="#eaa3b5" fill-opacity="0.9"/>
<path d="M338.90,241.80 L339.60,258.95 L340.60,265.80 L339.50,266.25 L340.90,265.94 L343.04,265.41 L345.41,264.98 L347.50,264.43 L349.19,264.33 L350.73,263.99 L352.23,263.99 L353.75,263.65 L355.31,263.62 L356.88,263.46 L358.44,263.47 L360.00,262.93 L361.56,262.28 L363.12,261.80 L364.69,260.64 L366.25,259.77 L367.84,259.55 L369.45,258.39 L371.03,257.69 L372.50,256.99 L374.35,256.31 L376.06,255.10 L377.50,254.69 L378.83,253.45 L380.00,252.91 L381.84,253.92 L383.75,255.26 L385.36,253.50 L386.75,252.34 L388.75,255.37 L390.52,257.77 L392.50,260.55 L394.30,261.78 L396.25,262.67 L397.69,263.03 L399.26,263.43 L401.25,263.65 L402.74,263.97 L404.42,264.28 L406.23,264.52 L408.11,264.77 L410.00,264.95 L411.84,265.27 L413.67,265.43 L415.58,265.66 L417.66,265.84 L420.00,266.01 L421.68,266.06 L423.56,266.12 L425.57,266.16 L427.62,266.18 L429.67,266.21 L431.62,266.22 L433.43,266.23 L435.00,266.25 L436.18,266.28 L435.95,266.29 L437.24,266.30 L443.00,266.30 L444.21,266.30 L445.57,266.30 L447.09,266.30 L448.75,266.30 L450.53,266.30 L452.43,266.30 L454.43,266.30 L456.53,266.30 L458.72,266.30 L460.97,266.30 L463.29,266.30 L465.66,266.30 L468.07,266.30 L470.51,266.30 L472.96,266.30 L475.43,266.30 L477.88,266.30 L480.33,266.30 L482.75,266.30 L485.13,266.30 L487.46,266.30 L489.74,266.30 L491.94,266.30 L494.07,266.30 L496.10,266.30 L498.03,266.30 L499.85,266.30 L501.54,266.30 L503.10,266.30 L504.51,266.30 L505.76,266.30 L506.85,266.30" fill="none" stroke="#c2264d" stroke-width="1.25" stroke-linejoin="round"/>
<path d="M338.90,267.30 L339.60,275.00 L340.60,276.90 L341.94,276.99 L343.76,276.95 L345.86,277.45 L348.07,277.13 L350.18,277.45 L352.00,277.10 L353.84,277.56 L355.15,277.80 L356.88,278.22 L360.00,278.25 L361.40,278.00 L363.04,278.01 L364.86,278.04 L366.85,278.19 L368.95,278.01 L371.12,277.90 L373.32,278.10 L375.52,277.70 L377.67,277.95 L379.74,277.76 L381.67,277.62 L383.44,277.59 L385.00,277.29 L387.44,277.27 L389.48,277.07 L391.23,276.75 L392.80,276.70 L394.29,276.87 L395.82,276.43 L397.50,276.41 L399.33,276.33 L401.22,276.21 L403.12,275.93 L404.99,275.39 L406.79,275.26 L408.48,275.41 L410.00,275.03 L412.31,274.22 L414.30,274.02 L416.01,273.51 L417.50,273.19 L419.61,273.83 L421.25,273.87 L423.12,272.57 L425.00,270.39 L426.72,267.78 L428.75,266.65 L430.11,265.93 L431.64,265.26 L433.29,264.81 L435.00,263.67 L436.88,263.63 L438.91,264.23 L440.86,265.13 L442.50,265.66 L444.61,266.57 L446.25,268.14 L448.05,271.04 L450.00,272.20 L451.48,273.05 L453.10,274.39 L455.00,274.81 L456.69,275.34 L458.56,276.01 L460.53,276.22 L462.50,276.67 L463.89,276.71 L464.95,276.81 L466.78,277.27 L470.50,277.45 L471.82,277.10 L473.37,277.18 L475.13,277.19 L477.07,277.41 L479.14,277.22 L481.32,277.10 L483.57,277.15 L485.87,277.39 L488.17,277.53 L490.44,277.41 L492.66,277.02 L494.78,276.96 L496.78,277.39 L498.62,277.33 L500.26,276.93 L501.69,277.23 L502.85,276.83 L506.03,276.87 L505.35,276.60 L506.85,276.10 L506.85,278.30 L338.90,278.30 Z" fill="#a9d6f2" fill-opacity="0.9"/>
<path d="M338.90,267.30 L339.60,275.00 L340.60,276.90 L341.94,276.99 L343.76,276.95 L345.86,277.45 L348.07,277.13 L350.18,277.45 L352.00,277.10 L353.84,277.56 L355.15,277.80 L356.88,278.22 L360.00,278.25 L361.40,278.00 L363.04,278.01 L364.86,278.04 L366.85,278.19 L368.95,278.01 L371.12,277.90 L373.32,278.10 L375.52,277.70 L377.67,277.95 L379.74,277.76 L381.67,277.62 L383.44,277.59 L385.00,277.29 L387.44,277.27 L389.48,277.07 L391.23,276.75 L392.80,276.70 L394.29,276.87 L395.82,276.43 L397.50,276.41 L399.33,276.33 L401.22,276.21 L403.12,275.93 L404.99,275.39 L406.79,275.26 L408.48,275.41 L410.00,275.03 L412.31,274.22 L414.30,274.02 L416.01,273.51 L417.50,273.19 L419.61,273.83 L421.25,273.87 L423.12,272.57 L425.00,270.39 L426.72,267.78 L428.75,266.65 L430.11,265.93 L431.64,265.26 L433.29,264.81 L435.00,263.67 L436.88,263.63 L438.91,264.23 L440.86,265.13 L442.50,265.66 L444.61,266.57 L446.25,268.14 L448.05,271.04 L450.00,272.20 L451.48,273.05 L453.10,274.39 L455.00,274.81 L456.69,275.34 L458.56,276.01 L460.53,276.22 L462.50,276.67 L463.89,276.71 L464.95,276.81 L466.78,277.27 L470.50,277.45 L471.82,277.10 L473.37,277.18 L475.13,277.19 L477.07,277.41 L479.14,277.22 L481.32,277.10 L483.57,277.15 L485.87,277.39 L488.17,277.53 L490.44,277.41 L492.66,277.02 L494.78,276.96 L496.78,277.39 L498.62,277.33 L500.26,276.93 L501.69,277.23 L502.85,276.83 L506.03,276.87 L505.35,276.60 L506.85,276.10" fill="none" stroke="#3a9edc" stroke-width="1.25" stroke-linejoin="round"/>
<path d="M338.90,279.80 L339.60,287.15 L340.60,288.90 L341.94,288.99 L343.76,288.87 L345.86,289.06 L348.07,289.09 L350.18,289.14 L352.00,289.45 L353.84,289.43 L355.15,289.59 L356.88,289.96 L360.00,290.02 L361.39,290.20 L363.01,289.87 L364.81,289.99 L366.77,289.76 L368.83,290.07 L370.97,289.99 L373.16,289.63 L375.34,289.44 L377.49,289.47 L379.57,289.36 L381.53,289.66 L383.36,289.21 L385.00,289.10 L387.40,288.98 L389.63,289.18 L391.69,288.53 L393.59,288.57 L395.36,288.69 L397.01,288.59 L398.55,287.96 L400.00,288.11 L402.40,287.80 L404.22,287.33 L405.80,286.66 L407.50,286.73 L409.40,286.76 L411.33,286.94 L413.21,287.38 L415.00,286.69 L416.71,286.81 L418.36,286.49 L419.89,285.55 L421.25,285.09 L423.20,282.96 L425.00,281.27 L426.57,279.68 L428.29,277.65 L430.00,277.62 L431.67,276.53 L433.33,274.92 L435.00,275.37 L436.67,275.23 L438.33,277.02 L440.00,276.63 L441.67,278.86 L443.33,279.68 L445.00,281.10 L446.67,282.37 L448.33,284.42 L450.00,285.63 L451.57,286.09 L453.15,287.31 L455.00,287.64 L456.69,288.12 L458.56,287.93 L460.53,288.70 L462.50,288.70 L463.89,289.20 L464.95,289.34 L466.78,289.27 L470.50,289.31 L471.82,289.32 L473.37,289.09 L475.13,289.15 L477.07,289.30 L479.14,289.30 L481.32,289.42 L483.57,289.11 L485.87,289.52 L488.17,289.33 L490.44,289.23 L492.66,289.43 L494.78,289.41 L496.78,289.41 L498.62,289.41 L500.26,289.06 L501.69,289.22 L502.85,289.25 L506.03,288.84 L505.35,288.60 L506.85,288.50 L506.85,290.30 L338.90,290.30 Z" fill="#f9cc8e" fill-opacity="0.9"/>
<path d="M338.90,279.80 L339.60,287.15 L340.60,288.90 L341.94,288.99 L343.76,288.87 L345.86,289.06 L348.07,289.09 L350.18,289.14 L352.00,289.45 L353.84,289.43 L355.15,289.59 L356.88,289.96 L360.00,290.02 L361.39,290.20 L363.01,289.87 L364.81,289.99 L366.77,289.76 L368.83,290.07 L370.97,289.99 L373.16,289.63 L375.34,289.44 L377.49,289.47 L379.57,289.36 L381.53,289.66 L383.36,289.21 L385.00,289.10 L387.40,288.98 L389.63,289.18 L391.69,288.53 L393.59,288.57 L395.36,288.69 L397.01,288.59 L398.55,287.96 L400.00,288.11 L402.40,287.80 L404.22,287.33 L405.80,286.66 L407.50,286.73 L409.40,286.76 L411.33,286.94 L413.21,287.38 L415.00,286.69 L416.71,286.81 L418.36,286.49 L419.89,285.55 L421.25,285.09 L423.20,282.96 L425.00,281.27 L426.57,279.68 L428.29,277.65 L430.00,277.62 L431.67,276.53 L433.33,274.92 L435.00,275.37 L436.67,275.23 L438.33,277.02 L440.00,276.63 L441.67,278.86 L443.33,279.68 L445.00,281.10 L446.67,282.37 L448.33,284.42 L450.00,285.63 L451.57,286.09 L453.15,287.31 L455.00,287.64 L456.69,288.12 L458.56,287.93 L460.53,288.70 L462.50,288.70 L463.89,289.20 L464.95,289.34 L466.78,289.27 L470.50,289.31 L471.82,289.32 L473.37,289.09 L475.13,289.15 L477.07,289.30 L479.14,289.30 L481.32,289.42 L483.57,289.11 L485.87,289.52 L488.17,289.33 L490.44,289.23 L492.66,289.43 L494.78,289.41 L496.78,289.41 L498.62,289.41 L500.26,289.06 L501.69,289.22 L502.85,289.25 L506.03,288.84 L505.35,288.60 L506.85,288.50" fill="none" stroke="#f0932b" stroke-width="1.25" stroke-linejoin="round"/>
<path d="M338.90,292.30 L339.60,299.30 L340.60,300.90 L341.94,300.88 L343.76,301.18 L345.86,300.96 L348.07,301.35 L350.18,301.26 L352.00,301.28 L353.84,301.56 L355.15,301.75 L356.88,302.22 L360.00,302.40 L361.40,302.14 L363.04,302.21 L364.86,302.27 L366.85,302.34 L368.95,302.01 L371.12,302.18 L373.32,302.04 L375.52,301.84 L377.67,301.56 L379.74,301.31 L381.67,301.62 L383.44,301.27 L385.00,301.46 L387.46,301.07 L389.56,300.81 L391.36,300.91 L392.97,300.29 L394.48,300.59 L395.95,300.26 L397.50,299.93 L399.72,299.98 L401.86,299.57 L403.89,299.52 L405.78,298.76 L407.50,298.70 L409.38,298.03 L411.02,297.89 L412.45,297.60 L413.75,297.12 L415.70,297.74 L417.50,298.67 L419.12,298.64 L420.88,297.73 L422.50,297.42 L424.45,296.54 L426.25,294.98 L428.12,293.67 L430.00,290.85 L431.88,290.50 L433.75,289.42 L435.62,287.45 L437.50,287.20 L439.30,287.80 L441.25,288.62 L442.87,290.05 L444.63,291.77 L446.25,294.09 L448.12,295.67 L450.00,296.94 L451.48,297.57 L453.10,298.52 L455.00,299.38 L456.69,300.22 L458.56,300.00 L460.53,300.73 L462.50,300.83 L463.89,300.84 L464.95,300.87 L466.78,301.08 L470.50,301.31 L471.82,301.31 L473.37,301.11 L475.13,301.47 L477.07,301.54 L479.14,301.28 L481.32,301.45 L483.57,301.52 L485.87,301.35 L488.17,301.13 L490.44,301.22 L492.66,301.27 L494.78,300.96 L496.78,300.95 L498.62,300.98 L500.26,301.06 L501.69,301.37 L502.85,301.22 L506.03,300.86 L505.35,300.60 L506.85,300.30 L506.85,302.30 L338.90,302.30 Z" fill="#a9dba6" fill-opacity="0.9"/>
<path d="M338.90,292.30 L339.60,299.30 L340.60,300.90 L341.94,300.88 L343.76,301.18 L345.86,300.96 L348.07,301.35 L350.18,301.26 L352.00,301.28 L353.84,301.56 L355.15,301.75 L356.88,302.22 L360.00,302.40 L361.40,302.14 L363.04,302.21 L364.86,302.27 L366.85,302.34 L368.95,302.01 L371.12,302.18 L373.32,302.04 L375.52,301.84 L377.67,301.56 L379.74,301.31 L381.67,301.62 L383.44,301.27 L385.00,301.46 L387.46,301.07 L389.56,300.81 L391.36,300.91 L392.97,300.29 L394.48,300.59 L395.95,300.26 L397.50,299.93 L399.72,299.98 L401.86,299.57 L403.89,299.52 L405.78,298.76 L407.50,298.70 L409.38,298.03 L411.02,297.89 L412.45,297.60 L413.75,297.12 L415.70,297.74 L417.50,298.67 L419.12,298.64 L420.88,297.73 L422.50,297.42 L424.45,296.54 L426.25,294.98 L428.12,293.67 L430.00,290.85 L431.88,290.50 L433.75,289.42 L435.62,287.45 L437.50,287.20 L439.30,287.80 L441.25,288.62 L442.87,290.05 L444.63,291.77 L446.25,294.09 L448.12,295.67 L450.00,296.94 L451.48,297.57 L453.10,298.52 L455.00,299.38 L456.69,300.22 L458.56,300.00 L460.53,300.73 L462.50,300.83 L463.89,300.84 L464.95,300.87 L466.78,301.08 L470.50,301.31 L471.82,301.31 L473.37,301.11 L475.13,301.47 L477.07,301.54 L479.14,301.28 L481.32,301.45 L483.57,301.52 L485.87,301.35 L488.17,301.13 L490.44,301.22 L492.66,301.27 L494.78,300.96 L496.78,300.95 L498.62,300.98 L500.26,301.06 L501.69,301.37 L502.85,301.22 L506.03,300.86 L505.35,300.60 L506.85,300.30" fill="none" stroke="#3fa84a" stroke-width="1.25" stroke-linejoin="round"/>
<path d="M338.90,304.30 L339.60,311.30 L340.60,312.80 L341.94,313.00 L343.76,312.89 L345.86,313.17 L348.07,313.07 L350.18,313.31 L352.00,313.06 L353.84,313.33 L355.15,313.79 L356.88,314.21 L360.00,314.36 L361.40,314.12 L363.04,314.07 L364.86,314.23 L366.85,314.13 L368.95,313.77 L371.12,313.75 L373.32,313.58 L375.52,313.84 L377.67,313.58 L379.74,313.42 L381.67,313.19 L383.44,313.26 L385.00,313.32 L387.49,313.33 L389.63,312.87 L391.49,312.66 L393.15,312.73 L394.66,312.63 L396.09,311.87 L397.50,311.88 L399.73,311.92 L401.56,311.36 L403.24,310.92 L405.00,311.06 L406.88,310.94 L408.75,311.02 L410.62,311.22 L412.50,311.21 L414.43,310.97 L416.41,310.31 L418.30,310.24 L420.00,309.85 L421.85,309.05 L423.43,308.26 L425.00,308.34 L426.67,307.07 L428.33,306.04 L430.00,306.04 L431.67,304.83 L433.33,303.11 L435.00,302.00 L436.71,302.09 L438.43,301.71 L440.00,301.44 L441.95,301.07 L443.75,301.99 L445.55,304.58 L447.50,306.39 L449.07,307.78 L450.79,308.71 L452.50,309.50 L454.12,309.93 L455.74,310.61 L457.50,311.42 L458.93,311.49 L460.44,311.82 L462.04,312.33 L463.75,312.57 L465.09,312.63 L466.20,313.22 L468.08,313.12 L471.75,313.11 L473.11,313.16 L474.73,313.11 L476.56,313.13 L478.57,313.01 L480.72,313.40 L482.98,313.19 L485.30,313.22 L487.64,313.06 L489.98,312.98 L492.27,312.90 L494.47,312.93 L496.54,313.07 L498.46,312.92 L500.17,312.77 L501.65,312.98 L502.85,313.14 L505.95,312.81 L505.35,312.50 L506.85,311.30 L506.85,314.30 L338.90,314.30 Z" fill="#8fbaa6" fill-opacity="0.9"/>
<path d="M338.90,304.30 L339.60,311.30 L340.60,312.80 L341.94,313.00 L343.76,312.89 L345.86,313.17 L348.07,313.07 L350.18,313.31 L352.00,313.06 L353.84,313.33 L355.15,313.79 L356.88,314.21 L360.00,314.36 L361.40,314.12 L363.04,314.07 L364.86,314.23 L366.85,314.13 L368.95,313.77 L371.12,313.75 L373.32,313.58 L375.52,313.84 L377.67,313.58 L379.74,313.42 L381.67,313.19 L383.44,313.26 L385.00,313.32 L387.49,313.33 L389.63,312.87 L391.49,312.66 L393.15,312.73 L394.66,312.63 L396.09,311.87 L397.50,311.88 L399.73,311.92 L401.56,311.36 L403.24,310.92 L405.00,311.06 L406.88,310.94 L408.75,311.02 L410.62,311.22 L412.50,311.21 L414.43,310.97 L416.41,310.31 L418.30,310.24 L420.00,309.85 L421.85,309.05 L423.43,308.26 L425.00,308.34 L426.67,307.07 L428.33,306.04 L430.00,306.04 L431.67,304.83 L433.33,303.11 L435.00,302.00 L436.71,302.09 L438.43,301.71 L440.00,301.44 L441.95,301.07 L443.75,301.99 L445.55,304.58 L447.50,306.39 L449.07,307.78 L450.79,308.71 L452.50,309.50 L454.12,309.93 L455.74,310.61 L457.50,311.42 L458.93,311.49 L460.44,311.82 L462.04,312.33 L463.75,312.57 L465.09,312.63 L466.20,313.22 L468.08,313.12 L471.75,313.11 L473.11,313.16 L474.73,313.11 L476.56,313.13 L478.57,313.01 L480.72,313.40 L482.98,313.19 L485.30,313.22 L487.64,313.06 L489.98,312.98 L492.27,312.90 L494.47,312.93 L496.54,313.07 L498.46,312.92 L500.17,312.77 L501.65,312.98 L502.85,313.14 L505.95,312.81 L505.35,312.50 L506.85,311.30" fill="none" stroke="#1d6b4e" stroke-width="1.25" stroke-linejoin="round"/>
<path d="M338.90,316.30 L339.60,323.30 L340.60,325.00 L341.94,325.01 L343.76,325.02 L345.86,325.54 L348.07,325.41 L350.18,325.50 L352.00,325.29 L353.84,325.58 L355.15,326.00 L356.88,326.04 L360.00,326.11 L361.39,326.26 L363.01,326.24 L364.81,326.13 L366.77,325.80 L368.83,326.04 L370.97,325.70 L373.16,325.87 L375.34,325.41 L377.49,325.43 L379.57,325.16 L381.53,325.31 L383.36,325.14 L385.00,325.12 L387.40,325.03 L389.63,324.51 L391.69,324.32 L393.59,324.47 L395.36,324.24 L397.01,324.24 L398.55,324.00 L400.00,323.45 L402.40,323.69 L404.22,323.09 L405.80,323.03 L407.50,322.74 L409.38,322.87 L411.25,323.43 L413.12,323.60 L415.00,323.91 L416.93,323.39 L418.91,322.96 L420.80,322.73 L422.50,321.62 L424.35,321.75 L425.93,320.49 L427.50,320.11 L429.21,319.50 L430.93,318.29 L432.50,317.95 L434.45,315.32 L436.25,314.92 L438.12,313.38 L440.00,312.77 L441.88,313.24 L443.75,313.95 L445.55,315.79 L447.50,317.17 L449.07,318.37 L450.79,319.77 L452.50,320.98 L454.12,321.65 L455.74,322.23 L457.50,322.89 L458.93,323.30 L460.44,323.56 L462.04,324.23 L463.75,324.31 L465.09,324.60 L466.20,324.87 L468.08,325.09 L471.75,325.39 L473.11,325.63 L474.73,325.25 L476.56,325.51 L478.57,325.55 L480.72,325.26 L482.98,325.63 L485.30,325.68 L487.64,325.50 L489.98,325.59 L492.27,325.33 L494.47,325.49 L496.54,325.26 L498.46,325.16 L500.17,325.51 L501.65,325.35 L502.85,325.16 L505.95,324.93 L505.35,324.70 L506.85,324.80 L506.85,326.30 L338.90,326.30 Z" fill="#dcb994" fill-opacity="0.9"/>
<path d="M338.90,316.30 L339.60,323.30 L340.60,325.00 L341.94,325.01 L343.76,325.02 L345.86,325.54 L348.07,325.41 L350.18,325.50 L352.00,325.29 L353.84,325.58 L355.15,326.00 L356.88,326.04 L360.00,326.11 L361.39,326.26 L363.01,326.24 L364.81,326.13 L366.77,325.80 L368.83,326.04 L370.97,325.70 L373.16,325.87 L375.34,325.41 L377.49,325.43 L379.57,325.16 L381.53,325.31 L383.36,325.14 L385.00,325.12 L387.40,325.03 L389.63,324.51 L391.69,324.32 L393.59,324.47 L395.36,324.24 L397.01,324.24 L398.55,324.00 L400.00,323.45 L402.40,323.69 L404.22,323.09 L405.80,323.03 L407.50,322.74 L409.38,322.87 L411.25,323.43 L413.12,323.60 L415.00,323.91 L416.93,323.39 L418.91,322.96 L420.80,322.73 L422.50,321.62 L424.35,321.75 L425.93,320.49 L427.50,320.11 L429.21,319.50 L430.93,318.29 L432.50,317.95 L434.45,315.32 L436.25,314.92 L438.12,313.38 L440.00,312.77 L441.88,313.24 L443.75,313.95 L445.55,315.79 L447.50,317.17 L449.07,318.37 L450.79,319.77 L452.50,320.98 L454.12,321.65 L455.74,322.23 L457.50,322.89 L458.93,323.30 L460.44,323.56 L462.04,324.23 L463.75,324.31 L465.09,324.60 L466.20,324.87 L468.08,325.09 L471.75,325.39 L473.11,325.63 L474.73,325.25 L476.56,325.51 L478.57,325.55 L480.72,325.26 L482.98,325.63 L485.30,325.68 L487.64,325.50 L489.98,325.59 L492.27,325.33 L494.47,325.49 L496.54,325.26 L498.46,325.16 L500.17,325.51 L501.65,325.35 L502.85,325.16 L505.95,324.93 L505.35,324.70 L506.85,324.80" fill="none" stroke="#b87a34" stroke-width="1.25" stroke-linejoin="round"/>
<path d="M338.90,328.30 L339.60,335.30 L340.60,336.90 L341.94,337.12 L343.76,336.97 L345.86,336.94 L348.07,337.41 L350.18,337.00 L352.00,337.13 L353.84,337.80 L355.15,337.72 L356.88,338.25 L360.00,338.05 L361.39,338.22 L363.01,338.12 L364.81,338.03 L366.77,338.04 L368.83,337.92 L370.97,337.95 L373.16,337.93 L375.34,337.69 L377.49,337.95 L379.57,337.71 L381.53,337.42 L383.36,337.33 L385.00,337.53 L387.39,337.63 L389.57,337.12 L391.58,336.83 L393.44,336.74 L395.18,336.75 L396.84,336.79 L398.43,336.40 L400.00,336.39 L402.32,335.97 L404.36,335.41 L406.24,335.27 L408.08,335.20 L410.00,335.09 L412.06,335.00 L414.18,334.87 L416.27,334.98 L418.24,334.81 L420.00,334.40 L421.88,334.31 L423.52,333.99 L424.95,333.79 L426.25,333.74 L428.20,332.49 L430.00,331.19 L431.57,330.37 L433.29,328.46 L435.00,327.65 L436.76,326.08 L438.52,325.24 L440.00,324.94 L441.33,323.77 L442.50,324.32 L444.30,324.77 L446.25,326.20 L448.05,326.80 L450.00,329.09 L451.57,330.21 L453.29,331.66 L455.00,332.37 L456.67,333.31 L458.33,334.24 L460.00,334.60 L461.56,335.24 L463.11,335.35 L465.00,335.49 L466.28,335.86 L467.45,336.86 L469.39,336.86 L473.00,337.35 L474.41,337.56 L476.10,337.61 L478.01,337.18 L480.11,337.61 L482.34,337.34 L484.68,337.28 L487.07,337.54 L489.47,337.47 L491.83,337.49 L494.12,337.01 L496.28,337.41 L498.28,337.06 L500.07,336.92 L501.61,336.97 L502.85,337.27 L505.87,336.86 L505.35,336.60 L506.85,336.30 L506.85,338.30 L338.90,338.30 Z" fill="#b29bcb" fill-opacity="0.9"/>
<path d="M338.90,328.30 L339.60,335.30 L340.60,336.90 L341.94,337.12 L343.76,336.97 L345.86,336.94 L348.07,337.41 L350.18,337.00 L352.00,337.13 L353.84,337.80 L355.15,337.72 L356.88,338.25 L360.00,338.05 L361.39,338.22 L363.01,338.12 L364.81,338.03 L366.77,338.04 L368.83,337.92 L370.97,337.95 L373.16,337.93 L375.34,337.69 L377.49,337.95 L379.57,337.71 L381.53,337.42 L383.36,337.33 L385.00,337.53 L387.39,337.63 L389.57,337.12 L391.58,336.83 L393.44,336.74 L395.18,336.75 L396.84,336.79 L398.43,336.40 L400.00,336.39 L402.32,335.97 L404.36,335.41 L406.24,335.27 L408.08,335.20 L410.00,335.09 L412.06,335.00 L414.18,334.87 L416.27,334.98 L418.24,334.81 L420.00,334.40 L421.88,334.31 L423.52,333.99 L424.95,333.79 L426.25,333.74 L428.20,332.49 L430.00,331.19 L431.57,330.37 L433.29,328.46 L435.00,327.65 L436.76,326.08 L438.52,325.24 L440.00,324.94 L441.33,323.77 L442.50,324.32 L444.30,324.77 L446.25,326.20 L448.05,326.80 L450.00,329.09 L451.57,330.21 L453.29,331.66 L455.00,332.37 L456.67,333.31 L458.33,334.24 L460.00,334.60 L461.56,335.24 L463.11,335.35 L465.00,335.49 L466.28,335.86 L467.45,336.86 L469.39,336.86 L473.00,337.35 L474.41,337.56 L476.10,337.61 L478.01,337.18 L480.11,337.61 L482.34,337.34 L484.68,337.28 L487.07,337.54 L489.47,337.47 L491.83,337.49 L494.12,337.01 L496.28,337.41 L498.28,337.06 L500.07,336.92 L501.61,336.97 L502.85,337.27 L505.87,336.86 L505.35,336.60 L506.85,336.30" fill="none" stroke="#5b2d8e" stroke-width="1.25" stroke-linejoin="round"/>
<path d="M338.90,341.30 L339.60,347.60 L340.60,348.90 L341.94,348.78 L343.76,349.25 L345.86,349.18 L348.07,349.18 L350.18,349.42 L352.00,349.32 L353.84,349.59 L355.15,349.95 L356.88,349.95 L360.00,350.40 L361.37,350.40 L362.91,350.15 L364.61,350.40 L366.44,350.40 L368.38,350.40 L370.40,350.12 L372.49,350.07 L374.61,350.29 L376.75,350.33 L378.88,350.33 L380.98,350.00 L383.03,349.88 L385.00,350.16 L386.95,349.73 L388.95,350.08 L390.97,349.97 L393.02,349.90 L395.07,349.59 L397.11,349.89 L399.13,349.58 L401.11,349.54 L403.05,349.32 L404.91,349.54 L406.70,349.30 L408.40,349.19 L410.00,349.12 L412.40,349.35 L414.63,349.19 L416.69,349.07 L418.59,348.55 L420.36,348.44 L422.01,348.18 L423.55,347.94 L425.00,348.08 L427.46,347.28 L429.38,347.26 L430.98,346.98 L432.50,346.10 L434.35,345.83 L435.93,345.06 L437.50,343.38 L439.17,342.69 L440.83,340.80 L442.50,339.55 L444.24,339.68 L445.98,337.85 L447.50,337.27 L449.03,337.07 L450.50,335.85 L451.87,337.15 L453.41,336.50 L455.00,337.51 L456.63,339.61 L458.31,340.52 L460.00,341.75 L461.59,342.55 L463.19,342.64 L465.00,343.74 L466.59,344.27 L468.31,345.10 L470.13,345.45 L472.00,346.25 L473.93,346.72 L475.94,347.70 L477.98,348.41 L480.00,348.32 L481.84,348.74 L483.57,348.79 L485.52,349.21 L488.00,349.38 L489.61,349.51 L491.52,349.37 L493.61,349.28 L495.77,349.31 L497.88,349.34 L499.85,348.95 L501.54,349.33 L502.85,349.02 L504.93,348.89 L505.35,348.60 L506.85,347.80 L506.85,350.30 L338.90,350.30 Z" fill="#d6e1c2" fill-opacity="0.9"/>
<path d="M338.90,341.30 L339.60,347.60 L340.60,348.90 L341.94,348.78 L343.76,349.25 L345.86,349.18 L348.07,349.18 L350.18,349.42 L352.00,349.32 L353.84,349.59 L355.15,349.95 L356.88,349.95 L360.00,350.40 L361.37,350.40 L362.91,350.15 L364.61,350.40 L366.44,350.40 L368.38,350.40 L370.40,350.12 L372.49,350.07 L374.61,350.29 L376.75,350.33 L378.88,350.33 L380.98,350.00 L383.03,349.88 L385.00,350.16 L386.95,349.73 L388.95,350.08 L390.97,349.97 L393.02,349.90 L395.07,349.59 L397.11,349.89 L399.13,349.58 L401.11,349.54 L403.05,349.32 L404.91,349.54 L406.70,349.30 L408.40,349.19 L410.00,349.12 L412.40,349.35 L414.63,349.19 L416.69,349.07 L418.59,348.55 L420.36,348.44 L422.01,348.18 L423.55,347.94 L425.00,348.08 L427.46,347.28 L429.38,347.26 L430.98,346.98 L432.50,346.10 L434.35,345.83 L435.93,345.06 L437.50,343.38 L439.17,342.69 L440.83,340.80 L442.50,339.55 L444.24,339.68 L445.98,337.85 L447.50,337.27 L449.03,337.07 L450.50,335.85 L451.87,337.15 L453.41,336.50 L455.00,337.51 L456.63,339.61 L458.31,340.52 L460.00,341.75 L461.59,342.55 L463.19,342.64 L465.00,343.74 L466.59,344.27 L468.31,345.10 L470.13,345.45 L472.00,346.25 L473.93,346.72 L475.94,347.70 L477.98,348.41 L480.00,348.32 L481.84,348.74 L483.57,348.79 L485.52,349.21 L488.00,349.38 L489.61,349.51 L491.52,349.37 L493.61,349.28 L495.77,349.31 L497.88,349.34 L499.85,348.95 L501.54,349.33 L502.85,349.02 L504.93,348.89 L505.35,348.60 L506.85,347.80" fill="none" stroke="#a6bd80" stroke-width="1.25" stroke-linejoin="round"/>
<path d="M338.90,352.30 L339.60,359.30 L340.60,361.00 L341.94,360.97 L343.76,361.10 L345.86,361.38 L348.07,361.47 L350.18,361.52 L352.00,361.49 L353.84,361.57 L355.15,362.05 L356.88,362.00 L360.00,362.34 L361.37,362.33 L362.91,362.16 L364.61,362.37 L366.44,362.28 L368.38,362.36 L370.40,362.12 L372.49,362.19 L374.61,362.40 L376.75,362.23 L378.88,361.92 L380.98,361.93 L383.03,362.18 L385.00,361.93 L386.95,361.79 L388.95,361.85 L390.97,361.85 L393.02,361.94 L395.07,361.93 L397.11,361.70 L399.13,361.83 L401.11,361.70 L403.05,361.56 L404.91,361.26 L406.70,361.38 L408.40,361.19 L410.00,361.12 L412.40,361.02 L414.60,360.76 L416.63,361.11 L418.52,360.52 L420.27,360.37 L421.92,360.08 L423.49,360.27 L425.00,359.95 L427.21,359.80 L429.13,359.27 L430.82,359.00 L432.34,358.72 L433.75,358.21 L435.74,357.25 L437.31,356.32 L438.75,355.01 L440.70,354.25 L442.50,353.04 L444.38,351.37 L446.25,349.10 L448.12,349.07 L450.00,347.42 L451.88,348.11 L453.75,349.93 L455.62,350.57 L457.50,352.41 L459.38,354.88 L461.25,356.24 L462.92,357.65 L465.00,357.85 L466.50,358.51 L468.23,359.11 L470.10,359.46 L472.00,360.17 L473.93,360.03 L475.94,360.84 L477.98,360.79 L480.00,361.13 L481.84,361.36 L483.57,361.21 L485.52,361.41 L488.00,361.65 L489.61,361.61 L491.52,361.15 L493.61,361.25 L495.77,361.25 L497.88,361.37 L499.85,361.25 L501.54,360.99 L502.85,360.94 L504.93,361.02 L505.35,360.70 L506.85,359.30 L506.85,362.30 L338.90,362.30 Z" fill="#fbe39a" fill-opacity="0.9"/>
<path d="M338.90,352.30 L339.60,359.30 L340.60,361.00 L341.94,360.97 L343.76,361.10 L345.86,361.38 L348.07,361.47 L350.18,361.52 L352.00,361.49 L353.84,361.57 L355.15,362.05 L356.88,362.00 L360.00,362.34 L361.37,362.33 L362.91,362.16 L364.61,362.37 L366.44,362.28 L368.38,362.36 L370.40,362.12 L372.49,362.19 L374.61,362.40 L376.75,362.23 L378.88,361.92 L380.98,361.93 L383.03,362.18 L385.00,361.93 L386.95,361.79 L388.95,361.85 L390.97,361.85 L393.02,361.94 L395.07,361.93 L397.11,361.70 L399.13,361.83 L401.11,361.70 L403.05,361.56 L404.91,361.26 L406.70,361.38 L408.40,361.19 L410.00,361.12 L412.40,361.02 L414.60,360.76 L416.63,361.11 L418.52,360.52 L420.27,360.37 L421.92,360.08 L423.49,360.27 L425.00,359.95 L427.21,359.80 L429.13,359.27 L430.82,359.00 L432.34,358.72 L433.75,358.21 L435.74,357.25 L437.31,356.32 L438.75,355.01 L440.70,354.25 L442.50,353.04 L444.38,351.37 L446.25,349.10 L448.12,349.07 L450.00,347.42 L451.88,348.11 L453.75,349.93 L455.62,350.57 L457.50,352.41 L459.38,354.88 L461.25,356.24 L462.92,357.65 L465.00,357.85 L466.50,358.51 L468.23,359.11 L470.10,359.46 L472.00,360.17 L473.93,360.03 L475.94,360.84 L477.98,360.79 L480.00,361.13 L481.84,361.36 L483.57,361.21 L485.52,361.41 L488.00,361.65 L489.61,361.61 L491.52,361.15 L493.61,361.25 L495.77,361.25 L497.88,361.37 L499.85,361.25 L501.54,360.99 L502.85,360.94 L504.93,361.02 L505.35,360.70 L506.85,359.30" fill="none" stroke="#f4c542" stroke-width="1.25" stroke-linejoin="round"/>
<path d="M338.90,364.30 L339.60,371.30 L340.60,372.90 L341.94,373.27 L343.76,373.24 L345.86,373.11 L348.07,373.24 L350.18,373.03 L352.00,373.26 L353.84,373.35 L355.15,373.82 L356.88,374.18 L360.00,374.08 L361.38,374.28 L362.96,374.24 L364.71,374.13 L366.60,374.19 L368.60,374.40 L370.69,374.40 L372.82,374.20 L374.97,374.40 L377.12,374.18 L379.22,374.25 L381.26,373.96 L383.19,374.22 L385.00,373.88 L387.22,374.12 L389.40,373.82 L391.52,373.97 L393.60,374.04 L395.62,373.72 L397.60,373.89 L399.52,373.79 L401.40,373.28 L403.23,373.47 L405.00,373.10 L407.17,372.99 L409.28,373.22 L411.32,372.68 L413.28,372.57 L415.14,372.46 L416.89,372.46 L418.52,372.42 L420.00,372.07 L422.43,371.48 L424.30,371.56 L425.89,371.16 L427.50,370.66 L429.21,370.67 L430.86,370.17 L432.39,369.54 L433.75,368.49 L435.78,367.58 L437.50,365.81 L439.38,363.45 L441.25,362.76 L443.12,360.36 L445.00,359.86 L446.88,360.86 L448.75,361.02 L450.55,362.04 L452.50,363.62 L454.07,364.75 L455.79,367.49 L457.50,368.29 L459.15,369.83 L460.80,371.34 L462.50,371.87 L464.20,372.67 L465.96,373.04 L468.00,372.93 L469.38,373.02 L470.67,373.23 L472.62,373.49 L476.00,373.55 L477.40,373.41 L479.06,373.23 L480.95,373.15 L483.01,373.25 L485.20,373.15 L487.47,373.27 L489.77,373.40 L492.06,373.03 L494.28,373.44 L496.40,373.25 L498.37,372.93 L500.13,373.19 L501.64,372.90 L502.85,373.23 L505.68,373.08 L505.35,372.60 L506.85,368.80 L506.85,374.30 L338.90,374.30 Z" fill="#b7a28e" fill-opacity="0.9"/>
<path d="M338.90,364.30 L339.60,371.30 L340.60,372.90 L341.94,373.27 L343.76,373.24 L345.86,373.11 L348.07,373.24 L350.18,373.03 L352.00,373.26 L353.84,373.35 L355.15,373.82 L356.88,374.18 L360.00,374.08 L361.38,374.28 L362.96,374.24 L364.71,374.13 L366.60,374.19 L368.60,374.40 L370.69,374.40 L372.82,374.20 L374.97,374.40 L377.12,374.18 L379.22,374.25 L381.26,373.96 L383.19,374.22 L385.00,373.88 L387.22,374.12 L389.40,373.82 L391.52,373.97 L393.60,374.04 L395.62,373.72 L397.60,373.89 L399.52,373.79 L401.40,373.28 L403.23,373.47 L405.00,373.10 L407.17,372.99 L409.28,373.22 L411.32,372.68 L413.28,372.57 L415.14,372.46 L416.89,372.46 L418.52,372.42 L420.00,372.07 L422.43,371.48 L424.30,371.56 L425.89,371.16 L427.50,370.66 L429.21,370.67 L430.86,370.17 L432.39,369.54 L433.75,368.49 L435.78,367.58 L437.50,365.81 L439.38,363.45 L441.25,362.76 L443.12,360.36 L445.00,359.86 L446.88,360.86 L448.75,361.02 L450.55,362.04 L452.50,363.62 L454.07,364.75 L455.79,367.49 L457.50,368.29 L459.15,369.83 L460.80,371.34 L462.50,371.87 L464.20,372.67 L465.96,373.04 L468.00,372.93 L469.38,373.02 L470.67,373.23 L472.62,373.49 L476.00,373.55 L477.40,373.41 L479.06,373.23 L480.95,373.15 L483.01,373.25 L485.20,373.15 L487.47,373.27 L489.77,373.40 L492.06,373.03 L494.28,373.44 L496.40,373.25 L498.37,372.93 L500.13,373.19 L501.64,372.90 L502.85,373.23 L505.68,373.08 L505.35,372.60 L506.85,368.80" fill="none" stroke="#4a3527" stroke-width="1.25" stroke-linejoin="round"/>
<path d="M338.90,376.30 L339.60,383.30 L340.60,385.10 L341.94,385.23 L343.76,385.32 L345.86,385.31 L348.07,385.43 L350.18,385.45 L352.00,385.58 L353.84,385.88 L355.15,386.07 L356.88,385.95 L360.00,386.40 L361.39,386.40 L363.01,386.31 L364.81,386.40 L366.77,386.38 L368.83,386.40 L370.97,386.36 L373.16,386.37 L375.34,386.38 L377.49,386.31 L379.57,386.40 L381.53,386.19 L383.36,386.34 L385.00,386.31 L387.39,386.11 L389.57,385.96 L391.58,386.24 L393.44,386.21 L395.18,385.98 L396.84,385.78 L398.43,385.83 L400.00,385.66 L402.40,385.49 L404.60,385.43 L406.60,385.12 L408.40,385.03 L410.00,384.53 L412.08,384.03 L413.61,383.11 L415.00,383.14 L416.80,383.87 L418.75,384.43 L420.14,384.47 L421.72,384.07 L423.38,383.91 L425.00,383.70 L426.62,383.51 L428.28,382.55 L429.86,381.73 L431.25,381.06 L433.28,379.58 L435.00,377.40 L436.88,375.12 L438.75,373.02 L440.70,373.04 L442.50,370.92 L443.75,370.65 L445.00,371.04 L446.88,371.11 L448.75,372.69 L450.00,373.30 L451.25,372.23 L452.97,374.13 L455.00,376.11 L456.57,377.73 L458.29,379.18 L460.00,381.41 L461.67,382.63 L463.33,383.77 L465.00,384.32 L466.56,385.24 L468.11,385.42 L470.00,385.18 L471.39,385.44 L472.76,385.56 L474.74,385.53 L478.00,385.68 L479.42,385.43 L481.12,385.38 L483.04,385.41 L485.14,385.34 L487.35,385.41 L489.62,385.38 L491.91,385.57 L494.15,385.66 L496.30,385.54 L498.30,385.20 L500.09,385.45 L501.62,385.21 L502.85,385.20 L505.56,385.19 L505.35,384.80 L506.85,382.30 L506.85,386.30 L338.90,386.30 Z" fill="#929daa" fill-opacity="0.9"/>
<path d="M338.90,376.30 L339.60,383.30 L340.60,385.10 L341.94,385.23 L343.76,385.32 L345.86,385.31 L348.07,385.43 L350.18,385.45 L352.00,385.58 L353.84,385.88 L355.15,386.07 L356.88,385.95 L360.00,386.40 L361.39,386.40 L363.01,386.31 L364.81,386.40 L366.77,386.38 L368.83,386.40 L370.97,386.36 L373.16,386.37 L375.34,386.38 L377.49,386.31 L379.57,386.40 L381.53,386.19 L383.36,386.34 L385.00,386.31 L387.39,386.11 L389.57,385.96 L391.58,386.24 L393.44,386.21 L395.18,385.98 L396.84,385.78 L398.43,385.83 L400.00,385.66 L402.40,385.49 L404.60,385.43 L406.60,385.12 L408.40,385.03 L410.00,384.53 L412.08,384.03 L413.61,383.11 L415.00,383.14 L416.80,383.87 L418.75,384.43 L420.14,384.47 L421.72,384.07 L423.38,383.91 L425.00,383.70 L426.62,383.51 L428.28,382.55 L429.86,381.73 L431.25,381.06 L433.28,379.58 L435.00,377.40 L436.88,375.12 L438.75,373.02 L440.70,373.04 L442.50,370.92 L443.75,370.65 L445.00,371.04 L446.88,371.11 L448.75,372.69 L450.00,373.30 L451.25,372.23 L452.97,374.13 L455.00,376.11 L456.57,377.73 L458.29,379.18 L460.00,381.41 L461.67,382.63 L463.33,383.77 L465.00,384.32 L466.56,385.24 L468.11,385.42 L470.00,385.18 L471.39,385.44 L472.76,385.56 L474.74,385.53 L478.00,385.68 L479.42,385.43 L481.12,385.38 L483.04,385.41 L485.14,385.34 L487.35,385.41 L489.62,385.38 L491.91,385.57 L494.15,385.66 L496.30,385.54 L498.30,385.20 L500.09,385.45 L501.62,385.21 L502.85,385.20 L505.56,385.19 L505.35,384.80 L506.85,382.30" fill="none" stroke="#3d4a57" stroke-width="1.25" stroke-linejoin="round"/>
<path d="M338.90,389.30 L339.60,395.60 L340.60,397.00 L341.94,396.89 L343.76,397.43 L345.86,397.09 L348.07,397.29 L350.18,397.49 L352.00,397.34 L353.84,397.43 L355.15,397.88 L356.88,397.93 L360.00,398.21 L361.37,398.40 L362.91,398.40 L364.61,398.40 L366.44,398.34 L368.38,398.19 L370.40,398.31 L372.49,398.19 L374.61,398.32 L376.75,398.40 L378.88,398.13 L380.98,398.35 L383.03,398.04 L385.00,398.09 L386.96,398.09 L388.97,398.17 L391.03,397.93 L393.10,398.05 L395.18,397.94 L397.26,397.96 L399.30,397.88 L401.29,397.66 L403.23,397.74 L405.08,397.66 L406.84,397.84 L408.49,397.71 L410.00,397.73 L412.49,397.38 L414.63,396.99 L416.49,397.04 L418.15,396.86 L419.66,396.67 L421.09,396.22 L422.50,396.44 L424.79,395.60 L426.72,394.85 L428.42,394.88 L430.00,393.99 L431.90,392.29 L433.52,391.27 L435.00,390.25 L436.95,387.02 L438.75,384.86 L440.62,382.91 L442.50,383.29 L444.45,383.56 L446.25,383.61 L447.50,382.25 L448.75,382.68 L450.47,383.52 L452.50,384.52 L454.07,386.37 L455.79,389.56 L457.50,391.76 L459.15,392.66 L460.80,393.73 L462.50,394.76 L464.20,395.67 L465.96,396.19 L468.00,396.22 L469.38,396.82 L470.67,397.02 L472.62,397.18 L476.00,397.55 L477.40,397.17 L479.06,397.41 L480.95,397.27 L483.01,397.32 L485.20,397.68 L487.47,397.38 L489.77,397.16 L492.06,397.49 L494.28,397.27 L496.40,397.31 L498.37,397.33 L500.13,397.04 L501.64,396.99 L502.85,397.25 L505.68,396.96 L505.35,396.70 L506.85,396.30 L506.85,398.30 L338.90,398.30 Z" fill="#e6e6e6" fill-opacity="0.9"/>
<path d="M338.90,389.30 L339.60,395.60 L340.60,397.00 L341.94,396.89 L343.76,397.43 L345.86,397.09 L348.07,397.29 L350.18,397.49 L352.00,397.34 L353.84,397.43 L355.15,397.88 L356.88,397.93 L360.00,398.21 L361.37,398.40 L362.91,398.40 L364.61,398.40 L366.44,398.34 L368.38,398.19 L370.40,398.31 L372.49,398.19 L374.61,398.32 L376.75,398.40 L378.88,398.13 L380.98,398.35 L383.03,398.04 L385.00,398.09 L386.96,398.09 L388.97,398.17 L391.03,397.93 L393.10,398.05 L395.18,397.94 L397.26,397.96 L399.30,397.88 L401.29,397.66 L403.23,397.74 L405.08,397.66 L406.84,397.84 L408.49,397.71 L410.00,397.73 L412.49,397.38 L414.63,396.99 L416.49,397.04 L418.15,396.86 L419.66,396.67 L421.09,396.22 L422.50,396.44 L424.79,395.60 L426.72,394.85 L428.42,394.88 L430.00,393.99 L431.90,392.29 L433.52,391.27 L435.00,390.25 L436.95,387.02 L438.75,384.86 L440.62,382.91 L442.50,383.29 L444.45,383.56 L446.25,383.61 L447.50,382.25 L448.75,382.68 L450.47,383.52 L452.50,384.52 L454.07,386.37 L455.79,389.56 L457.50,391.76 L459.15,392.66 L460.80,393.73 L462.50,394.76 L464.20,395.67 L465.96,396.19 L468.00,396.22 L469.38,396.82 L470.67,397.02 L472.62,397.18 L476.00,397.55 L477.40,397.17 L479.06,397.41 L480.95,397.27 L483.01,397.32 L485.20,397.68 L487.47,397.38 L489.77,397.16 L492.06,397.49 L494.28,397.27 L496.40,397.31 L498.37,397.33 L500.13,397.04 L501.64,396.99 L502.85,397.25 L505.68,396.96 L505.35,396.70 L506.85,396.30" fill="none" stroke="#c6c6c6" stroke-width="1.25" stroke-linejoin="round"/>
<path d="M338.90,401.30 L339.60,407.60 L340.60,408.90 L341.94,409.15 L343.76,409.15 L345.86,409.03 L348.07,408.94 L350.18,409.34 L352.00,409.57 L353.84,409.58 L355.15,409.79 L356.88,410.16 L360.00,410.25 L361.39,410.28 L363.01,410.19 L364.81,410.40 L366.77,410.34 L368.83,409.99 L370.97,410.32 L373.16,410.22 L375.34,410.27 L377.49,409.93 L379.57,409.94 L381.53,410.02 L383.36,409.95 L385.00,410.16 L387.39,409.98 L389.57,409.77 L391.58,410.11 L393.44,409.97 L395.18,409.89 L396.84,409.52 L398.43,409.56 L400.00,409.64 L402.32,409.44 L404.36,408.85 L406.24,408.66 L408.08,408.59 L410.00,407.82 L412.04,407.55 L414.12,407.58 L416.18,407.33 L418.16,407.06 L420.00,407.09 L422.08,406.71 L423.98,406.60 L425.77,406.21 L427.50,406.41 L429.21,405.61 L430.86,404.73 L432.39,404.55 L433.75,404.08 L435.78,401.81 L437.50,400.88 L439.45,399.80 L441.25,397.87 L442.50,396.71 L443.75,396.38 L445.55,397.73 L447.50,399.08 L449.38,399.26 L451.25,398.89 L453.05,400.09 L455.00,401.60 L456.57,402.85 L458.29,404.09 L460.00,404.95 L461.59,406.03 L463.19,406.94 L465.00,407.26 L466.59,407.64 L468.31,408.53 L470.13,408.67 L472.00,409.05 L473.58,409.23 L475.01,409.36 L476.93,409.40 L480.00,409.42 L481.45,409.22 L483.18,409.17 L485.15,409.41 L487.27,409.49 L489.50,409.43 L491.77,409.04 L494.02,409.42 L496.19,409.34 L498.22,409.33 L500.05,409.36 L501.61,409.05 L502.85,409.30 L505.43,408.92 L505.35,408.60 L506.85,407.30 L506.85,410.30 L338.90,410.30 Z" fill="#8fb5d5" fill-opacity="0.9"/>
<path d="M338.90,401.30 L339.60,407.60 L340.60,408.90 L341.94,409.15 L343.76,409.15 L345.86,409.03 L348.07,408.94 L350.18,409.34 L352.00,409.57 L353.84,409.58 L355.15,409.79 L356.88,410.16 L360.00,410.25 L361.39,410.28 L363.01,410.19 L364.81,410.40 L366.77,410.34 L368.83,409.99 L370.97,410.32 L373.16,410.22 L375.34,410.27 L377.49,409.93 L379.57,409.94 L381.53,410.02 L383.36,409.95 L385.00,410.16 L387.39,409.98 L389.57,409.77 L391.58,410.11 L393.44,409.97 L395.18,409.89 L396.84,409.52 L398.43,409.56 L400.00,409.64 L402.32,409.44 L404.36,408.85 L406.24,408.66 L408.08,408.59 L410.00,407.82 L412.04,407.55 L414.12,407.58 L416.18,407.33 L418.16,407.06 L420.00,407.09 L422.08,406.71 L423.98,406.60 L425.77,406.21 L427.50,406.41 L429.21,405.61 L430.86,404.73 L432.39,404.55 L433.75,404.08 L435.78,401.81 L437.50,400.88 L439.45,399.80 L441.25,397.87 L442.50,396.71 L443.75,396.38 L445.55,397.73 L447.50,399.08 L449.38,399.26 L451.25,398.89 L453.05,400.09 L455.00,401.60 L456.57,402.85 L458.29,404.09 L460.00,404.95 L461.59,406.03 L463.19,406.94 L465.00,407.26 L466.59,407.64 L468.31,408.53 L470.13,408.67 L472.00,409.05 L473.58,409.23 L475.01,409.36 L476.93,409.40 L480.00,409.42 L481.45,409.22 L483.18,409.17 L485.15,409.41 L487.27,409.49 L489.50,409.43 L491.77,409.04 L494.02,409.42 L496.19,409.34 L498.22,409.33 L500.05,409.36 L501.61,409.05 L502.85,409.30 L505.43,408.92 L505.35,408.60 L506.85,407.30" fill="none" stroke="#2d6a98" stroke-width="1.25" stroke-linejoin="round"/>
</g>
<path d="M425.4,241.4V412.3" stroke="#1a1a1a" stroke-width="1.25" stroke-dasharray="9.8 5.3" fill="none"/>
<rect x="338.4" y="241.4" width="168.95000000000005" height="170.9" fill="none" stroke="#111" stroke-width="1.25"/>
<path d="M348.14,412.30v1.8M353.55,412.30v1.8M357.38,412.30v1.8M360.36,412.30v1.8M362.79,412.30v1.8M364.84,412.30v1.8M366.62,412.30v1.8M368.20,412.30v1.8M369.60,412.30v3.0M378.84,412.30v1.8M384.25,412.30v1.8M388.08,412.30v1.8M391.06,412.30v1.8M393.49,412.30v1.8M395.54,412.30v1.8M397.32,412.30v1.8M398.90,412.30v1.8M400.30,412.30v3.0M409.54,412.30v1.8M414.95,412.30v1.8M418.78,412.30v1.8M421.76,412.30v1.8M424.19,412.30v1.8M426.24,412.30v1.8M428.02,412.30v1.8M429.60,412.30v1.8M431.00,412.30v3.0M440.24,412.30v1.8M445.65,412.30v1.8M449.48,412.30v1.8M452.46,412.30v1.8M454.89,412.30v1.8M456.94,412.30v1.8M458.72,412.30v1.8M460.30,412.30v1.8M461.70,412.30v3.0M470.94,412.30v1.8M476.35,412.30v1.8M480.18,412.30v1.8M483.16,412.30v1.8M485.59,412.30v1.8M487.64,412.30v1.8M489.42,412.30v1.8M491.00,412.30v1.8M492.40,412.30v3.0M501.64,412.30v1.8" stroke="#111" stroke-width="0.7" fill="none"/>
<text x="369.00" y="423.50" font-size="5.8" text-anchor="middle" fill="#1a1a1a" stroke="#1a1a1a" stroke-width="0.12">10<tspan font-size="3.3" dx="0.5" dy="-2.7">1</tspan></text>
<text x="399.70" y="423.50" font-size="5.8" text-anchor="middle" fill="#1a1a1a" stroke="#1a1a1a" stroke-width="0.12">10<tspan font-size="3.3" dx="0.5" dy="-2.7">2</tspan></text>
<text x="430.40" y="423.50" font-size="5.8" text-anchor="middle" fill="#1a1a1a" stroke="#1a1a1a" stroke-width="0.12">10<tspan font-size="3.3" dx="0.5" dy="-2.7">3</tspan></text>
<text x="461.10" y="423.50" font-size="5.8" text-anchor="middle" fill="#1a1a1a" stroke="#1a1a1a" stroke-width="0.12">10<tspan font-size="3.3" dx="0.5" dy="-2.7">4</tspan></text>
<text x="491.80" y="423.50" font-size="5.8" text-anchor="middle" fill="#1a1a1a" stroke="#1a1a1a" stroke-width="0.12">10<tspan font-size="3.3" dx="0.5" dy="-2.7">5</tspan></text>
<text transform="translate(422.88,436.50) scale(0.72,1)" font-size="6.8" font-weight="bold" text-anchor="middle" fill="#111" stroke="#111" stroke-width="0.3">APC-A</text>
<text x="426.00" y="236.60" font-size="8.3" text-anchor="middle" font-weight="normal" fill="#1a1a1a" stroke="#1a1a1a" stroke-width="0.16" >U2932</text>
<text x="68.90" y="263.70" font-size="6.15" text-anchor="end" font-weight="normal" fill="#1a1a1a" stroke="#1a1a1a" stroke-width="0.16" >Control</text>
<text x="74.00" y="275.50" font-size="6.15" text-anchor="end" font-weight="normal" fill="#1a1a1a" stroke="#1a1a1a" stroke-width="0.16" >15min</text>
<text x="74.00" y="287.20" font-size="6.15" text-anchor="end" font-weight="normal" fill="#1a1a1a" stroke="#1a1a1a" stroke-width="0.16" >30min</text>
<text x="74.00" y="298.80" font-size="6.15" text-anchor="end" font-weight="normal" fill="#1a1a1a" stroke="#1a1a1a" stroke-width="0.16" >60min</text>
<text x="43.40" y="286.80" font-size="6.15" text-anchor="end" font-weight="normal" fill="#1a1a1a" stroke="#1a1a1a" stroke-width="0.16" >50nM TDN</text>
<path d="M53.00,272.50H49.40V297.10H53.00M49.40,285.10h-2.8" stroke="#111" stroke-width="0.95" fill="none"/>
<text x="74.00" y="313.20" font-size="6.15" text-anchor="end" font-weight="normal" fill="#1a1a1a" stroke="#1a1a1a" stroke-width="0.16" >15min</text>
<text x="74.00" y="324.80" font-size="6.15" text-anchor="end" font-weight="normal" fill="#1a1a1a" stroke="#1a1a1a" stroke-width="0.16" >30min</text>
<text x="74.00" y="336.50" font-size="6.15" text-anchor="end" font-weight="normal" fill="#1a1a1a" stroke="#1a1a1a" stroke-width="0.16" >60min</text>
<text x="43.40" y="324.40" font-size="6.15" text-anchor="end" font-weight="normal" fill="#1a1a1a" stroke="#1a1a1a" stroke-width="0.16" >100nM TDN</text>
<path d="M53.00,310.20H49.40V334.80H53.00M49.40,322.70h-2.8" stroke="#111" stroke-width="0.95" fill="none"/>
<text x="74.00" y="349.20" font-size="6.15" text-anchor="end" font-weight="normal" fill="#1a1a1a" stroke="#1a1a1a" stroke-width="0.16" >15min</text>
<text x="74.00" y="360.70" font-size="6.15" text-anchor="end" font-weight="normal" fill="#1a1a1a" stroke="#1a1a1a" stroke-width="0.16" >30min</text>
<text x="74.00" y="372.60" font-size="6.15" text-anchor="end" font-weight="normal" fill="#1a1a1a" stroke="#1a1a1a" stroke-width="0.16" >60min</text>
<text x="43.40" y="360.30" font-size="6.15" text-anchor="end" font-weight="normal" fill="#1a1a1a" stroke="#1a1a1a" stroke-width="0.16" >50nM RTD</text>
<path d="M53.00,346.20H49.40V370.90H53.00M49.40,358.60h-2.8" stroke="#111" stroke-width="0.95" fill="none"/>
<text x="74.00" y="386.90" font-size="6.15" text-anchor="end" font-weight="normal" fill="#1a1a1a" stroke="#1a1a1a" stroke-width="0.16" >15min</text>
<text x="74.00" y="398.20" font-size="6.15" text-anchor="end" font-weight="normal" fill="#1a1a1a" stroke="#1a1a1a" stroke-width="0.16" >30min</text>
<text x="74.00" y="409.80" font-size="6.15" text-anchor="end" font-weight="normal" fill="#1a1a1a" stroke="#1a1a1a" stroke-width="0.16" >60min</text>
<text x="43.40" y="397.80" font-size="6.15" text-anchor="end" font-weight="normal" fill="#1a1a1a" stroke="#1a1a1a" stroke-width="0.16" >100nM RTD</text>
<path d="M53.00,383.90H49.40V408.10H53.00M49.40,396.10h-2.8" stroke="#111" stroke-width="0.95" fill="none"/>
<text x="330.40" y="264.50" font-size="6.15" text-anchor="end" font-weight="normal" fill="#1a1a1a" stroke="#1a1a1a" stroke-width="0.16" >Control</text>
<text x="335.50" y="277.50" font-size="6.15" text-anchor="end" font-weight="normal" fill="#1a1a1a" stroke="#1a1a1a" stroke-width="0.16" >15min</text>
<text x="335.50" y="289.20" font-size="6.15" text-anchor="end" font-weight="normal" fill="#1a1a1a" stroke="#1a1a1a" stroke-width="0.16" >30min</text>
<text x="335.50" y="300.80" font-size="6.15" text-anchor="end" font-weight="normal" fill="#1a1a1a" stroke="#1a1a1a" stroke-width="0.16" >60min</text>
<text x="304.90" y="288.80" font-size="6.15" text-anchor="end" font-weight="normal" fill="#1a1a1a" stroke="#1a1a1a" stroke-width="0.16" >50nM TDN</text>
<path d="M314.50,274.50H310.90V299.10H314.50M310.90,287.10h-2.8" stroke="#111" stroke-width="0.95" fill="none"/>
<text x="335.50" y="315.20" font-size="6.15" text-anchor="end" font-weight="normal" fill="#1a1a1a" stroke="#1a1a1a" stroke-width="0.16" >15min</text>
<text x="335.50" y="326.80" font-size="6.15" text-anchor="end" font-weight="normal" fill="#1a1a1a" stroke="#1a1a1a" stroke-width="0.16" >30min</text>
<text x="335.50" y="338.50" font-size="6.15" text-anchor="end" font-weight="normal" fill="#1a1a1a" stroke="#1a1a1a" stroke-width="0.16" >60min</text>
<text x="304.90" y="326.40" font-size="6.15" text-anchor="end" font-weight="normal" fill="#1a1a1a" stroke="#1a1a1a" stroke-width="0.16" >100nM TDN</text>
<path d="M314.50,312.20H310.90V336.80H314.50M310.90,324.70h-2.8" stroke="#111" stroke-width="0.95" fill="none"/>
<text x="335.50" y="351.20" font-size="6.15" text-anchor="end" font-weight="normal" fill="#1a1a1a" stroke="#1a1a1a" stroke-width="0.16" >15min</text>
<text x="335.50" y="362.70" font-size="6.15" text-anchor="end" font-weight="normal" fill="#1a1a1a" stroke="#1a1a1a" stroke-width="0.16" >30min</text>
<text x="335.50" y="374.60" font-size="6.15" text-anchor="end" font-weight="normal" fill="#1a1a1a" stroke="#1a1a1a" stroke-width="0.16" >60min</text>
<text x="304.90" y="362.30" font-size="6.15" text-anchor="end" font-weight="normal" fill="#1a1a1a" stroke="#1a1a1a" stroke-width="0.16" >50nM RTD</text>
<path d="M314.50,348.20H310.90V372.90H314.50M310.90,360.60h-2.8" stroke="#111" stroke-width="0.95" fill="none"/>
<text x="335.50" y="388.90" font-size="6.15" text-anchor="end" font-weight="normal" fill="#1a1a1a" stroke="#1a1a1a" stroke-width="0.16" >15min</text>
<text x="335.50" y="400.20" font-size="6.15" text-anchor="end" font-weight="normal" fill="#1a1a1a" stroke="#1a1a1a" stroke-width="0.16" >30min</text>
<text x="335.50" y="411.80" font-size="6.15" text-anchor="end" font-weight="normal" fill="#1a1a1a" stroke="#1a1a1a" stroke-width="0.16" >60min</text>
<text x="304.90" y="399.80" font-size="6.15" text-anchor="end" font-weight="normal" fill="#1a1a1a" stroke="#1a1a1a" stroke-width="0.16" >100nM RTD</text>
<path d="M314.50,385.90H310.90V410.10H314.50M310.90,398.10h-2.8" stroke="#111" stroke-width="0.95" fill="none"/>
<rect x="60.30" y="571.10" width="10" height="25.50" fill="#a88cba"/>
<path d="M65.30,570.10V572.10M63.70,570.10h3.2M63.70,572.10h3.2" stroke="#4a2a7c" stroke-width="0.6" fill="none"/>
<circle cx="61.70" cy="571.50" r="1.3" fill="#4a2a7c"/>
<circle cx="65.50" cy="569.60" r="1.3" fill="#4a2a7c"/>
<circle cx="69.10" cy="570.20" r="1.3" fill="#4a2a7c"/>
<text x="65.30" y="568.30" font-size="5.2" text-anchor="middle" fill="#111" stroke="#111" stroke-width="0.25" textLength="9.6" lengthAdjust="spacingAndGlyphs">****</text>
<rect x="75.30" y="533.30" width="10" height="63.30" fill="#f283c4"/>
<path d="M80.30,530.90V535.70M78.70,530.90h3.2M78.70,535.70h3.2" stroke="#d42f8c" stroke-width="0.6" fill="none"/>
<circle cx="77.30" cy="533.60" r="1.3" fill="#d42f8c"/>
<circle cx="79.60" cy="535.30" r="1.3" fill="#d42f8c"/>
<circle cx="83.10" cy="532.30" r="1.3" fill="#d42f8c"/>
<text x="80.30" y="529.70" font-size="5.2" text-anchor="middle" fill="#111" stroke="#111" stroke-width="0.25" textLength="9.6" lengthAdjust="spacingAndGlyphs">****</text>
<rect x="90.30" y="505.70" width="10" height="90.90" fill="#8fd5a0"/>
<path d="M95.30,505.00V506.40M93.70,505.00h3.2M93.70,506.40h3.2" stroke="#2d9c4c" stroke-width="0.6" fill="none"/>
<circle cx="91.50" cy="505.70" r="1.3" fill="#2d9c4c"/>
<circle cx="95.60" cy="504.70" r="1.3" fill="#2d9c4c"/>
<circle cx="98.60" cy="505.30" r="1.3" fill="#2d9c4c"/>
<text x="95.30" y="502.90" font-size="5.2" text-anchor="middle" fill="#111" stroke="#111" stroke-width="0.25" textLength="9.6" lengthAdjust="spacingAndGlyphs">****</text>
<rect x="105.30" y="518.30" width="10" height="78.30" fill="#8fd1f2"/>
<path d="M110.30,514.00V522.60M108.70,514.00h3.2M108.70,522.60h3.2" stroke="#2b8bd4" stroke-width="0.6" fill="none"/>
<circle cx="110.30" cy="514.50" r="1.3" fill="#2b8bd4"/>
<circle cx="109.80" cy="518.00" r="1.3" fill="#2b8bd4"/>
<circle cx="110.90" cy="520.90" r="1.3" fill="#2b8bd4"/>
<text x="110.30" y="512.80" font-size="5.2" text-anchor="middle" fill="#111" stroke="#111" stroke-width="0.25" textLength="9.6" lengthAdjust="spacingAndGlyphs">****</text>
<rect x="120.30" y="495.50" width="10" height="101.10" fill="#a0a8b1"/>
<path d="M125.30,494.90V496.10M123.70,494.90h3.2M123.70,496.10h3.2" stroke="#3b4856" stroke-width="0.6" fill="none"/>
<circle cx="121.50" cy="496.10" r="1.3" fill="#3b4856"/>
<circle cx="125.30" cy="495.10" r="1.3" fill="#3b4856"/>
<circle cx="128.50" cy="495.10" r="1.3" fill="#3b4856"/>
<text x="125.30" y="492.70" font-size="5.2" text-anchor="middle" fill="#111" stroke="#111" stroke-width="0.25" textLength="9.6" lengthAdjust="spacingAndGlyphs">****</text>
<rect x="135.30" y="494.90" width="10" height="101.70" fill="#7f9fbe"/>
<path d="M140.30,493.70V496.10M138.70,493.70h3.2M138.70,496.10h3.2" stroke="#1f4f8c" stroke-width="0.6" fill="none"/>
<circle cx="137.10" cy="495.90" r="1.3" fill="#1f4f8c"/>
<circle cx="140.50" cy="493.30" r="1.3" fill="#1f4f8c"/>
<circle cx="143.70" cy="495.10" r="1.3" fill="#1f4f8c"/>
<text x="140.30" y="492.10" font-size="5.2" text-anchor="middle" fill="#111" stroke="#111" stroke-width="0.25" textLength="9.6" lengthAdjust="spacingAndGlyphs">****</text>
<rect x="150.30" y="496.50" width="10" height="100.10" fill="#a88cba"/>
<path d="M155.30,496.00V497.00M153.70,496.00h3.2M153.70,497.00h3.2" stroke="#4a2a7c" stroke-width="0.6" fill="none"/>
<circle cx="151.90" cy="496.90" r="1.3" fill="#4a2a7c"/>
<circle cx="155.30" cy="496.30" r="1.3" fill="#4a2a7c"/>
<circle cx="158.70" cy="496.20" r="1.3" fill="#4a2a7c"/>
<text x="155.30" y="493.70" font-size="5.2" text-anchor="middle" fill="#111" stroke="#111" stroke-width="0.25" textLength="9.6" lengthAdjust="spacingAndGlyphs">****</text>
<rect x="165.30" y="490.30" width="10" height="106.30" fill="#f283c4"/>
<path d="M170.30,489.60V491.00M168.70,489.60h3.2M168.70,491.00h3.2" stroke="#d42f8c" stroke-width="0.6" fill="none"/>
<circle cx="166.90" cy="490.70" r="1.3" fill="#d42f8c"/>
<circle cx="170.30" cy="489.40" r="1.3" fill="#d42f8c"/>
<circle cx="173.70" cy="490.60" r="1.3" fill="#d42f8c"/>
<text x="170.30" y="487.50" font-size="5.2" text-anchor="middle" fill="#111" stroke="#111" stroke-width="0.25" textLength="9.6" lengthAdjust="spacingAndGlyphs">****</text>
<rect x="180.30" y="489.80" width="10" height="106.80" fill="#8fd5a0"/>
<path d="M185.30,489.30V490.30M183.70,489.30h3.2M183.70,490.30h3.2" stroke="#2d9c4c" stroke-width="0.6" fill="none"/>
<circle cx="181.90" cy="490.10" r="1.3" fill="#2d9c4c"/>
<circle cx="185.30" cy="489.40" r="1.3" fill="#2d9c4c"/>
<circle cx="188.70" cy="489.50" r="1.3" fill="#2d9c4c"/>
<text x="185.30" y="487.00" font-size="5.2" text-anchor="middle" fill="#111" stroke="#111" stroke-width="0.25" textLength="9.6" lengthAdjust="spacingAndGlyphs">****</text>
<rect x="195.30" y="504.00" width="10" height="92.60" fill="#8fd1f2"/>
<path d="M200.30,500.40V507.60M198.70,500.40h3.2M198.70,507.60h3.2" stroke="#2b8bd4" stroke-width="0.6" fill="none"/>
<circle cx="198.90" cy="501.10" r="1.3" fill="#2b8bd4"/>
<circle cx="200.30" cy="505.20" r="1.3" fill="#2b8bd4"/>
<circle cx="202.90" cy="500.60" r="1.3" fill="#2b8bd4"/>
<text x="200.30" y="499.20" font-size="5.2" text-anchor="middle" fill="#111" stroke="#111" stroke-width="0.25" textLength="9.6" lengthAdjust="spacingAndGlyphs">****</text>
<rect x="210.30" y="483.50" width="10" height="113.10" fill="#a0a8b1"/>
<path d="M215.30,482.90V484.10M213.70,482.90h3.2M213.70,484.10h3.2" stroke="#3b4856" stroke-width="0.6" fill="none"/>
<circle cx="211.90" cy="483.80" r="1.3" fill="#3b4856"/>
<circle cx="215.30" cy="482.90" r="1.3" fill="#3b4856"/>
<circle cx="218.70" cy="483.70" r="1.3" fill="#3b4856"/>
<text x="215.30" y="480.70" font-size="5.2" text-anchor="middle" fill="#111" stroke="#111" stroke-width="0.25" textLength="9.6" lengthAdjust="spacingAndGlyphs">****</text>
<rect x="225.30" y="481.50" width="10" height="115.10" fill="#7f9fbe"/>
<path d="M230.30,481.20V481.80M228.70,481.20h3.2M228.70,481.80h3.2" stroke="#1f4f8c" stroke-width="0.6" fill="none"/>
<circle cx="226.90" cy="481.50" r="1.3" fill="#1f4f8c"/>
<circle cx="230.30" cy="481.50" r="1.3" fill="#1f4f8c"/>
<circle cx="233.70" cy="481.50" r="1.3" fill="#1f4f8c"/>
<text x="230.30" y="478.70" font-size="5.2" text-anchor="middle" fill="#111" stroke="#111" stroke-width="0.25" textLength="9.6" lengthAdjust="spacingAndGlyphs">****</text>
<rect x="45.30" y="595.60" width="10" height="1.00" fill="#7fa0d0"/>
<circle cx="46.30" cy="595.70" r="1.25" fill="#235f9a"/>
<circle cx="50.30" cy="595.70" r="1.25" fill="#235f9a"/>
<circle cx="54.30" cy="595.70" r="1.25" fill="#235f9a"/>
<path d="M40.20,474.15V597.10" stroke="#111" stroke-width="1.3" fill="none"/>
<path d="M37.00,596.60H240.60" stroke="#111" stroke-width="1.3" fill="none"/>
<text x="34.40" y="598.80" font-size="6.15" text-anchor="end" font-weight="normal" fill="#1a1a1a" stroke="#1a1a1a" stroke-width="0.16" >0</text>
<path d="M37.20,572.19h3" stroke="#111" stroke-width="1.1"/>
<text x="34.40" y="574.39" font-size="6.15" text-anchor="end" font-weight="normal" fill="#1a1a1a" stroke="#1a1a1a" stroke-width="0.16" >20</text>
<path d="M37.20,547.78h3" stroke="#111" stroke-width="1.1"/>
<text x="34.40" y="549.98" font-size="6.15" text-anchor="end" font-weight="normal" fill="#1a1a1a" stroke="#1a1a1a" stroke-width="0.16" >40</text>
<path d="M37.20,523.37h3" stroke="#111" stroke-width="1.1"/>
<text x="34.40" y="525.57" font-size="6.15" text-anchor="end" font-weight="normal" fill="#1a1a1a" stroke="#1a1a1a" stroke-width="0.16" >60</text>
<path d="M37.20,498.96h3" stroke="#111" stroke-width="1.1"/>
<text x="34.40" y="501.16" font-size="6.15" text-anchor="end" font-weight="normal" fill="#1a1a1a" stroke="#1a1a1a" stroke-width="0.16" >80</text>
<path d="M37.20,474.55h3" stroke="#111" stroke-width="1.1"/>
<text x="34.40" y="476.75" font-size="6.15" text-anchor="end" font-weight="normal" fill="#1a1a1a" stroke="#1a1a1a" stroke-width="0.16" >100</text>
<path d="M50.30,596.60v2.8" stroke="#111" stroke-width="0.8"/>
<text x="50.50" y="608.10" font-size="6.15" text-anchor="middle" font-weight="normal" fill="#1a1a1a" stroke="#1a1a1a" stroke-width="0.16" >Ctrl</text>
<path d="M65.30,596.60v2.8" stroke="#111" stroke-width="0.8"/>
<text x="65.50" y="608.10" font-size="6.15" text-anchor="middle" font-weight="normal" fill="#1a1a1a" stroke="#1a1a1a" stroke-width="0.16" >15</text>
<path d="M80.30,596.60v2.8" stroke="#111" stroke-width="0.8"/>
<text x="80.50" y="608.10" font-size="6.15" text-anchor="middle" font-weight="normal" fill="#1a1a1a" stroke="#1a1a1a" stroke-width="0.16" >30</text>
<path d="M95.30,596.60v2.8" stroke="#111" stroke-width="0.8"/>
<text x="95.50" y="608.10" font-size="6.15" text-anchor="middle" font-weight="normal" fill="#1a1a1a" stroke="#1a1a1a" stroke-width="0.16" >60</text>
<path d="M110.30,596.60v2.8" stroke="#111" stroke-width="0.8"/>
<text x="110.50" y="608.10" font-size="6.15" text-anchor="middle" font-weight="normal" fill="#1a1a1a" stroke="#1a1a1a" stroke-width="0.16" >15</text>
<path d="M125.30,596.60v2.8" stroke="#111" stroke-width="0.8"/>
<text x="125.50" y="608.10" font-size="6.15" text-anchor="middle" font-weight="normal" fill="#1a1a1a" stroke="#1a1a1a" stroke-width="0.16" >30</text>
<path d="M140.30,596.60v2.8" stroke="#111" stroke-width="0.8"/>
<text x="140.50" y="608.10" font-size="6.15" text-anchor="middle" font-weight="normal" fill="#1a1a1a" stroke="#1a1a1a" stroke-width="0.16" >60</text>
<path d="M155.30,596.60v2.8" stroke="#111" stroke-width="0.8"/>
<text x="155.50" y="608.10" font-size="6.15" text-anchor="middle" font-weight="normal" fill="#1a1a1a" stroke="#1a1a1a" stroke-width="0.16" >15</text>
<path d="M170.30,596.60v2.8" stroke="#111" stroke-width="0.8"/>
<text x="170.50" y="608.10" font-size="6.15" text-anchor="middle" font-weight="normal" fill="#1a1a1a" stroke="#1a1a1a" stroke-width="0.16" >30</text>
<path d="M185.30,596.60v2.8" stroke="#111" stroke-width="0.8"/>
<text x="185.50" y="608.10" font-size="6.15" text-anchor="middle" font-weight="normal" fill="#1a1a1a" stroke="#1a1a1a" stroke-width="0.16" >60</text>
<path d="M200.30,596.60v2.8" stroke="#111" stroke-width="0.8"/>
<text x="200.50" y="608.10" font-size="6.15" text-anchor="middle" font-weight="normal" fill="#1a1a1a" stroke="#1a1a1a" stroke-width="0.16" >15</text>
<path d="M215.30,596.60v2.8" stroke="#111" stroke-width="0.8"/>
<text x="215.50" y="608.10" font-size="6.15" text-anchor="middle" font-weight="normal" fill="#1a1a1a" stroke="#1a1a1a" stroke-width="0.16" >30</text>
<path d="M230.30,596.60v2.8" stroke="#111" stroke-width="0.8"/>
<text x="230.50" y="608.10" font-size="6.15" text-anchor="middle" font-weight="normal" fill="#1a1a1a" stroke="#1a1a1a" stroke-width="0.16" >60</text>
<text x="244.90" y="608.10" font-size="6.15" text-anchor="middle" font-weight="normal" fill="#1a1a1a" stroke="#1a1a1a" stroke-width="0.16" >(min)</text>
<path d="M65.60,612.20v3.1H95.60v-3.1" stroke="#111" stroke-width="0.95" fill="none"/>
<text x="80.90" y="624.40" font-size="6.15" text-anchor="middle" font-weight="normal" fill="#1a1a1a" stroke="#1a1a1a" stroke-width="0.16" >50nM</text>
<path d="M110.60,612.20v3.1H140.60v-3.1" stroke="#111" stroke-width="0.95" fill="none"/>
<text x="125.90" y="624.40" font-size="6.15" text-anchor="middle" font-weight="normal" fill="#1a1a1a" stroke="#1a1a1a" stroke-width="0.16" >100nM</text>
<path d="M155.60,612.20v3.1H185.60v-3.1" stroke="#111" stroke-width="0.95" fill="none"/>
<text x="170.90" y="624.40" font-size="6.15" text-anchor="middle" font-weight="normal" fill="#1a1a1a" stroke="#1a1a1a" stroke-width="0.16" >50nM</text>
<path d="M200.60,612.20v3.1H230.60v-3.1" stroke="#111" stroke-width="0.95" fill="none"/>
<text x="215.90" y="624.40" font-size="6.15" text-anchor="middle" font-weight="normal" fill="#1a1a1a" stroke="#1a1a1a" stroke-width="0.16" >100nM</text>
<path d="M79.50,628.90v2.7H125.00v-2.7" stroke="#111" stroke-width="0.95" fill="none"/>
<text x="102.55" y="640.50" font-size="6.15" text-anchor="middle" font-weight="normal" fill="#1a1a1a" stroke="#1a1a1a" stroke-width="0.16" >TDN</text>
<path d="M169.50,628.90v2.7H215.30v-2.7" stroke="#111" stroke-width="0.95" fill="none"/>
<text x="192.70" y="640.50" font-size="6.15" text-anchor="middle" font-weight="normal" fill="#1a1a1a" stroke="#1a1a1a" stroke-width="0.16" >RTD</text>
<path d="M65.40,478.60V475.00H155.60v3.6" stroke="#111" stroke-width="0.95" fill="none"/>
<text x="110.20" y="475.00" font-size="5.2" text-anchor="middle" fill="#111" stroke="#111" stroke-width="0.25" textLength="9.6" lengthAdjust="spacingAndGlyphs">****</text>
<text x="139.70" y="465.00" font-size="8.3" text-anchor="middle" font-weight="normal" fill="#1a1a1a" stroke="#1a1a1a" stroke-width="0.16" >SU-DHL-4</text>
<text transform="translate(17.30,536.08) rotate(-90) scale(0.76,1)" font-size="7" font-weight="bold" text-anchor="middle" fill="#111" stroke="#111" stroke-width="0.3">Cy5%</text>
<rect x="320.00" y="535.80" width="10" height="60.80" fill="#a88cba"/>
<path d="M325.00,535.00V536.60M323.40,535.00h3.2M323.40,536.60h3.2" stroke="#4a2a7c" stroke-width="0.6" fill="none"/>
<circle cx="321.40" cy="536.60" r="1.3" fill="#4a2a7c"/>
<circle cx="325.00" cy="534.80" r="1.3" fill="#4a2a7c"/>
<circle cx="328.60" cy="535.60" r="1.3" fill="#4a2a7c"/>
<text x="325.00" y="533.00" font-size="5.2" text-anchor="middle" fill="#111" stroke="#111" stroke-width="0.25" textLength="9.6" lengthAdjust="spacingAndGlyphs">****</text>
<rect x="335.10" y="534.50" width="10" height="62.10" fill="#f283c4"/>
<path d="M340.10,533.70V535.30M338.50,533.70h3.2M338.50,535.30h3.2" stroke="#d42f8c" stroke-width="0.6" fill="none"/>
<circle cx="336.70" cy="535.10" r="1.3" fill="#d42f8c"/>
<circle cx="340.10" cy="533.30" r="1.3" fill="#d42f8c"/>
<circle cx="343.50" cy="534.70" r="1.3" fill="#d42f8c"/>
<text x="340.10" y="531.70" font-size="5.2" text-anchor="middle" fill="#111" stroke="#111" stroke-width="0.25" textLength="9.6" lengthAdjust="spacingAndGlyphs">****</text>
<rect x="350.20" y="529.80" width="10" height="66.80" fill="#8fd5a0"/>
<path d="M355.20,529.30V530.30M353.60,529.30h3.2M353.60,530.30h3.2" stroke="#2d9c4c" stroke-width="0.6" fill="none"/>
<circle cx="351.80" cy="530.30" r="1.3" fill="#2d9c4c"/>
<circle cx="355.20" cy="529.50" r="1.3" fill="#2d9c4c"/>
<circle cx="358.60" cy="529.30" r="1.3" fill="#2d9c4c"/>
<text x="355.20" y="527.00" font-size="5.2" text-anchor="middle" fill="#111" stroke="#111" stroke-width="0.25" textLength="9.6" lengthAdjust="spacingAndGlyphs">****</text>
<rect x="365.30" y="523.30" width="10" height="73.30" fill="#8fd1f2"/>
<path d="M370.30,521.70V524.90M368.70,521.70h3.2M368.70,524.90h3.2" stroke="#2b8bd4" stroke-width="0.6" fill="none"/>
<circle cx="367.30" cy="522.70" r="1.3" fill="#2b8bd4"/>
<circle cx="370.30" cy="525.10" r="1.3" fill="#2b8bd4"/>
<circle cx="373.50" cy="521.90" r="1.3" fill="#2b8bd4"/>
<text x="370.30" y="520.50" font-size="5.2" text-anchor="middle" fill="#111" stroke="#111" stroke-width="0.25" textLength="9.6" lengthAdjust="spacingAndGlyphs">****</text>
<rect x="380.40" y="519.00" width="10" height="77.60" fill="#a0a8b1"/>
<path d="M385.40,518.50V519.50M383.80,518.50h3.2M383.80,519.50h3.2" stroke="#3b4856" stroke-width="0.6" fill="none"/>
<circle cx="382.00" cy="519.50" r="1.3" fill="#3b4856"/>
<circle cx="385.40" cy="518.40" r="1.3" fill="#3b4856"/>
<circle cx="388.80" cy="519.00" r="1.3" fill="#3b4856"/>
<text x="385.40" y="516.20" font-size="5.2" text-anchor="middle" fill="#111" stroke="#111" stroke-width="0.25" textLength="9.6" lengthAdjust="spacingAndGlyphs">****</text>
<rect x="395.50" y="510.80" width="10" height="85.80" fill="#7f9fbe"/>
<path d="M400.50,509.80V511.80M398.90,509.80h3.2M398.90,511.80h3.2" stroke="#1f4f8c" stroke-width="0.6" fill="none"/>
<circle cx="397.10" cy="512.00" r="1.3" fill="#1f4f8c"/>
<circle cx="400.50" cy="510.20" r="1.3" fill="#1f4f8c"/>
<circle cx="403.90" cy="510.00" r="1.3" fill="#1f4f8c"/>
<text x="400.50" y="508.00" font-size="5.2" text-anchor="middle" fill="#111" stroke="#111" stroke-width="0.25" textLength="9.6" lengthAdjust="spacingAndGlyphs">****</text>
<rect x="410.60" y="505.30" width="10" height="91.30" fill="#a88cba"/>
<path d="M415.60,504.80V505.80M414.00,504.80h3.2M414.00,505.80h3.2" stroke="#4a2a7c" stroke-width="0.6" fill="none"/>
<circle cx="412.20" cy="505.90" r="1.3" fill="#4a2a7c"/>
<circle cx="415.60" cy="504.90" r="1.3" fill="#4a2a7c"/>
<circle cx="419.00" cy="504.90" r="1.3" fill="#4a2a7c"/>
<text x="415.60" y="502.50" font-size="5.2" text-anchor="middle" fill="#111" stroke="#111" stroke-width="0.25" textLength="9.6" lengthAdjust="spacingAndGlyphs">****</text>
<rect x="425.70" y="502.30" width="10" height="94.30" fill="#f283c4"/>
<path d="M430.70,501.60V503.00M429.10,501.60h3.2M429.10,503.00h3.2" stroke="#d42f8c" stroke-width="0.6" fill="none"/>
<circle cx="427.30" cy="502.90" r="1.3" fill="#d42f8c"/>
<circle cx="430.70" cy="501.30" r="1.3" fill="#d42f8c"/>
<circle cx="434.10" cy="502.60" r="1.3" fill="#d42f8c"/>
<text x="430.70" y="499.50" font-size="5.2" text-anchor="middle" fill="#111" stroke="#111" stroke-width="0.25" textLength="9.6" lengthAdjust="spacingAndGlyphs">****</text>
<rect x="440.80" y="502.80" width="10" height="93.80" fill="#8fd5a0"/>
<path d="M445.80,502.50V503.10M444.20,502.50h3.2M444.20,503.10h3.2" stroke="#2d9c4c" stroke-width="0.6" fill="none"/>
<circle cx="442.40" cy="503.00" r="1.3" fill="#2d9c4c"/>
<circle cx="445.80" cy="502.60" r="1.3" fill="#2d9c4c"/>
<circle cx="449.20" cy="502.80" r="1.3" fill="#2d9c4c"/>
<text x="445.80" y="500.00" font-size="5.2" text-anchor="middle" fill="#111" stroke="#111" stroke-width="0.25" textLength="9.6" lengthAdjust="spacingAndGlyphs">****</text>
<rect x="455.90" y="499.80" width="10" height="96.80" fill="#8fd1f2"/>
<path d="M460.90,499.40V500.20M459.30,499.40h3.2M459.30,500.20h3.2" stroke="#2b8bd4" stroke-width="0.6" fill="none"/>
<circle cx="457.50" cy="500.20" r="1.3" fill="#2b8bd4"/>
<circle cx="460.90" cy="499.50" r="1.3" fill="#2b8bd4"/>
<circle cx="464.30" cy="499.80" r="1.3" fill="#2b8bd4"/>
<text x="460.90" y="497.00" font-size="5.2" text-anchor="middle" fill="#111" stroke="#111" stroke-width="0.25" textLength="9.6" lengthAdjust="spacingAndGlyphs">****</text>
<rect x="471.00" y="493.30" width="10" height="103.30" fill="#a0a8b1"/>
<path d="M476.00,492.90V493.70M474.40,492.90h3.2M474.40,493.70h3.2" stroke="#3b4856" stroke-width="0.6" fill="none"/>
<circle cx="472.60" cy="493.60" r="1.3" fill="#3b4856"/>
<circle cx="476.00" cy="492.80" r="1.3" fill="#3b4856"/>
<circle cx="479.40" cy="493.30" r="1.3" fill="#3b4856"/>
<text x="476.00" y="490.50" font-size="5.2" text-anchor="middle" fill="#111" stroke="#111" stroke-width="0.25" textLength="9.6" lengthAdjust="spacingAndGlyphs">****</text>
<rect x="486.10" y="494.00" width="10" height="102.60" fill="#7f9fbe"/>
<path d="M491.10,493.00V495.00M489.50,493.00h3.2M489.50,495.00h3.2" stroke="#1f4f8c" stroke-width="0.6" fill="none"/>
<circle cx="487.70" cy="495.00" r="1.3" fill="#1f4f8c"/>
<circle cx="491.10" cy="493.20" r="1.3" fill="#1f4f8c"/>
<circle cx="494.50" cy="493.10" r="1.3" fill="#1f4f8c"/>
<text x="491.10" y="491.20" font-size="5.2" text-anchor="middle" fill="#111" stroke="#111" stroke-width="0.25" textLength="9.6" lengthAdjust="spacingAndGlyphs">****</text>
<rect x="304.90" y="596.30" width="10" height="0.30" fill="#7fa0d0"/>
<circle cx="305.90" cy="596.40" r="1.25" fill="#235f9a"/>
<circle cx="309.90" cy="596.40" r="1.25" fill="#235f9a"/>
<circle cx="313.90" cy="596.40" r="1.25" fill="#235f9a"/>
<path d="M299.30,472.45V597.10" stroke="#111" stroke-width="1.3" fill="none"/>
<path d="M296.10,596.60H501.40" stroke="#111" stroke-width="1.3" fill="none"/>
<text x="293.50" y="598.80" font-size="6.15" text-anchor="end" font-weight="normal" fill="#1a1a1a" stroke="#1a1a1a" stroke-width="0.16" >0</text>
<path d="M296.30,571.85h3" stroke="#111" stroke-width="1.1"/>
<text x="293.50" y="574.05" font-size="6.15" text-anchor="end" font-weight="normal" fill="#1a1a1a" stroke="#1a1a1a" stroke-width="0.16" >20</text>
<path d="M296.30,547.10h3" stroke="#111" stroke-width="1.1"/>
<text x="293.50" y="549.30" font-size="6.15" text-anchor="end" font-weight="normal" fill="#1a1a1a" stroke="#1a1a1a" stroke-width="0.16" >40</text>
<path d="M296.30,522.35h3" stroke="#111" stroke-width="1.1"/>
<text x="293.50" y="524.55" font-size="6.15" text-anchor="end" font-weight="normal" fill="#1a1a1a" stroke="#1a1a1a" stroke-width="0.16" >60</text>
<path d="M296.30,497.60h3" stroke="#111" stroke-width="1.1"/>
<text x="293.50" y="499.80" font-size="6.15" text-anchor="end" font-weight="normal" fill="#1a1a1a" stroke="#1a1a1a" stroke-width="0.16" >80</text>
<path d="M296.30,472.85h3" stroke="#111" stroke-width="1.1"/>
<text x="293.50" y="475.05" font-size="6.15" text-anchor="end" font-weight="normal" fill="#1a1a1a" stroke="#1a1a1a" stroke-width="0.16" >100</text>
<path d="M309.90,596.60v2.8" stroke="#111" stroke-width="0.8"/>
<text x="310.10" y="608.10" font-size="6.15" text-anchor="middle" font-weight="normal" fill="#1a1a1a" stroke="#1a1a1a" stroke-width="0.16" >Ctrl</text>
<path d="M325.00,596.60v2.8" stroke="#111" stroke-width="0.8"/>
<text x="325.20" y="608.10" font-size="6.15" text-anchor="middle" font-weight="normal" fill="#1a1a1a" stroke="#1a1a1a" stroke-width="0.16" >15</text>
<path d="M340.10,596.60v2.8" stroke="#111" stroke-width="0.8"/>
<text x="340.30" y="608.10" font-size="6.15" text-anchor="middle" font-weight="normal" fill="#1a1a1a" stroke="#1a1a1a" stroke-width="0.16" >30</text>
<path d="M355.20,596.60v2.8" stroke="#111" stroke-width="0.8"/>
<text x="355.40" y="608.10" font-size="6.15" text-anchor="middle" font-weight="normal" fill="#1a1a1a" stroke="#1a1a1a" stroke-width="0.16" >60</text>
<path d="M370.30,596.60v2.8" stroke="#111" stroke-width="0.8"/>
<text x="370.50" y="608.10" font-size="6.15" text-anchor="middle" font-weight="normal" fill="#1a1a1a" stroke="#1a1a1a" stroke-width="0.16" >15</text>
<path d="M385.40,596.60v2.8" stroke="#111" stroke-width="0.8"/>
<text x="385.60" y="608.10" font-size="6.15" text-anchor="middle" font-weight="normal" fill="#1a1a1a" stroke="#1a1a1a" stroke-width="0.16" >30</text>
<path d="M400.50,596.60v2.8" stroke="#111" stroke-width="0.8"/>
<text x="400.70" y="608.10" font-size="6.15" text-anchor="middle" font-weight="normal" fill="#1a1a1a" stroke="#1a1a1a" stroke-width="0.16" >60</text>
<path d="M415.60,596.60v2.8" stroke="#111" stroke-width="0.8"/>
<text x="415.80" y="608.10" font-size="6.15" text-anchor="middle" font-weight="normal" fill="#1a1a1a" stroke="#1a1a1a" stroke-width="0.16" >15</text>
<path d="M430.70,596.60v2.8" stroke="#111" stroke-width="0.8"/>
<text x="430.90" y="608.10" font-size="6.15" text-anchor="middle" font-weight="normal" fill="#1a1a1a" stroke="#1a1a1a" stroke-width="0.16" >30</text>
<path d="M445.80,596.60v2.8" stroke="#111" stroke-width="0.8"/>
<text x="446.00" y="608.10" font-size="6.15" text-anchor="middle" font-weight="normal" fill="#1a1a1a" stroke="#1a1a1a" stroke-width="0.16" >60</text>
<path d="M460.90,596.60v2.8" stroke="#111" stroke-width="0.8"/>
<text x="461.10" y="608.10" font-size="6.15" text-anchor="middle" font-weight="normal" fill="#1a1a1a" stroke="#1a1a1a" stroke-width="0.16" >15</text>
<path d="M476.00,596.60v2.8" stroke="#111" stroke-width="0.8"/>
<text x="476.20" y="608.10" font-size="6.15" text-anchor="middle" font-weight="normal" fill="#1a1a1a" stroke="#1a1a1a" stroke-width="0.16" >30</text>
<path d="M491.10,596.60v2.8" stroke="#111" stroke-width="0.8"/>
<text x="491.30" y="608.10" font-size="6.15" text-anchor="middle" font-weight="normal" fill="#1a1a1a" stroke="#1a1a1a" stroke-width="0.16" >60</text>
<text x="505.70" y="608.10" font-size="6.15" text-anchor="middle" font-weight="normal" fill="#1a1a1a" stroke="#1a1a1a" stroke-width="0.16" >(min)</text>
<path d="M325.30,612.20v3.1H355.50v-3.1" stroke="#111" stroke-width="0.95" fill="none"/>
<text x="340.70" y="624.40" font-size="6.15" text-anchor="middle" font-weight="normal" fill="#1a1a1a" stroke="#1a1a1a" stroke-width="0.16" >50nM</text>
<path d="M370.60,612.20v3.1H400.80v-3.1" stroke="#111" stroke-width="0.95" fill="none"/>
<text x="386.00" y="624.40" font-size="6.15" text-anchor="middle" font-weight="normal" fill="#1a1a1a" stroke="#1a1a1a" stroke-width="0.16" >100nM</text>
<path d="M415.90,612.20v3.1H446.10v-3.1" stroke="#111" stroke-width="0.95" fill="none"/>
<text x="431.30" y="624.40" font-size="6.15" text-anchor="middle" font-weight="normal" fill="#1a1a1a" stroke="#1a1a1a" stroke-width="0.16" >50nM</text>
<path d="M461.20,612.20v3.1H491.40v-3.1" stroke="#111" stroke-width="0.95" fill="none"/>
<text x="476.60" y="624.40" font-size="6.15" text-anchor="middle" font-weight="normal" fill="#1a1a1a" stroke="#1a1a1a" stroke-width="0.16" >100nM</text>
<path d="M339.30,628.90v2.7H385.10v-2.7" stroke="#111" stroke-width="0.95" fill="none"/>
<text x="362.50" y="640.50" font-size="6.15" text-anchor="middle" font-weight="normal" fill="#1a1a1a" stroke="#1a1a1a" stroke-width="0.16" >TDN</text>
<path d="M429.90,628.90v2.7H476.00v-2.7" stroke="#111" stroke-width="0.95" fill="none"/>
<text x="453.25" y="640.50" font-size="6.15" text-anchor="middle" font-weight="normal" fill="#1a1a1a" stroke="#1a1a1a" stroke-width="0.16" >RTD</text>
<path d="M324.60,488.60V485.00H414.30v3.6" stroke="#111" stroke-width="0.95" fill="none"/>
<text x="369.30" y="485.00" font-size="5.2" text-anchor="middle" fill="#111" stroke="#111" stroke-width="0.25" textLength="9.6" lengthAdjust="spacingAndGlyphs">****</text>
<text x="401.20" y="465.00" font-size="8.3" text-anchor="middle" font-weight="normal" fill="#1a1a1a" stroke="#1a1a1a" stroke-width="0.16" >U2932</text>
<text transform="translate(277.30,535.23) rotate(-90) scale(0.76,1)" font-size="7" font-weight="bold" text-anchor="middle" fill="#111" stroke="#111" stroke-width="0.3">Cy5%</text>
<rect x="0.5" y="0.5" width="519" height="647" fill="none" stroke="#3a3a3a" stroke-width="1.1"/>
</svg>
</body></html>
